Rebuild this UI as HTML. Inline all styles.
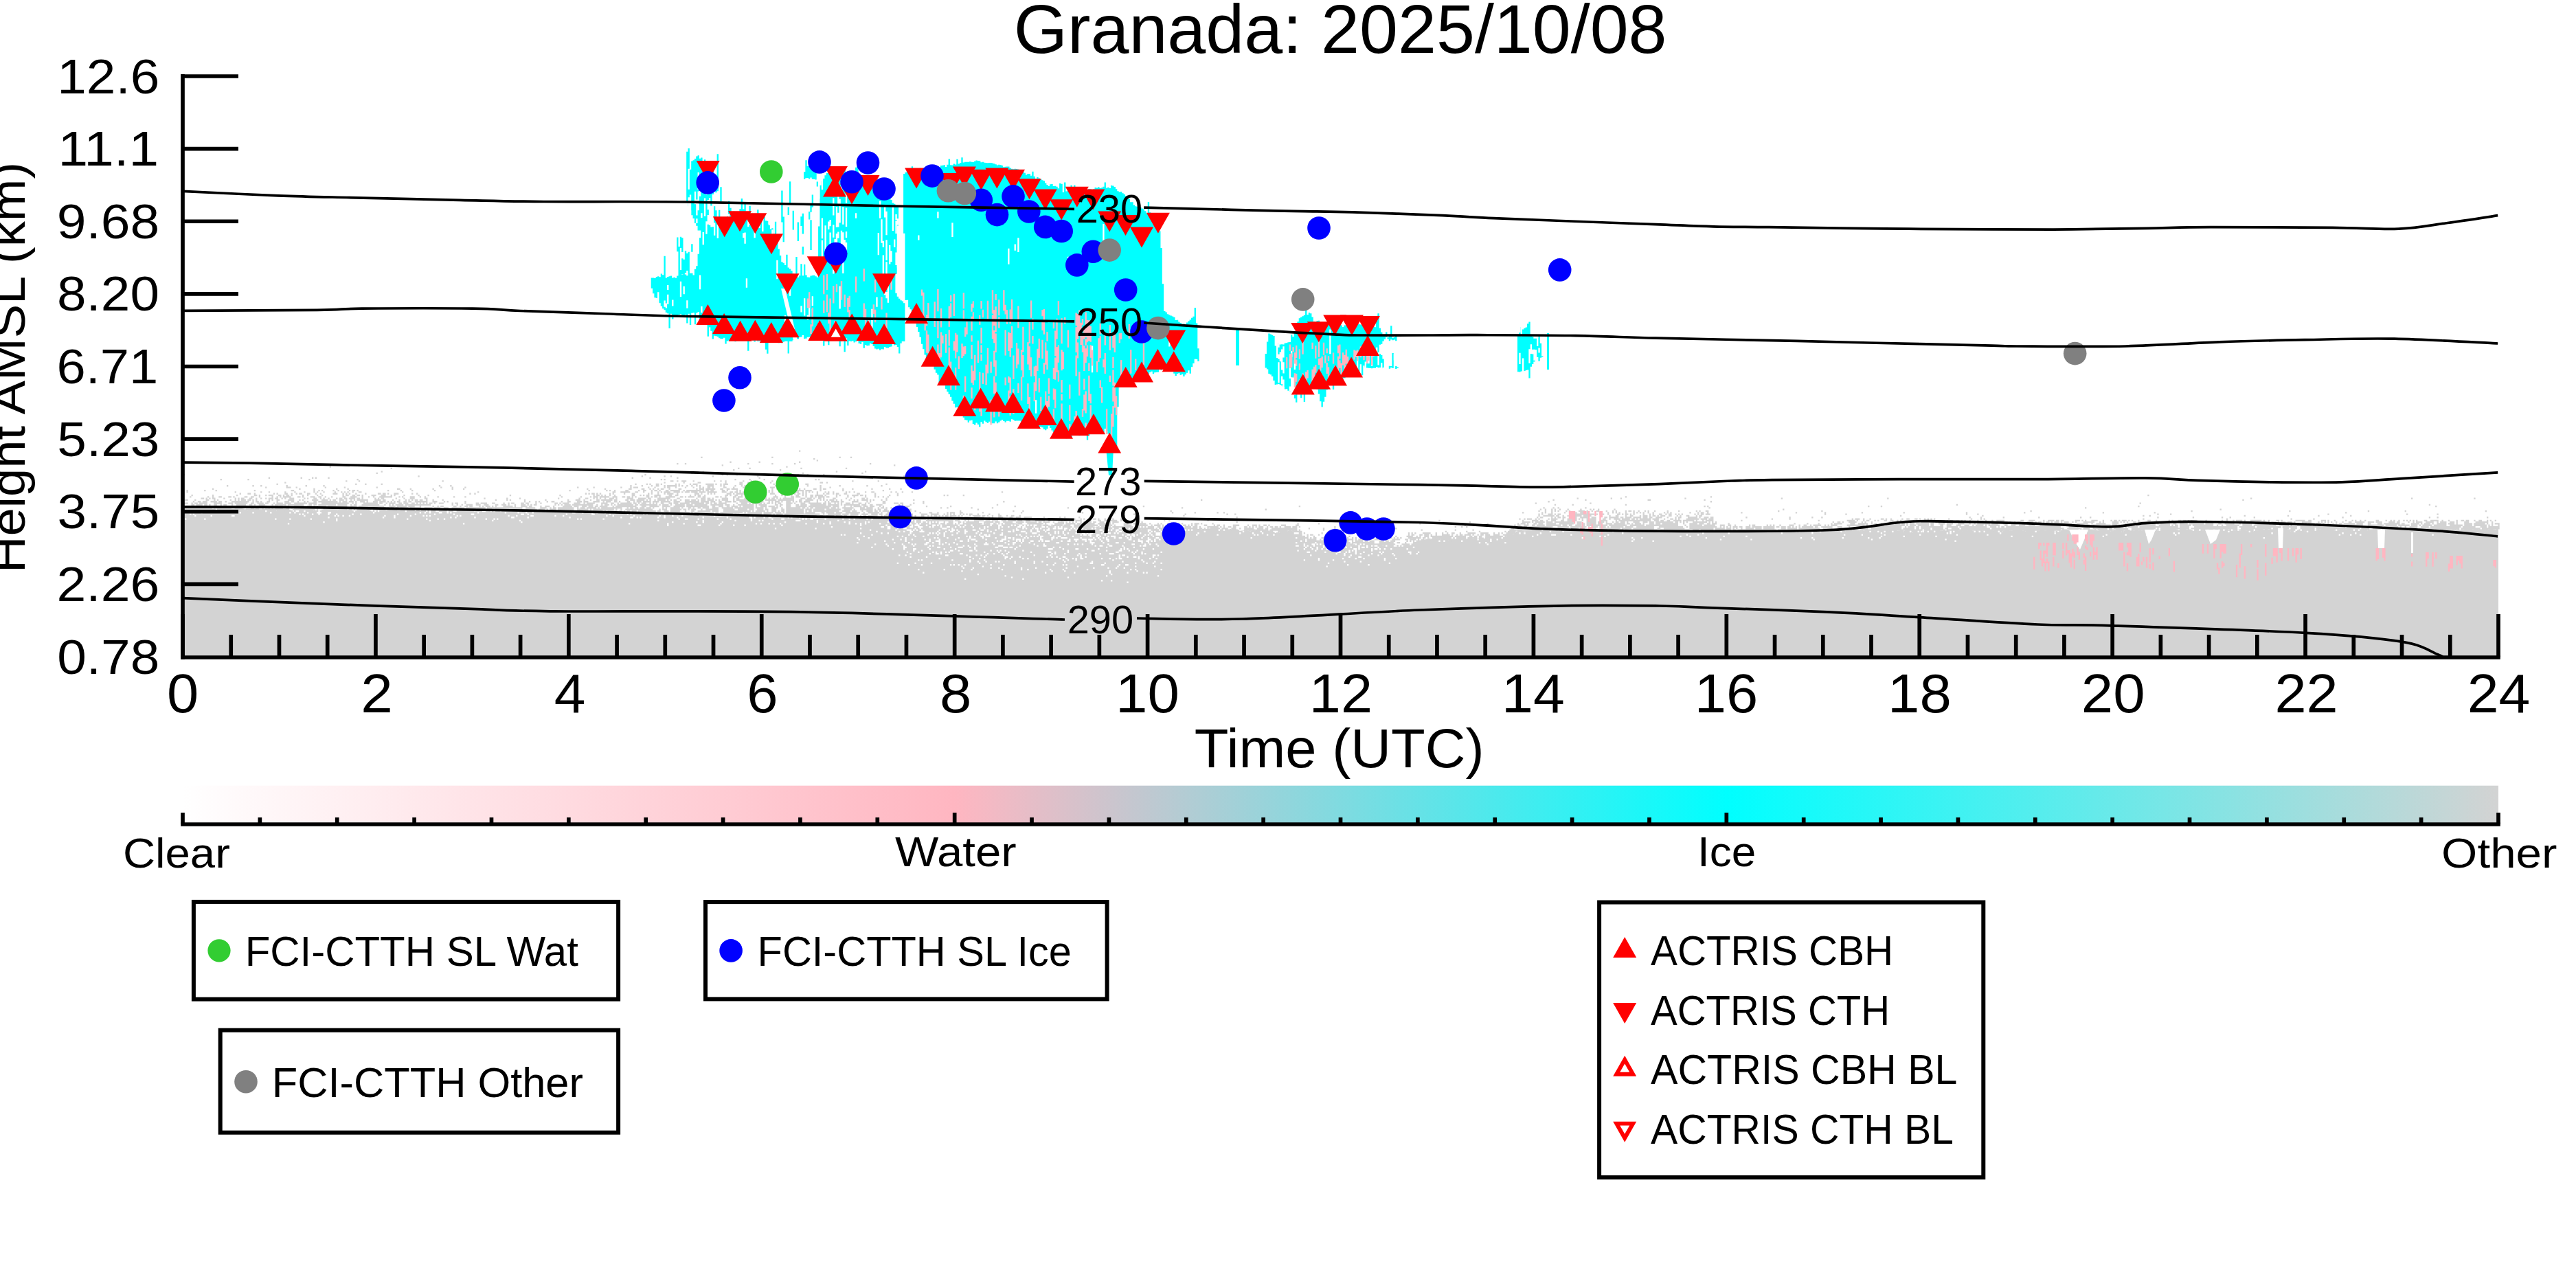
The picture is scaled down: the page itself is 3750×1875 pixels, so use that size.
<!DOCTYPE html>
<html><head><meta charset="utf-8"><style>html,body{margin:0;padding:0;background:#fff;width:3750px;height:1875px;overflow:hidden;position:relative}</style></head><body><svg width="3750" height="1875" viewBox="0 0 3750 1875" style="display:block;position:absolute;left:0;top:0" font-family='"Liberation Sans", sans-serif'>
<rect x="0" y="0" width="3750" height="1875" fill="#fff"/>
<path fill="#d3d3d3" d="M266 741.15V957H266.76V741.15zM266.76 741.02V957H269.1V741.02zM269.1 743.24V957H271.44V743.24zM271.44 742.33V957H273.78V742.33zM273.78 742.14V957H276.12V742.14zM276.12 741.6V957H278.46V741.6zM278.46 741.19V957H280.8V741.19zM280.8 741.33V957H283.14V741.33zM283.14 742.23V957H285.48V742.23zM285.48 742.15V957H287.82V742.15zM287.82 744.42V957H290.16V744.42zM290.16 743.89V957H292.5V743.89zM292.5 741.31V957H294.84V741.31zM294.84 741.19V957H297.18V741.19zM297.18 743.18V957H299.52V743.18zM299.52 743.92V957H301.86V743.92zM301.86 741.47V957H304.2V741.47zM304.2 741.89V957H306.54V741.89zM306.54 741.22V957H308.88V741.22zM308.88 742.71V957H311.22V742.71zM311.22 741.07V957H313.56V741.07zM313.56 742.39V957H315.9V742.39zM315.9 741.71V957H318.24V741.71zM318.24 741.38V957H320.58V741.38zM320.58 741.99V957H322.92V741.99zM322.92 741.07V957H325.26V741.07zM325.26 742.08V957H327.6V742.08zM327.6 741.94V957H329.94V741.94zM329.94 742.75V957H332.28V742.75zM332.28 742.29V957H334.62V742.29zM334.62 743.16V957H336.96V743.16zM336.96 742.56V957H339.3V742.56zM339.3 741.74V957H341.64V741.74zM341.64 741.31V957H343.98V741.31zM343.98 743.62V957H346.32V743.62zM346.32 744.25V957H348.66V744.25zM348.66 743.58V957H351V743.58zM351 742.63V957H353.34V742.63zM353.34 742.21V957H355.68V742.21zM355.68 741.18V957H358.02V741.18zM358.02 741.87V957H360.36V741.87zM360.36 743.36V957H362.7V743.36zM362.7 743.29V957H365.04V743.29zM365.04 744.3V957H367.38V744.3zM367.38 743.24V957H369.72V743.24zM369.72 745.41V957H372.06V745.41zM372.06 742.12V957H374.4V742.12zM374.4 741V957H376.74V741zM376.74 741.33V957H379.08V741.33zM379.08 741.27V957H381.42V741.27zM381.42 741.37V957H383.76V741.37zM383.76 741.99V957H386.1V741.99zM386.1 742.09V957H388.44V742.09zM388.44 742.67V957H390.78V742.67zM390.78 741.54V957H393.12V741.54zM393.12 741.11V957H395.46V741.11zM395.46 741.95V957H397.8V741.95zM397.8 742.45V957H400.14V742.45zM400.14 742.77V957H402.48V742.77zM402.48 744.23V957H404.82V744.23zM404.82 743.04V957H407.16V743.04zM407.16 742.08V957H409.5V742.08zM409.5 741.79V957H411.84V741.79zM411.84 741.19V957H414.18V741.19zM414.18 742.92V957H416.52V742.92zM416.52 742.43V957H418.86V742.43zM418.86 741.55V957H421.2V741.55zM421.2 741.91V957H423.54V741.91zM423.54 744.14V957H425.88V744.14zM425.88 744.83V957H428.22V744.83zM428.22 744.77V957H430.56V744.77zM430.56 742.71V957H432.9V742.71zM432.9 742.05V957H435.24V742.05zM435.24 742.26V957H437.58V742.26zM437.58 741.64V957H439.92V741.64zM439.92 743.55V957H442.26V743.55zM442.26 743.96V957H444.6V743.96zM444.6 741.25V957H446.94V741.25zM446.94 741.41V957H449.28V741.41zM449.28 741.02V957H451.62V741.02zM451.62 741.13V957H453.96V741.13zM453.96 741.72V957H456.3V741.72zM456.3 744.08V957H458.64V744.08zM458.64 743.25V957H460.98V743.25zM460.98 743.66V957H463.32V743.66zM463.32 742.67V957H465.66V742.67zM465.66 742.92V957H468V742.92zM468 741.4V957H470.34V741.4zM470.34 741.97V957H472.68V741.97zM472.68 741.91V957H475.02V741.91zM475.02 741.02V957H477.36V741.02zM477.36 741.13V957H479.7V741.13zM479.7 741.76V957H482.04V741.76zM482.04 741.01V957H484.38V741.01zM484.38 742.65V957H486.72V742.65zM486.72 741.06V957H489.06V741.06zM489.06 741.11V957H491.4V741.11zM491.4 743.57V957H493.74V743.57zM493.74 742.89V957H496.08V742.89zM496.08 742.06V957H498.42V742.06zM498.42 741.53V957H500.76V741.53zM500.76 741.1V957H503.1V741.1zM503.1 743.06V957H505.44V743.06zM505.44 741.66V957H507.78V741.66zM507.78 741.19V957H510.12V741.19zM510.12 741.34V957H512.46V741.34zM512.46 742.92V957H514.8V742.92zM514.8 743.52V957H517.14V743.52zM517.14 743.16V957H519.48V743.16zM519.48 741.63V957H521.82V741.63zM521.82 741.5V957H524.16V741.5zM524.16 742.25V957H526.5V742.25zM526.5 741.43V957H528.84V741.43zM528.84 742.35V957H531.18V742.35zM531.18 741.22V957H533.52V741.22zM533.52 741.81V957H535.86V741.81zM535.86 743.97V957H538.2V743.97zM538.2 743.84V957H540.54V743.84zM540.54 744.45V957H542.88V744.45zM542.88 741.43V957H545.22V741.43zM545.22 742.17V957H547.56V742.17zM547.56 741.45V957H549.9V741.45zM549.9 741.71V957H552.24V741.71zM552.24 741.95V957H554.58V741.95zM554.58 741.18V957H556.92V741.18zM556.92 741.11V957H559.26V741.11zM559.26 741.13V957H561.6V741.13zM561.6 743.26V957H563.94V743.26zM563.94 742.57V957H566.28V742.57zM566.28 741.6V957H568.62V741.6zM568.62 741.16V957H570.96V741.16zM570.96 741.44V957H573.3V741.44zM573.3 742.23V957H575.64V742.23zM575.64 741.08V957H577.98V741.08zM577.98 742.83V957H580.32V742.83zM580.32 743.21V957H582.66V743.21zM582.66 742.91V957H585V742.91zM585 741.3V957H587.34V741.3zM587.34 741.98V957H589.68V741.98zM589.68 741.37V957H592.02V741.37zM592.02 742.1V957H594.36V742.1zM594.36 742.02V957H596.7V742.02zM596.7 741.92V957H599.04V741.92zM599.04 742.35V957H601.38V742.35zM601.38 741.74V957H603.72V741.74zM603.72 744.06V957H606.06V744.06zM606.06 741.88V957H608.4V741.88zM608.4 741.6V957H610.74V741.6zM610.74 743.75V957H613.08V743.75zM613.08 742.05V957H615.42V742.05zM615.42 741.53V957H617.76V741.53zM617.76 742.46V957H620.1V742.46zM620.1 743.23V957H622.44V743.23zM622.44 743.57V957H624.78V743.57zM624.78 742.1V957H627.12V742.1zM627.12 742.75V957H629.46V742.75zM629.46 742.93V957H631.8V742.93zM631.8 742.04V957H634.14V742.04zM634.14 742.39V957H636.48V742.39zM636.48 742.9V957H638.82V742.9zM638.82 743.23V957H641.16V743.23zM641.16 741.4V957H643.5V741.4zM643.5 744.35V957H645.84V744.35zM645.84 743.53V957H648.18V743.53zM648.18 745.08V957H650.52V745.08zM650.52 743.23V957H652.86V743.23zM652.86 742.6V957H655.2V742.6zM655.2 744.86V957H657.54V744.86zM657.54 744.62V957H659.88V744.62zM659.88 745.5V957H662.22V745.5zM662.22 745.6V957H664.56V745.6zM664.56 744.41V957H666.9V744.41zM666.9 743.55V957H669.24V743.55zM669.24 741.69V957H671.58V741.69zM671.58 743.6V957H673.92V743.6zM673.92 744.85V957H676.26V744.85zM676.26 744.38V957H678.6V744.38zM678.6 741.85V957H680.94V741.85zM680.94 743.41V957H683.28V743.41zM683.28 744.19V957H685.62V744.19zM685.62 744.08V957H687.96V744.08zM687.96 745.29V957H690.3V745.29zM690.3 744.34V957H692.64V744.34zM692.64 743.77V957H694.98V743.77zM694.98 742.7V957H697.32V742.7zM697.32 742.59V957H699.66V742.59zM699.66 741.92V957H702V741.92zM702 743.54V957H704.34V743.54zM704.34 742.76V957H706.68V742.76zM706.68 743.78V957H709.02V743.78zM709.02 743.87V957H711.36V743.87zM711.36 743.4V957H713.7V743.4zM713.7 744.58V957H716.04V744.58zM716.04 742.96V957H718.38V742.96zM718.38 742.51V957H720.72V742.51zM720.72 743.42V957H723.06V743.42zM723.06 742.83V957H725.4V742.83zM725.4 743.74V957H727.74V743.74zM727.74 745.11V957H730.08V745.11zM730.08 743.7V957H732.42V743.7zM732.42 743.56V957H734.76V743.56zM734.76 743.31V957H737.1V743.31zM737.1 742.84V957H739.44V742.84zM739.44 742.82V957H741.78V742.82zM741.78 742.36V957H744.12V742.36zM744.12 743.01V957H746.46V743.01zM746.46 743.6V957H748.8V743.6zM748.8 744.83V957H751.14V744.83zM751.14 742.55V957H753.48V742.55zM753.48 743.5V957H755.82V743.5zM755.82 743.67V957H758.16V743.67zM758.16 742.65V957H760.5V742.65zM760.5 744.58V957H762.84V744.58zM762.84 744.69V957H765.18V744.69zM765.18 742.69V957H767.52V742.69zM767.52 743.15V957H769.86V743.15zM769.86 742.69V957H772.2V742.69zM772.2 743.5V957H774.54V743.5zM774.54 743.76V957H776.88V743.76zM776.88 742.91V957H779.22V742.91zM779.22 743.08V957H781.56V743.08zM781.56 743.29V957H783.9V743.29zM783.9 745.8V957H786.24V745.8zM786.24 745.78V957H788.58V745.78zM788.58 744.41V957H790.92V744.41zM790.92 744.66V957H793.26V744.66zM793.26 745.53V957H795.6V745.53zM795.6 743.67V957H797.94V743.67zM797.94 743.13V957H800.28V743.13zM800.28 745.68V957H802.62V745.68zM802.62 743.14V957H804.96V743.14zM804.96 743.97V957H807.3V743.97zM807.3 743.13V957H809.64V743.13zM809.64 743.98V957H811.98V743.98zM811.98 744.29V957H814.32V744.29zM814.32 743.76V957H816.66V743.76zM816.66 743.53V957H819V743.53zM819 745.28V957H821.34V745.28zM821.34 745.05V957H823.68V745.05zM823.68 743.89V957H826.02V743.89zM826.02 744.3V957H828.36V744.3zM828.36 744.64V957H830.7V744.64zM830.7 744.9V957H833.04V744.9zM833.04 744.15V957H835.38V744.15zM835.38 744.14V957H837.72V744.14zM837.72 743.97V957H840.06V743.97zM840.06 744.38V957H842.4V744.38zM842.4 743.9V957H844.74V743.9zM844.74 744.8V957H847.08V744.8zM847.08 745.95V957H849.42V745.95zM849.42 745.8V957H851.76V745.8zM851.76 745.99V957H854.1V745.99zM854.1 745.32V957H856.44V745.32zM856.44 745.65V957H858.78V745.65zM858.78 745.04V957H861.12V745.04zM861.12 745.2V957H863.46V745.2zM863.46 744.55V957H865.8V744.55zM865.8 744.49V957H868.14V744.49zM868.14 744.79V957H870.48V744.79zM870.48 745.83V957H872.82V745.83zM872.82 745.06V957H875.16V745.06zM875.16 744.99V957H877.5V744.99zM877.5 747.6V957H879.84V747.6zM879.84 748.06V957H882.18V748.06zM882.18 745V957H884.52V745zM884.52 745.71V957H886.86V745.71zM886.86 745.17V957H889.2V745.17zM889.2 746.2V957H891.54V746.2zM891.54 748.3V957H893.88V748.3zM893.88 748.33V957H896.22V748.33zM896.22 747.4V957H898.56V747.4zM898.56 747.32V957H900.9V747.32zM900.9 746.88V957H903.24V746.88zM903.24 747.24V957H905.58V747.24zM905.58 746.66V957H907.92V746.66zM907.92 748.44V957H910.26V748.44zM910.26 749.58V957H912.6V749.58zM912.6 747.52V957H914.94V747.52zM914.94 746.61V957H917.28V746.61zM917.28 746.82V957H919.62V746.82zM919.62 746.32V957H921.96V746.32zM921.96 747.38V957H924.3V747.38zM924.3 747.34V957H926.64V747.34zM926.64 746.21V957H928.98V746.21zM928.98 746.97V957H931.32V746.97zM931.32 746.2V957H933.66V746.2zM933.66 746.65V957H936V746.65zM936 747.87V957H938.34V747.87zM938.34 747.47V957H940.68V747.47zM940.68 747.28V957H943.02V747.28zM943.02 746.69V957H945.36V746.69zM945.36 748.37V957H947.7V748.37zM947.7 748.24V957H950.04V748.24zM950.04 746.92V957H952.38V746.92zM952.38 748.79V957H954.72V748.79zM954.72 747.24V957H957.06V747.24zM957.06 747.82V957H959.4V747.82zM959.4 747.09V957H961.74V747.09zM961.74 747.53V957H964.08V747.53zM964.08 748.14V957H966.42V748.14zM966.42 748.57V957H968.76V748.57zM968.76 749.82V957H971.1V749.82zM971.1 747.87V957H973.44V747.87zM973.44 748.47V957H975.78V748.47zM975.78 750.88V957H978.12V750.88zM978.12 751.04V957H980.46V751.04zM980.46 752.66V957H982.8V752.66zM982.8 749.68V957H985.14V749.68zM985.14 747.76V957H987.48V747.76zM987.48 749.33V957H989.82V749.33zM989.82 748.2V957H992.16V748.2zM992.16 749.95V957H994.5V749.95zM994.5 749.4V957H996.84V749.4zM996.84 749V957H999.18V749zM999.18 748.45V957H1001.52V748.45zM1001.52 748.86V957H1003.86V748.86zM1003.86 749.07V957H1006.2V749.07zM1006.2 748.66V957H1008.54V748.66zM1008.54 751.36V957H1010.88V751.36zM1010.88 751.48V957H1013.22V751.48zM1013.22 749.13V957H1015.56V749.13zM1015.56 750.07V957H1017.9V750.07zM1017.9 750.68V957H1020.24V750.68zM1020.24 750.08V957H1022.58V750.08zM1022.58 749.53V957H1024.92V749.53zM1024.92 750.48V957H1027.26V750.48zM1027.26 752.36V957H1029.6V752.36zM1029.6 753.79V957H1031.94V753.79zM1031.94 753.31V957H1034.28V753.31zM1034.28 751.63V957H1036.62V751.63zM1036.62 749.02V957H1038.96V749.02zM1038.96 750.22V957H1041.3V750.22zM1041.3 749.75V957H1043.64V749.75zM1043.64 750.14V957H1045.98V750.14zM1045.98 749.41V957H1048.32V749.41zM1048.32 749.07V957H1050.66V749.07zM1050.66 750.47V957H1053V750.47zM1053 751.14V957H1055.34V751.14zM1055.34 751.86V957H1057.68V751.86zM1057.68 750.9V957H1060.02V750.9zM1060.02 749.39V957H1062.36V749.39zM1062.36 750.29V957H1064.7V750.29zM1064.7 750.42V957H1067.04V750.42zM1067.04 749.67V957H1069.38V749.67zM1069.38 750.71V957H1071.72V750.71zM1071.72 750.85V957H1074.06V750.85zM1074.06 751.51V957H1076.4V751.51zM1076.4 752.2V957H1078.74V752.2zM1078.74 750.06V957H1081.08V750.06zM1081.08 750.73V957H1083.42V750.73zM1083.42 751.33V957H1085.76V751.33zM1085.76 750.52V957H1088.1V750.52zM1088.1 751.26V957H1090.44V751.26zM1090.44 752.14V957H1092.78V752.14zM1092.78 754.87V957H1095.12V754.87zM1095.12 753.11V957H1097.46V753.11zM1097.46 750.77V957H1099.8V750.77zM1099.8 751.4V957H1102.14V751.4zM1102.14 751.75V957H1104.48V751.75zM1104.48 750.62V957H1106.82V750.62zM1106.82 751V957H1109.16V751zM1109.16 751.44V957H1111.5V751.44zM1111.5 751.58V957H1113.84V751.58zM1113.84 750.69V957H1116.18V750.69zM1116.18 750.94V957H1118.52V750.94zM1118.52 751.41V957H1120.86V751.41zM1120.86 752.51V957H1123.2V752.51zM1123.2 752.75V957H1125.54V752.75zM1125.54 751.36V957H1127.88V751.36zM1127.88 751.86V957H1130.22V751.86zM1130.22 751.12V957H1132.56V751.12zM1132.56 751.66V957H1134.9V751.66zM1134.9 751.97V957H1137.24V751.97zM1137.24 751.79V957H1139.58V751.79zM1139.58 751.81V957H1141.92V751.81zM1141.92 752.9V957H1144.26V752.9zM1144.26 752.48V957H1146.6V752.48zM1146.6 751.79V957H1148.94V751.79zM1148.94 752.77V957H1151.28V752.77zM1151.28 752.01V957H1153.62V752.01zM1153.62 752.37V957H1155.96V752.37zM1155.96 752.3V957H1158.3V752.3zM1158.3 751.92V957H1160.64V751.92zM1160.64 752.89V957H1162.98V752.89zM1162.98 752.19V957H1165.32V752.19zM1165.32 752.74V957H1167.66V752.74zM1167.66 752.31V957H1170V752.31zM1170 752.4V957H1172.34V752.4zM1172.34 753.9V957H1174.68V753.9zM1174.68 753.41V957H1177.02V753.41zM1177.02 752.63V957H1179.36V752.63zM1179.36 753.25V957H1181.7V753.25zM1181.7 753.97V957H1184.04V753.97zM1184.04 754.75V957H1186.38V754.75zM1186.38 754.24V957H1188.72V754.24zM1188.72 753.13V957H1191.06V753.13zM1191.06 752.78V957H1193.4V752.78zM1193.4 753.4V957H1195.74V753.4zM1195.74 754.07V957H1198.08V754.07zM1198.08 753.57V957H1200.42V753.57zM1200.42 753.71V957H1202.76V753.71zM1202.76 753.39V957H1205.1V753.39zM1205.1 753.47V957H1207.44V753.47zM1207.44 753.02V957H1209.78V753.02zM1209.78 754.26V957H1212.12V754.26zM1212.12 755.1V957H1214.46V755.1zM1214.46 753.38V957H1216.8V753.38zM1216.8 753.69V957H1219.14V753.69zM1219.14 756.06V957H1221.48V756.06zM1221.48 755.55V957H1223.82V755.55zM1223.82 755.73V957H1226.16V755.73zM1226.16 754.69V957H1228.5V754.69zM1228.5 755.45V957H1230.84V755.45zM1230.84 754.97V957H1233.18V754.97zM1233.18 754.3V957H1235.52V754.3zM1235.52 753.74V957H1237.86V753.74zM1237.86 756.25V957H1240.2V756.25zM1240.2 754.8V957H1242.54V754.8zM1242.54 754.17V957H1244.88V754.17zM1244.88 754.25V957H1247.22V754.25zM1247.22 754.24V957H1249.56V754.24zM1249.56 755.68V957H1251.9V755.68zM1251.9 755.2V957H1254.24V755.2zM1254.24 754.48V957H1256.58V754.48zM1256.58 754.66V957H1258.92V754.66zM1258.92 754.58V957H1261.26V754.58zM1261.26 756.15V957H1263.6V756.15zM1263.6 754.84V957H1265.94V754.84zM1265.94 754.98V957H1268.28V754.98zM1268.28 759V957H1270.62V759zM1270.62 758.67V957H1272.96V758.67zM1272.96 757.31V957H1275.3V757.31zM1275.3 756.8V957H1277.64V756.8zM1277.64 756V957H1279.98V756zM1279.98 754.93V957H1282.32V754.93zM1282.32 755.04V957H1284.66V755.04zM1284.66 755.16V957H1287V755.16zM1287 755.83V957H1289.34V755.83zM1289.34 755.14V957H1291.68V755.14zM1291.68 755.39V957H1294.02V755.39zM1294.02 755.99V957H1296.36V755.99zM1296.36 756.05V957H1298.7V756.05zM1298.7 755.4V957H1301.04V755.4zM1301.04 755.99V957H1303.38V755.99zM1303.38 757.23V957H1305.72V757.23zM1305.72 757.84V957H1308.06V757.84zM1308.06 756.23V957H1310.4V756.23zM1310.4 756.13V957H1312.74V756.13zM1312.74 756.36V957H1315.08V756.36zM1315.08 757.68V957H1317.42V757.68zM1317.42 759.6V957H1319.76V759.6zM1319.76 756.54V957H1322.1V756.54zM1322.1 757.67V957H1324.44V757.67zM1324.44 756.08V957H1326.78V756.08zM1326.78 756.35V957H1329.12V756.35zM1329.12 756.02V957H1331.46V756.02zM1331.46 757.48V957H1333.8V757.48zM1333.8 756.7V957H1336.14V756.7zM1336.14 757.05V957H1338.48V757.05zM1338.48 758.11V957H1340.82V758.11zM1340.82 758.78V957H1343.16V758.78zM1343.16 757.82V957H1345.5V757.82zM1345.5 758.26V957H1347.84V758.26zM1347.84 759.35V957H1350.18V759.35zM1350.18 759V957H1352.52V759zM1352.52 758.37V957H1354.86V758.37zM1354.86 758.51V957H1357.2V758.51zM1357.2 759.03V957H1359.54V759.03zM1359.54 759.12V957H1361.88V759.12zM1361.88 760.06V957H1364.22V760.06zM1364.22 758.46V957H1366.56V758.46zM1366.56 757.96V957H1368.9V757.96zM1368.9 757.63V957H1371.24V757.63zM1371.24 758.73V957H1373.58V758.73zM1373.58 759.91V957H1375.92V759.91zM1375.92 760.41V957H1378.26V760.41zM1378.26 760.54V957H1380.6V760.54zM1380.6 760.79V957H1382.94V760.79zM1382.94 759.63V957H1385.28V759.63zM1385.28 758.86V957H1387.62V758.86zM1387.62 759.55V957H1389.96V759.55zM1389.96 759.25V957H1392.3V759.25zM1392.3 759.58V957H1394.64V759.58zM1394.64 760.24V957H1396.98V760.24zM1396.98 759.27V957H1399.32V759.27zM1399.32 758.88V957H1401.66V758.88zM1401.66 759.71V957H1404V759.71zM1404 759.3V957H1406.34V759.3zM1406.34 759.36V957H1408.68V759.36zM1408.68 759.42V957H1411.02V759.42zM1411.02 759.29V957H1413.36V759.29zM1413.36 760.96V957H1415.7V760.96zM1415.7 761.37V957H1418.04V761.37zM1418.04 761.02V957H1420.38V761.02zM1420.38 761.55V957H1422.72V761.55zM1422.72 764.35V957H1425.06V764.35zM1425.06 761.77V957H1427.4V761.77zM1427.4 763.45V957H1429.74V763.45zM1429.74 763.96V957H1432.08V763.96zM1432.08 762.75V957H1434.42V762.75zM1434.42 760.93V957H1436.76V760.93zM1436.76 762.26V957H1439.1V762.26zM1439.1 763.03V957H1441.44V763.03zM1441.44 760.56V957H1443.78V760.56zM1443.78 760.87V957H1446.12V760.87zM1446.12 760.76V957H1448.46V760.76zM1448.46 761.4V957H1450.8V761.4zM1450.8 761.84V957H1453.14V761.84zM1453.14 762.24V957H1455.48V762.24zM1455.48 760.9V957H1457.82V760.9zM1457.82 762.91V957H1460.16V762.91zM1460.16 762.51V957H1462.5V762.51zM1462.5 761.67V957H1464.84V761.67zM1464.84 764.4V957H1467.18V764.4zM1467.18 765.58V957H1469.52V765.58zM1469.52 763.65V957H1471.86V763.65zM1471.86 761.96V957H1474.2V761.96zM1474.2 762.33V957H1476.54V762.33zM1476.54 761.78V957H1478.88V761.78zM1478.88 761.98V957H1481.22V761.98zM1481.22 763.4V957H1483.56V763.4zM1483.56 765.31V957H1485.9V765.31zM1485.9 765.81V957H1488.24V765.81zM1488.24 764.08V957H1490.58V764.08zM1490.58 765.33V957H1492.92V765.33zM1492.92 763.56V957H1495.26V763.56zM1495.26 763.27V957H1497.6V763.27zM1497.6 763.99V957H1499.94V763.99zM1499.94 763.71V957H1502.28V763.71zM1502.28 763.35V957H1504.62V763.35zM1504.62 762.89V957H1506.96V762.89zM1506.96 764.74V957H1509.3V764.74zM1509.3 765.28V957H1511.64V765.28zM1511.64 766.23V957H1513.98V766.23zM1513.98 765.74V957H1516.32V765.74zM1516.32 764.9V957H1518.66V764.9zM1518.66 763.42V957H1521V763.42zM1521 764.25V957H1523.34V764.25zM1523.34 763.98V957H1525.68V763.98zM1525.68 764.75V957H1528.02V764.75zM1528.02 765.39V957H1530.36V765.39zM1530.36 766.45V957H1532.7V766.45zM1532.7 764V957H1535.04V764zM1535.04 764.14V957H1537.38V764.14zM1537.38 766.06V957H1539.72V766.06zM1539.72 764.67V957H1542.06V764.67zM1542.06 765.37V957H1544.4V765.37zM1544.4 765.5V957H1546.74V765.5zM1546.74 764.75V957H1549.08V764.75zM1549.08 765.15V957H1551.42V765.15zM1551.42 764.76V957H1553.76V764.76zM1553.76 766.35V957H1556.1V766.35zM1556.1 767.12V957H1558.44V767.12zM1558.44 766.98V957H1560.78V766.98zM1560.78 769.03V957H1563.12V769.03zM1563.12 768.1V957H1565.46V768.1zM1565.46 767.91V957H1567.8V767.91zM1567.8 766.85V957H1570.14V766.85zM1570.14 765.42V957H1572.48V765.42zM1572.48 765.74V957H1574.82V765.74zM1574.82 767.37V957H1577.16V767.37zM1577.16 767.66V957H1579.5V767.66zM1579.5 767.63V957H1581.84V767.63zM1581.84 766.47V957H1584.18V766.47zM1584.18 766.68V957H1586.52V766.68zM1586.52 767.38V957H1588.86V767.38zM1588.86 767.04V957H1591.2V767.04zM1591.2 766.19V957H1593.54V766.19zM1593.54 767.38V957H1595.88V767.38zM1595.88 766.45V957H1598.22V766.45zM1598.22 768.46V957H1600.56V768.46zM1600.56 767.37V957H1602.9V767.37zM1602.9 766.74V957H1605.24V766.74zM1605.24 768.18V957H1607.58V768.18zM1607.58 767.67V957H1609.92V767.67zM1609.92 767.6V957H1612.26V767.6zM1612.26 769.02V957H1614.6V769.02zM1614.6 768.26V957H1616.94V768.26zM1616.94 767.41V957H1619.28V767.41zM1619.28 769.79V957H1621.62V769.79zM1621.62 769.65V957H1623.96V769.65zM1623.96 769.61V957H1626.3V769.61zM1626.3 770.44V957H1628.64V770.44zM1628.64 771.38V957H1630.98V771.38zM1630.98 770.32V957H1633.32V770.32zM1633.32 769.54V957H1635.66V769.54zM1635.66 769.12V957H1638V769.12zM1638 768.07V957H1640.34V768.07zM1640.34 768.88V957H1642.68V768.88zM1642.68 769.08V957H1645.02V769.08zM1645.02 769.65V957H1647.36V769.65zM1647.36 769.07V957H1649.7V769.07zM1649.7 769.54V957H1652.04V769.54zM1652.04 770.19V957H1654.38V770.19zM1654.38 769.53V957H1656.72V769.53zM1656.72 768.86V957H1659.06V768.86zM1659.06 769.93V957H1661.4V769.93zM1661.4 771.81V957H1663.74V771.81zM1663.74 771.35V957H1666.08V771.35zM1666.08 769.23V957H1668.42V769.23zM1668.42 770.31V957H1670.76V770.31zM1670.76 769.26V957H1673.1V769.26zM1673.1 770.03V957H1675.44V770.03zM1675.44 770.93V957H1677.78V770.93zM1677.78 769.84V957H1680.12V769.84zM1680.12 769.69V957H1682.46V769.69zM1682.46 770V957H1684.8V770zM1684.8 770.13V957H1687.14V770.13zM1687.14 770.41V957H1689.48V770.41zM1689.48 770.64V957H1691.82V770.64zM1691.82 769.97V957H1694.16V769.97zM1694.16 769.53V957H1696.5V769.53zM1696.5 769.49V957H1698.84V769.49zM1698.84 768.66V957H1701.18V768.66zM1701.18 768.8V957H1703.52V768.8zM1703.52 769.39V957H1705.86V769.39zM1705.86 768.41V957H1708.2V768.41zM1708.2 769.31V957H1710.54V769.31zM1710.54 769.62V957H1712.88V769.62zM1712.88 770.22V957H1715.22V770.22zM1715.22 769.61V957H1717.56V769.61zM1717.56 769.85V957H1719.9V769.85zM1719.9 769.07V957H1722.24V769.07zM1722.24 770.71V957H1724.58V770.71zM1724.58 769.9V957H1726.92V769.9zM1726.92 769.21V957H1729.26V769.21zM1729.26 770.32V957H1731.6V770.32zM1731.6 769.19V957H1733.94V769.19zM1733.94 770.3V957H1736.28V770.3zM1736.28 768.8V957H1738.62V768.8zM1738.62 769.35V957H1740.96V769.35zM1740.96 769.87V957H1743.3V769.87zM1743.3 770.08V957H1745.64V770.08zM1745.64 769.32V957H1747.98V769.32zM1747.98 770.19V957H1750.32V770.19zM1750.32 769.98V957H1752.66V769.98zM1752.66 769.57V957H1755V769.57zM1755 769.94V957H1757.34V769.94zM1757.34 769.66V957H1759.68V769.66zM1759.68 769.33V957H1762.02V769.33zM1762.02 770.09V957H1764.36V770.09zM1764.36 769.58V957H1766.7V769.58zM1766.7 769.54V957H1769.04V769.54zM1769.04 771.91V957H1771.38V771.91zM1771.38 771.33V957H1773.72V771.33zM1773.72 770.41V957H1776.06V770.41zM1776.06 771.27V957H1778.4V771.27zM1778.4 771.24V957H1780.74V771.24zM1780.74 771.77V957H1783.08V771.77zM1783.08 772.35V957H1785.42V772.35zM1785.42 771.25V957H1787.76V771.25zM1787.76 771.58V957H1790.1V771.58zM1790.1 770.11V957H1792.44V770.11zM1792.44 770.76V957H1794.78V770.76zM1794.78 770.95V957H1797.12V770.95zM1797.12 771.04V957H1799.46V771.04zM1799.46 771.28V957H1801.8V771.28zM1801.8 771.2V957H1804.14V771.2zM1804.14 773.15V957H1806.48V773.15zM1806.48 772.61V957H1808.82V772.61zM1808.82 771.9V957H1811.16V771.9zM1811.16 771.44V957H1813.5V771.44zM1813.5 772.89V957H1815.84V772.89zM1815.84 772.59V957H1818.18V772.59zM1818.18 774.07V957H1820.52V774.07zM1820.52 772.41V957H1822.86V772.41zM1822.86 773.74V957H1825.2V773.74zM1825.2 772.21V957H1827.54V772.21zM1827.54 770.76V957H1829.88V770.76zM1829.88 771.33V957H1832.22V771.33zM1832.22 770.86V957H1834.56V770.86zM1834.56 771.61V957H1836.9V771.61zM1836.9 771.73V957H1839.24V771.73zM1839.24 771.45V957H1841.58V771.45zM1841.58 771.1V957H1843.92V771.1zM1843.92 773.04V957H1846.26V773.04zM1846.26 772.2V957H1848.6V772.2zM1848.6 773.43V957H1850.94V773.43zM1850.94 774.05V957H1853.28V774.05zM1853.28 774.01V957H1855.62V774.01zM1855.62 775.92V957H1857.96V775.92zM1857.96 775.13V957H1860.3V775.13zM1860.3 773.61V957H1862.64V773.61zM1862.64 776.02V957H1864.98V776.02zM1864.98 774.71V957H1867.32V774.71zM1867.32 773.72V957H1869.66V773.72zM1869.66 773.25V957H1872V773.25zM1872 773.49V957H1874.34V773.49zM1874.34 772.7V957H1876.68V772.7zM1876.68 771.83V957H1879.02V771.83zM1879.02 772.43V957H1881.36V772.43zM1881.36 773.59V957H1883.7V773.59zM1883.7 772.15V957H1886.04V772.15zM1886.04 772.03V957H1888.38V772.03zM1888.38 772.91V957H1890.72V772.91zM1890.72 773.3V957H1893.06V773.3zM1893.06 777.71V957H1895.4V777.71zM1895.4 782.1V957H1897.74V782.1zM1897.74 786.61V957H1900.08V786.61zM1900.08 790.23V957H1902.42V790.23zM1902.42 791.68V957H1904.76V791.68zM1904.76 791.9V957H1907.1V791.9zM1907.1 792.91V957H1909.44V792.91zM1909.44 791.79V957H1911.78V791.79zM1911.78 791.89V957H1914.12V791.89zM1914.12 792.61V957H1916.46V792.61zM1916.46 791.92V957H1918.8V791.92zM1918.8 791.82V957H1921.14V791.82zM1921.14 790.61V957H1923.48V790.61zM1923.48 790.93V957H1925.82V790.93zM1925.82 790.63V957H1928.16V790.63zM1928.16 791.22V957H1930.5V791.22zM1930.5 791.54V957H1932.84V791.54zM1932.84 790.94V957H1935.18V790.94zM1935.18 792.69V957H1937.52V792.69zM1937.52 792.5V957H1939.86V792.5zM1939.86 793.72V957H1942.2V793.72zM1942.2 792.85V957H1944.54V792.85zM1944.54 792.1V957H1946.88V792.1zM1946.88 793.41V957H1949.22V793.41zM1949.22 793.98V957H1951.56V793.98zM1951.56 793.41V957H1953.9V793.41zM1953.9 792.29V957H1956.24V792.29zM1956.24 792.58V957H1958.58V792.58zM1958.58 792.77V957H1960.92V792.77zM1960.92 794.01V957H1963.26V794.01zM1963.26 793.31V957H1965.6V793.31zM1965.6 796.06V957H1967.94V796.06zM1967.94 793.25V957H1970.28V793.25zM1970.28 792.27V957H1972.62V792.27zM1972.62 791.47V957H1974.96V791.47zM1974.96 793.15V957H1977.3V793.15zM1977.3 791.43V957H1979.64V791.43zM1979.64 792.24V957H1981.98V792.24zM1981.98 791.38V957H1984.32V791.38zM1984.32 792.18V957H1986.66V792.18zM1986.66 791.41V957H1989V791.41zM1989 793.58V957H1991.34V793.58zM1991.34 792.3V957H1993.68V792.3zM1993.68 791.62V957H1996.02V791.62zM1996.02 791.59V957H1998.36V791.59zM1998.36 793.26V957H2000.7V793.26zM2000.7 793.67V957H2003.04V793.67zM2003.04 792.61V957H2005.38V792.61zM2005.38 792.4V957H2007.72V792.4zM2007.72 792.49V957H2010.06V792.49zM2010.06 794.29V957H2012.4V794.29zM2012.4 793.41V957H2014.74V793.41zM2014.74 792.13V957H2017.08V792.13zM2017.08 792.24V957H2019.42V792.24zM2019.42 792.24V957H2021.76V792.24zM2021.76 792.35V957H2024.1V792.35zM2024.1 791.77V957H2026.44V791.77zM2026.44 792.08V957H2028.78V792.08zM2028.78 792.37V957H2031.12V792.37zM2031.12 793.24V957H2033.46V793.24zM2033.46 793.04V957H2035.8V793.04zM2035.8 793.36V957H2038.14V793.36zM2038.14 794.31V957H2040.48V794.31zM2040.48 793.84V957H2042.82V793.84zM2042.82 793.14V957H2045.16V793.14zM2045.16 790.57V957H2047.5V790.57zM2047.5 787.49V957H2049.84V787.49zM2049.84 784.89V957H2052.18V784.89zM2052.18 784.54V957H2054.52V784.54zM2054.52 784.29V957H2056.86V784.29zM2056.86 784.42V957H2059.2V784.42zM2059.2 783.96V957H2061.54V783.96zM2061.54 785.39V957H2063.88V785.39zM2063.88 784.96V957H2066.22V784.96zM2066.22 786.02V957H2068.56V786.02zM2068.56 785.12V957H2070.9V785.12zM2070.9 785.76V957H2073.24V785.76zM2073.24 785.16V957H2075.58V785.16zM2075.58 784.88V957H2077.92V784.88zM2077.92 784.13V957H2080.26V784.13zM2080.26 783.71V957H2082.6V783.71zM2082.6 785.45V957H2084.94V785.45zM2084.94 785V957H2087.28V785zM2087.28 783.6V957H2089.62V783.6zM2089.62 783.7V957H2091.96V783.7zM2091.96 784.68V957H2094.3V784.68zM2094.3 783.38V957H2096.64V783.38zM2096.64 785.85V957H2098.98V785.85zM2098.98 784.02V957H2101.32V784.02zM2101.32 783.54V957H2103.66V783.54zM2103.66 783.76V957H2106V783.76zM2106 785.05V957H2108.34V785.05zM2108.34 786.73V957H2110.68V786.73zM2110.68 786.66V957H2113.02V786.66zM2113.02 785.15V957H2115.36V785.15zM2115.36 783.51V957H2117.7V783.51zM2117.7 784.7V957H2120.04V784.7zM2120.04 783.61V957H2122.38V783.61zM2122.38 783.1V957H2124.72V783.1zM2124.72 783.06V957H2127.06V783.06zM2127.06 783.51V957H2129.4V783.51zM2129.4 784.1V957H2131.74V784.1zM2131.74 783.52V957H2134.08V783.52zM2134.08 785.17V957H2136.42V785.17zM2136.42 786V957H2138.76V786zM2138.76 784.68V957H2141.1V784.68zM2141.1 782.61V957H2143.44V782.61zM2143.44 784.29V957H2145.78V784.29zM2145.78 783.8V957H2148.12V783.8zM2148.12 784.42V957H2150.46V784.42zM2150.46 783.81V957H2152.8V783.81zM2152.8 783.14V957H2155.14V783.14zM2155.14 782.82V957H2157.48V782.82zM2157.48 782.56V957H2159.82V782.56zM2159.82 783.64V957H2162.16V783.64zM2162.16 782.37V957H2164.5V782.37zM2164.5 784.02V957H2166.84V784.02zM2166.84 784.5V957H2169.18V784.5zM2169.18 782.75V957H2171.52V782.75zM2171.52 782.91V957H2173.86V782.91zM2173.86 784.78V957H2176.2V784.78zM2176.2 782.73V957H2178.54V782.73zM2178.54 784.07V957H2180.88V784.07zM2180.88 784.41V957H2183.22V784.41zM2183.22 781.53V957H2185.56V781.53zM2185.56 780.68V957H2187.9V780.68zM2187.9 779.49V957H2190.24V779.49zM2190.24 781.23V957H2192.58V781.23zM2192.58 777.73V957H2194.92V777.73zM2194.92 776.49V957H2197.26V776.49zM2197.26 776.53V957H2199.6V776.53zM2199.6 776.03V957H2201.94V776.03zM2201.94 777.37V957H2204.28V777.37zM2204.28 775.85V957H2206.62V775.85zM2206.62 773.51V957H2208.96V773.51zM2208.96 774.33V957H2211.3V774.33zM2211.3 774.66V957H2213.64V774.66zM2213.64 773.46V957H2215.98V773.46zM2215.98 772.72V957H2218.32V772.72zM2218.32 773.33V957H2220.66V773.33zM2220.66 772.63V957H2223V772.63zM2223 772.47V957H2225.34V772.47zM2225.34 772.44V957H2227.68V772.44zM2227.68 772.54V957H2230.02V772.54zM2230.02 771.75V957H2232.36V771.75zM2232.36 772.37V957H2234.7V772.37zM2234.7 771.31V957H2237.04V771.31zM2237.04 771.41V957H2239.38V771.41zM2239.38 771.21V957H2241.72V771.21zM2241.72 771.65V957H2244.06V771.65zM2244.06 771.32V957H2246.4V771.32zM2246.4 770.26V957H2248.74V770.26zM2248.74 770.65V957H2251.08V770.65zM2251.08 771.09V957H2253.42V771.09zM2253.42 771.01V957H2255.76V771.01zM2255.76 771.64V957H2258.1V771.64zM2258.1 771.04V957H2260.44V771.04zM2260.44 770.49V957H2262.78V770.49zM2262.78 770.76V957H2265.12V770.76zM2265.12 770.46V957H2267.46V770.46zM2267.46 771.82V957H2269.8V771.82zM2269.8 771.47V957H2272.14V771.47zM2272.14 771.3V957H2274.48V771.3zM2274.48 771.63V957H2276.82V771.63zM2276.82 770.96V957H2279.16V770.96zM2279.16 770.6V957H2281.5V770.6zM2281.5 770.56V957H2283.84V770.56zM2283.84 770.83V957H2286.18V770.83zM2286.18 770.73V957H2288.52V770.73zM2288.52 771.07V957H2290.86V771.07zM2290.86 771.01V957H2293.2V771.01zM2293.2 771V957H2295.54V771zM2295.54 771.25V957H2297.88V771.25zM2297.88 771.01V957H2300.22V771.01zM2300.22 771.91V957H2302.56V771.91zM2302.56 773.01V957H2304.9V773.01zM2304.9 772.52V957H2307.24V772.52zM2307.24 773.1V957H2309.58V773.1zM2309.58 775.03V957H2311.92V775.03zM2311.92 774.79V957H2314.26V774.79zM2314.26 773.03V957H2316.6V773.03zM2316.6 772.99V957H2318.94V772.99zM2318.94 773.63V957H2321.28V773.63zM2321.28 772.43V957H2323.62V772.43zM2323.62 772.52V957H2325.96V772.52zM2325.96 771.97V957H2328.3V771.97zM2328.3 772.7V957H2330.64V772.7zM2330.64 775.31V957H2332.98V775.31zM2332.98 774.47V957H2335.32V774.47zM2335.32 774.68V957H2337.66V774.68zM2337.66 772.23V957H2340V772.23zM2340 771.11V957H2342.34V771.11zM2342.34 771.32V957H2344.68V771.32zM2344.68 772.09V957H2347.02V772.09zM2347.02 771.85V957H2349.36V771.85zM2349.36 772.39V957H2351.7V772.39zM2351.7 772.31V957H2354.04V772.31zM2354.04 771.36V957H2356.38V771.36zM2356.38 771.55V957H2358.72V771.55zM2358.72 771.67V957H2361.06V771.67zM2361.06 771.31V957H2363.4V771.31zM2363.4 771.99V957H2365.74V771.99zM2365.74 774.84V957H2368.08V774.84zM2368.08 772.64V957H2370.42V772.64zM2370.42 772.63V957H2372.76V772.63zM2372.76 773.09V957H2375.1V773.09zM2375.1 771.9V957H2377.44V771.9zM2377.44 772.81V957H2379.78V772.81zM2379.78 772.12V957H2382.12V772.12zM2382.12 771.37V957H2384.46V771.37zM2384.46 772.53V957H2386.8V772.53zM2386.8 771.33V957H2389.14V771.33zM2389.14 772.2V957H2391.48V772.2zM2391.48 771.69V957H2393.82V771.69zM2393.82 771.71V957H2396.16V771.71zM2396.16 771.9V957H2398.5V771.9zM2398.5 772.92V957H2400.84V772.92zM2400.84 774.37V957H2403.18V774.37zM2403.18 772.68V957H2405.52V772.68zM2405.52 773.04V957H2407.86V773.04zM2407.86 774.3V957H2410.2V774.3zM2410.2 772.51V957H2412.54V772.51zM2412.54 773.49V957H2414.88V773.49zM2414.88 773.58V957H2417.22V773.58zM2417.22 773.23V957H2419.56V773.23zM2419.56 772.92V957H2421.9V772.92zM2421.9 771.85V957H2424.24V771.85zM2424.24 772.15V957H2426.58V772.15zM2426.58 772.4V957H2428.92V772.4zM2428.92 772.47V957H2431.26V772.47zM2431.26 771.78V957H2433.6V771.78zM2433.6 771.76V957H2435.94V771.76zM2435.94 772.9V957H2438.28V772.9zM2438.28 771.86V957H2440.62V771.86zM2440.62 772.71V957H2442.96V772.71zM2442.96 774.75V957H2445.3V774.75zM2445.3 772.42V957H2447.64V772.42zM2447.64 773.87V957H2449.98V773.87zM2449.98 773.69V957H2452.32V773.69zM2452.32 771.76V957H2454.66V771.76zM2454.66 773.75V957H2457V773.75zM2457 772.18V957H2459.34V772.18zM2459.34 773.27V957H2461.68V773.27zM2461.68 773.47V957H2464.02V773.47zM2464.02 774.54V957H2466.36V774.54zM2466.36 774.67V957H2468.7V774.67zM2468.7 775.3V957H2471.04V775.3zM2471.04 774.32V957H2473.38V774.32zM2473.38 775V957H2475.72V775zM2475.72 776.78V957H2478.06V776.78zM2478.06 773.98V957H2480.4V773.98zM2480.4 772.78V957H2482.74V772.78zM2482.74 772.39V957H2485.08V772.39zM2485.08 772.22V957H2487.42V772.22zM2487.42 772.02V957H2489.76V772.02zM2489.76 772.94V957H2492.1V772.94zM2492.1 773.36V957H2494.44V773.36zM2494.44 772.34V957H2496.78V772.34zM2496.78 774.18V957H2499.12V774.18zM2499.12 773.21V957H2501.46V773.21zM2501.46 772.47V957H2503.8V772.47zM2503.8 771.98V957H2506.14V771.98zM2506.14 773.44V957H2508.48V773.44zM2508.48 774.63V957H2510.82V774.63zM2510.82 774.25V957H2513.16V774.25zM2513.16 772.49V957H2515.5V772.49zM2515.5 773.93V957H2517.84V773.93zM2517.84 772.04V957H2520.18V772.04zM2520.18 772.38V957H2522.52V772.38zM2522.52 773.44V957H2524.86V773.44zM2524.86 771.82V957H2527.2V771.82zM2527.2 772.76V957H2529.54V772.76zM2529.54 772.5V957H2531.88V772.5zM2531.88 772.47V957H2534.22V772.47zM2534.22 772.27V957H2536.56V772.27zM2536.56 772.71V957H2538.9V772.71zM2538.9 771.93V957H2541.24V771.93zM2541.24 772.24V957H2543.58V772.24zM2543.58 773.31V957H2545.92V773.31zM2545.92 771.68V957H2548.26V771.68zM2548.26 773.05V957H2550.6V773.05zM2550.6 774.18V957H2552.94V774.18zM2552.94 772.67V957H2555.28V772.67zM2555.28 772.98V957H2557.62V772.98zM2557.62 772.42V957H2559.96V772.42zM2559.96 772.97V957H2562.3V772.97zM2562.3 773.11V957H2564.64V773.11zM2564.64 771.74V957H2566.98V771.74zM2566.98 772.82V957H2569.32V772.82zM2569.32 772.59V957H2571.66V772.59zM2571.66 773.26V957H2574V773.26zM2574 771.9V957H2576.34V771.9zM2576.34 774.04V957H2578.68V774.04zM2578.68 773.78V957H2581.02V773.78zM2581.02 771.51V957H2583.36V771.51zM2583.36 774.47V957H2585.7V774.47zM2585.7 773.43V957H2588.04V773.43zM2588.04 774.6V957H2590.38V774.6zM2590.38 774.41V957H2592.72V774.41zM2592.72 774.69V957H2595.06V774.69zM2595.06 774.75V957H2597.4V774.75zM2597.4 773.86V957H2599.74V773.86zM2599.74 772.47V957H2602.08V772.47zM2602.08 771.64V957H2604.42V771.64zM2604.42 773.66V957H2606.76V773.66zM2606.76 772.99V957H2609.1V772.99zM2609.1 772.29V957H2611.44V772.29zM2611.44 771.74V957H2613.78V771.74zM2613.78 772.08V957H2616.12V772.08zM2616.12 772.52V957H2618.46V772.52zM2618.46 771.8V957H2620.8V771.8zM2620.8 771.69V957H2623.14V771.69zM2623.14 773.33V957H2625.48V773.33zM2625.48 773.03V957H2627.82V773.03zM2627.82 774.35V957H2630.16V774.35zM2630.16 772.39V957H2632.5V772.39zM2632.5 771.33V957H2634.84V771.33zM2634.84 772.04V957H2637.18V772.04zM2637.18 772.08V957H2639.52V772.08zM2639.52 771.98V957H2641.86V771.98zM2641.86 772.54V957H2644.2V772.54zM2644.2 772.47V957H2646.54V772.47zM2646.54 773.39V957H2648.88V773.39zM2648.88 772.23V957H2651.22V772.23zM2651.22 774.21V957H2653.56V774.21zM2653.56 774.54V957H2655.9V774.54zM2655.9 772.34V957H2658.24V772.34zM2658.24 771.89V957H2660.58V771.89zM2660.58 772.83V957H2662.92V772.83zM2662.92 771.12V957H2665.26V771.12zM2665.26 771.32V957H2667.6V771.32zM2667.6 771.07V957H2669.94V771.07zM2669.94 773.73V957H2672.28V773.73zM2672.28 772.5V957H2674.62V772.5zM2674.62 771.04V957H2676.96V771.04zM2676.96 771.73V957H2679.3V771.73zM2679.3 771.26V957H2681.64V771.26zM2681.64 771.36V957H2683.98V771.36zM2683.98 771.13V957H2686.32V771.13zM2686.32 773.71V957H2688.66V773.71zM2688.66 774.16V957H2691V774.16zM2691 771.13V957H2693.34V771.13zM2693.34 771.32V957H2695.68V771.32zM2695.68 771.75V957H2698.02V771.75zM2698.02 771.26V957H2700.36V771.26zM2700.36 771.03V957H2702.7V771.03zM2702.7 771.75V957H2705.04V771.75zM2705.04 771.66V957H2707.38V771.66zM2707.38 773.61V957H2709.72V773.61zM2709.72 771.36V957H2712.06V771.36zM2712.06 772.8V957H2714.4V772.8zM2714.4 771.74V957H2716.74V771.74zM2716.74 771.14V957H2719.08V771.14zM2719.08 771.34V957H2721.42V771.34zM2721.42 772.06V957H2723.76V772.06zM2723.76 771.02V957H2726.1V771.02zM2726.1 771.42V957H2728.44V771.42zM2728.44 772.13V957H2730.78V772.13zM2730.78 771.24V957H2733.12V771.24zM2733.12 771.96V957H2735.46V771.96zM2735.46 771.55V957H2737.8V771.55zM2737.8 771.87V957H2740.14V771.87zM2740.14 771.87V957H2742.48V771.87zM2742.48 771.28V957H2744.82V771.28zM2744.82 773.83V957H2747.16V773.83zM2747.16 772.98V957H2749.5V772.98zM2749.5 772V957H2751.84V772zM2751.84 771.14V957H2754.18V771.14zM2754.18 771.51V957H2756.52V771.51zM2756.52 771.47V957H2758.86V771.47zM2758.86 773.08V957H2761.2V773.08zM2761.2 772.68V957H2763.54V772.68zM2763.54 772.59V957H2765.88V772.59zM2765.88 773.34V957H2768.22V773.34zM2768.22 775.04V957H2770.56V775.04zM2770.56 772.7V957H2772.9V772.7zM2772.9 771.73V957H2775.24V771.73zM2775.24 771.03V957H2777.58V771.03zM2777.58 771.43V957H2779.92V771.43zM2779.92 772.06V957H2782.26V772.06zM2782.26 774.29V957H2784.6V774.29zM2784.6 775.93V957H2786.94V775.93zM2786.94 775.12V957H2789.28V775.12zM2789.28 775.56V957H2791.62V775.56zM2791.62 777.1V957H2793.96V777.1zM2793.96 777.12V957H2796.3V777.12zM2796.3 775.06V957H2798.64V775.06zM2798.64 773.13V957H2800.98V773.13zM2800.98 772.47V957H2803.32V772.47zM2803.32 771.56V957H2805.66V771.56zM2805.66 771.3V957H2808V771.3zM2808 771.9V957H2810.34V771.9zM2810.34 771.59V957H2812.68V771.59zM2812.68 772.9V957H2815.02V772.9zM2815.02 772.42V957H2817.36V772.42zM2817.36 771.47V957H2819.7V771.47zM2819.7 773.02V957H2822.04V773.02zM2822.04 771.99V957H2824.38V771.99zM2824.38 772.44V957H2826.72V772.44zM2826.72 772.76V957H2829.06V772.76zM2829.06 771.87V957H2831.4V771.87zM2831.4 772.19V957H2833.74V772.19zM2833.74 771.12V957H2836.08V771.12zM2836.08 772.34V957H2838.42V772.34zM2838.42 773.19V957H2840.76V773.19zM2840.76 772.06V957H2843.1V772.06zM2843.1 771.2V957H2845.44V771.2zM2845.44 771.57V957H2847.78V771.57zM2847.78 771.73V957H2850.12V771.73zM2850.12 772.35V957H2852.46V772.35zM2852.46 771.48V957H2854.8V771.48zM2854.8 772.05V957H2857.14V772.05zM2857.14 773.66V957H2859.48V773.66zM2859.48 773.88V957H2861.82V773.88zM2861.82 772.87V957H2864.16V772.87zM2864.16 771.72V957H2866.5V771.72zM2866.5 771.5V957H2868.84V771.5zM2868.84 771.8V957H2871.18V771.8zM2871.18 772.72V957H2873.52V772.72zM2873.52 772.51V957H2875.86V772.51zM2875.86 771.93V957H2878.2V771.93zM2878.2 772.51V957H2880.54V772.51zM2880.54 772.45V957H2882.88V772.45zM2882.88 771.19V957H2885.22V771.19zM2885.22 772.13V957H2887.56V772.13zM2887.56 771.42V957H2889.9V771.42zM2889.9 772.01V957H2892.24V772.01zM2892.24 772.86V957H2894.58V772.86zM2894.58 773.07V957H2896.92V773.07zM2896.92 774.08V957H2899.26V774.08zM2899.26 773.01V957H2901.6V773.01zM2901.6 771.98V957H2903.94V771.98zM2903.94 771.48V957H2906.28V771.48zM2906.28 771.52V957H2908.62V771.52zM2908.62 772.73V957H2910.96V772.73zM2910.96 773.05V957H2913.3V773.05zM2913.3 775.05V957H2915.64V775.05zM2915.64 772.23V957H2917.98V772.23zM2917.98 771.39V957H2920.32V771.39zM2920.32 771.47V957H2922.66V771.47zM2922.66 771.62V957H2925V771.62zM2925 772.25V957H2927.34V772.25zM2927.34 772.54V957H2929.68V772.54zM2929.68 771V957H2932.02V771zM2932.02 771.21V957H2934.36V771.21zM2934.36 771.13V957H2936.7V771.13zM2936.7 771.39V957H2939.04V771.39zM2939.04 771.42V957H2941.38V771.42zM2941.38 771.94V957H2943.72V771.94zM2943.72 772.44V957H2946.06V772.44zM2946.06 773.87V957H2948.4V773.87zM2948.4 771.07V957H2950.74V771.07zM2950.74 771.24V957H2953.08V771.24zM2953.08 771.12V957H2955.42V771.12zM2955.42 771.61V957H2957.76V771.61zM2957.76 771.49V957H2960.1V771.49zM2960.1 771.4V957H2962.44V771.4zM2962.44 772.88V957H2964.78V772.88zM2964.78 772.23V957H2967.12V772.23zM2967.12 772.23V957H2969.46V772.23zM2969.46 771.08V957H2971.8V771.08zM2971.8 771.48V957H2974.14V771.48zM2974.14 771.26V957H2976.48V771.26zM2976.48 772.25V957H2978.82V772.25zM2978.82 771.3V957H2981.16V771.3zM2981.16 771.79V957H2983.5V771.79zM2983.5 771.39V957H2985.84V771.39zM2985.84 771.62V957H2988.18V771.62zM2988.18 773.73V957H2990.52V773.73zM2990.52 773.66V957H2992.86V773.66zM2992.86 772.88V957H2995.2V772.88zM2995.2 774.17V957H2997.54V774.17zM2997.54 774.36V957H2999.88V774.36zM2999.88 771.38V957H3002.22V771.38zM3002.22 771.17V957H3004.56V771.17zM3004.56 771.01V957H3006.9V771.01zM3006.9 771.67V957H3009.24V771.67zM3009.24 770.92V957H3011.58V770.92zM3011.58 772.54V957H3013.92V772.54zM3013.92 771.08V957H3016.26V771.08zM3016.26 771.31V957H3018.6V771.31zM3018.6 771.6V957H3020.94V771.6zM3020.94 771.61V957H3023.28V771.61zM3023.28 771.48V957H3025.62V771.48zM3025.62 772.91V957H3027.96V772.91zM3027.96 773.61V957H3030.3V773.61zM3030.3 774.78V957H3032.64V774.78zM3032.64 774.56V957H3034.98V774.56zM3034.98 773.18V957H3037.32V773.18zM3037.32 774.16V957H3039.66V774.16zM3039.66 771.08V957H3042V771.08zM3042 771.33V957H3044.34V771.33zM3044.34 771.94V957H3046.68V771.94zM3046.68 771.26V957H3049.02V771.26zM3049.02 772.28V957H3051.36V772.28zM3051.36 771.49V957H3053.7V771.49zM3053.7 772.64V957H3056.04V772.64zM3056.04 771.88V957H3058.38V771.88zM3058.38 772.09V957H3060.72V772.09zM3060.72 771.34V957H3063.06V771.34zM3063.06 770.76V957H3065.4V770.76zM3065.4 771.5V957H3067.74V771.5zM3067.74 771.16V957H3070.08V771.16zM3070.08 771.54V957H3072.42V771.54zM3072.42 773.82V957H3074.76V773.82zM3074.76 772.49V957H3077.1V772.49zM3077.1 770.79V957H3079.44V770.79zM3079.44 771.95V957H3081.78V771.95zM3081.78 771.33V957H3084.12V771.33zM3084.12 770.88V957H3086.46V770.88zM3086.46 771.71V957H3088.8V771.71zM3088.8 775.15V957H3091.14V775.15zM3091.14 772.73V957H3093.48V772.73zM3093.48 771.54V957H3095.82V771.54zM3095.82 771.36V957H3098.16V771.36zM3098.16 770.99V957H3100.5V770.99zM3100.5 772.36V957H3102.84V772.36zM3102.84 772.06V957H3105.18V772.06zM3105.18 772.39V957H3107.52V772.39zM3107.52 772.91V957H3109.86V772.91zM3109.86 772.02V957H3112.2V772.02zM3112.2 772.15V957H3114.54V772.15zM3114.54 771.59V957H3116.88V771.59zM3116.88 772.47V957H3119.22V772.47zM3119.22 771.24V957H3121.56V771.24zM3121.56 771.26V957H3123.9V771.26zM3123.9 772.01V957H3126.24V772.01zM3126.24 771.42V957H3128.58V771.42zM3128.58 770.92V957H3130.92V770.92zM3130.92 771.55V957H3133.26V771.55zM3133.26 770.52V957H3135.6V770.52zM3135.6 770.86V957H3137.94V770.86zM3137.94 772.89V957H3140.28V772.89zM3140.28 772.7V957H3142.62V772.7zM3142.62 771.72V957H3144.96V771.72zM3144.96 771V957H3147.3V771zM3147.3 771.65V957H3149.64V771.65zM3149.64 770.77V957H3151.98V770.77zM3151.98 770.9V957H3154.32V770.9zM3154.32 771.01V957H3156.66V771.01zM3156.66 770.61V957H3159V770.61zM3159 771.55V957H3161.34V771.55zM3161.34 770.75V957H3163.68V770.75zM3163.68 771.45V957H3166.02V771.45zM3166.02 770.76V957H3168.36V770.76zM3168.36 770.47V957H3170.7V770.47zM3170.7 771.68V957H3173.04V771.68zM3173.04 772.05V957H3175.38V772.05zM3175.38 771.33V957H3177.72V771.33zM3177.72 771.17V957H3180.06V771.17zM3180.06 770.83V957H3182.4V770.83zM3182.4 770.4V957H3184.74V770.4zM3184.74 771.26V957H3187.08V771.26zM3187.08 771.1V957H3189.42V771.1zM3189.42 771.31V957H3191.76V771.31zM3191.76 771.76V957H3194.1V771.76zM3194.1 771.74V957H3196.44V771.74zM3196.44 771.56V957H3198.78V771.56zM3198.78 772.26V957H3201.12V772.26zM3201.12 770.33V957H3203.46V770.33zM3203.46 771.26V957H3205.8V771.26zM3205.8 772.25V957H3208.14V772.25zM3208.14 771.82V957H3210.48V771.82zM3210.48 772.77V957H3212.82V772.77zM3212.82 770.33V957H3215.16V770.33zM3215.16 771.63V957H3217.5V771.63zM3217.5 770.89V957H3219.84V770.89zM3219.84 771.49V957H3222.18V771.49zM3222.18 770.44V957H3224.52V770.44zM3224.52 770.98V957H3226.86V770.98zM3226.86 770.66V957H3229.2V770.66zM3229.2 770.43V957H3231.54V770.43zM3231.54 771.39V957H3233.88V771.39zM3233.88 770.97V957H3236.22V770.97zM3236.22 770.62V957H3238.56V770.62zM3238.56 770.32V957H3240.9V770.32zM3240.9 771.61V957H3243.24V771.61zM3243.24 770.39V957H3245.58V770.39zM3245.58 770.72V957H3247.92V770.72zM3247.92 770.95V957H3250.26V770.95zM3250.26 772.36V957H3252.6V772.36zM3252.6 772.56V957H3254.94V772.56zM3254.94 771.78V957H3257.28V771.78zM3257.28 771.88V957H3259.62V771.88zM3259.62 772.5V957H3261.96V772.5zM3261.96 770.94V957H3264.3V770.94zM3264.3 771.45V957H3266.64V771.45zM3266.64 770.77V957H3268.98V770.77zM3268.98 772.16V957H3271.32V772.16zM3271.32 771.99V957H3273.66V771.99zM3273.66 770.62V957H3276V770.62zM3276 771.63V957H3278.34V771.63zM3278.34 771.26V957H3280.68V771.26zM3280.68 774.34V957H3283.02V774.34zM3283.02 772.91V957H3285.36V772.91zM3285.36 772.34V957H3287.7V772.34zM3287.7 770.69V957H3290.04V770.69zM3290.04 771.47V957H3292.38V771.47zM3292.38 771.31V957H3294.72V771.31zM3294.72 770.5V957H3297.06V770.5zM3297.06 771.44V957H3299.4V771.44zM3299.4 771.37V957H3301.74V771.37zM3301.74 770.47V957H3304.08V770.47zM3304.08 771.84V957H3306.42V771.84zM3306.42 771.96V957H3308.76V771.96zM3308.76 770.56V957H3311.1V770.56zM3311.1 771.83V957H3313.44V771.83zM3313.44 770.93V957H3315.78V770.93zM3315.78 772.87V957H3318.12V772.87zM3318.12 771.85V957H3320.46V771.85zM3320.46 772.56V957H3322.8V772.56zM3322.8 771.87V957H3325.14V771.87zM3325.14 770.99V957H3327.48V770.99zM3327.48 770.75V957H3329.82V770.75zM3329.82 770.46V957H3332.16V770.46zM3332.16 771.62V957H3334.5V771.62zM3334.5 773.58V957H3336.84V773.58zM3336.84 774.37V957H3339.18V774.37zM3339.18 773.78V957H3341.52V773.78zM3341.52 772.51V957H3343.86V772.51zM3343.86 771.79V957H3346.2V771.79zM3346.2 770.49V957H3348.54V770.49zM3348.54 770.85V957H3350.88V770.85zM3350.88 770.58V957H3353.22V770.58zM3353.22 770.78V957H3355.56V770.78zM3355.56 773.78V957H3357.9V773.78zM3357.9 771.98V957H3360.24V771.98zM3360.24 771.28V957H3362.58V771.28zM3362.58 770.75V957H3364.92V770.75zM3364.92 770.1V957H3367.26V770.1zM3367.26 769.95V957H3369.6V769.95zM3369.6 771.2V957H3371.94V771.2zM3371.94 770.3V957H3374.28V770.3zM3374.28 770.98V957H3376.62V770.98zM3376.62 770.22V957H3378.96V770.22zM3378.96 771.85V957H3381.3V771.85zM3381.3 771.24V957H3383.64V771.24zM3383.64 770.94V957H3385.98V770.94zM3385.98 771.9V957H3388.32V771.9zM3388.32 771.36V957H3390.66V771.36zM3390.66 770.05V957H3393V770.05zM3393 770.99V957H3395.34V770.99zM3395.34 772.11V957H3397.68V772.11zM3397.68 772.4V957H3400.02V772.4zM3400.02 771.04V957H3402.36V771.04zM3402.36 771.43V957H3404.7V771.43zM3404.7 770.33V957H3407.04V770.33zM3407.04 770.71V957H3409.38V770.71zM3409.38 770.83V957H3411.72V770.83zM3411.72 769.78V957H3414.06V769.78zM3414.06 770.17V957H3416.4V770.17zM3416.4 770.62V957H3418.74V770.62zM3418.74 771.02V957H3421.08V771.02zM3421.08 770.99V957H3423.42V770.99zM3423.42 773.24V957H3425.76V773.24zM3425.76 769.79V957H3428.1V769.79zM3428.1 771.02V957H3430.44V771.02zM3430.44 771.78V957H3432.78V771.78zM3432.78 771.3V957H3435.12V771.3zM3435.12 770.73V957H3437.46V770.73zM3437.46 769.69V957H3439.8V769.69zM3439.8 771.41V957H3442.14V771.41zM3442.14 769.68V957H3444.48V769.68zM3444.48 769.69V957H3446.82V769.69zM3446.82 772.96V957H3449.16V772.96zM3449.16 771.66V957H3451.5V771.66zM3451.5 770.79V957H3453.84V770.79zM3453.84 770.21V957H3456.18V770.21zM3456.18 771.94V957H3458.52V771.94zM3458.52 771.31V957H3460.86V771.31zM3460.86 769.99V957H3463.2V769.99zM3463.2 770V957H3465.54V770zM3465.54 770.67V957H3467.88V770.67zM3467.88 770.9V957H3470.22V770.9zM3470.22 771.47V957H3472.56V771.47zM3472.56 771.89V957H3474.9V771.89zM3474.9 769.56V957H3477.24V769.56zM3477.24 770.58V957H3479.58V770.58zM3479.58 769.93V957H3481.92V769.93zM3481.92 770.09V957H3484.26V770.09zM3484.26 771.19V957H3486.6V771.19zM3486.6 771.06V957H3488.94V771.06zM3488.94 770.21V957H3491.28V770.21zM3491.28 770.39V957H3493.62V770.39zM3493.62 769.45V957H3495.96V769.45zM3495.96 770.5V957H3498.3V770.5zM3498.3 770.64V957H3500.64V770.64zM3500.64 769.53V957H3502.98V769.53zM3502.98 770.31V957H3505.32V770.31zM3505.32 770.49V957H3507.66V770.49zM3507.66 770.36V957H3510V770.36zM3510 771.44V957H3512.34V771.44zM3512.34 772.03V957H3514.68V772.03zM3514.68 769.9V957H3517.02V769.9zM3517.02 769.57V957H3519.36V769.57zM3519.36 769.76V957H3521.7V769.76zM3521.7 771.86V957H3524.04V771.86zM3524.04 772.12V957H3526.38V772.12zM3526.38 771.16V957H3528.72V771.16zM3528.72 771.64V957H3531.06V771.64zM3531.06 771.11V957H3533.4V771.11zM3533.4 772.19V957H3535.74V772.19zM3535.74 770.89V957H3538.08V770.89zM3538.08 770.79V957H3540.42V770.79zM3540.42 771.12V957H3542.76V771.12zM3542.76 770.58V957H3545.1V770.58zM3545.1 770.35V957H3547.44V770.35zM3547.44 770.89V957H3549.78V770.89zM3549.78 770.43V957H3552.12V770.43zM3552.12 769.31V957H3554.46V769.31zM3554.46 769.28V957H3556.8V769.28zM3556.8 769.7V957H3559.14V769.7zM3559.14 769.74V957H3561.48V769.74zM3561.48 771.05V957H3563.82V771.05zM3563.82 771.64V957H3566.16V771.64zM3566.16 770.24V957H3568.5V770.24zM3568.5 771.75V957H3570.84V771.75zM3570.84 769.41V957H3573.18V769.41zM3573.18 771.64V957H3575.52V771.64zM3575.52 770.35V957H3577.86V770.35zM3577.86 769.55V957H3580.2V769.55zM3580.2 771.62V957H3582.54V771.62zM3582.54 771.2V957H3584.88V771.2zM3584.88 770.26V957H3587.22V770.26zM3587.22 769.53V957H3589.56V769.53zM3589.56 769.96V957H3591.9V769.96zM3591.9 770.97V957H3594.24V770.97zM3594.24 771.84V957H3596.58V771.84zM3596.58 771.61V957H3598.92V771.61zM3598.92 770.32V957H3601.26V770.32zM3601.26 769.47V957H3603.6V769.47zM3603.6 769.12V957H3605.94V769.12zM3605.94 769.23V957H3608.28V769.23zM3608.28 771.29V957H3610.62V771.29zM3610.62 771.45V957H3612.96V771.45zM3612.96 769.67V957H3615.3V769.67zM3615.3 770.02V957H3617.64V770.02zM3617.64 771.22V957H3619.98V771.22zM3619.98 769.73V957H3622.32V769.73zM3622.32 771.26V957H3624.66V771.26zM3624.66 770.01V957H3627V770.01zM3627 769.61V957H3629.34V769.61zM3629.34 770.34V957H3631.68V770.34zM3631.68 770.41V957H3634.02V770.41zM3634.02 771.38V957H3636.36V771.38zM3636.36 769.67V957H3637V769.67z"/>
<path fill="#d3d3d3" d="M1162.98 655.5h2.34v2.3h-2.34zM1020.24 664.7h2.34v2.3h-2.34zM1123.2 664.7h2.34v2.3h-2.34zM1221.48 664.7h2.34v2.3h-2.34zM1237.86 664.7h2.34v2.3h-2.34zM1184.04 667h2.34v2.3h-2.34zM1188.72 669.3h2.34v2.3h-2.34zM1062.36 671.6h2.34v2.3h-2.34zM1104.48 671.6h2.34v2.3h-2.34zM1162.98 671.6h2.34v2.3h-2.34zM985.14 673.9h2.34v2.3h-2.34zM996.84 673.9h2.34v2.3h-2.34zM1088.1 673.9h2.34v2.3h-2.34zM1123.2 673.9h2.34v2.3h-2.34zM1155.96 673.9h2.34v2.3h-2.34zM1265.94 673.9h2.34v2.3h-2.34zM1050.66 676.2h2.34v2.3h-2.34zM1301.04 676.2h2.34v2.3h-2.34zM479.7 678.5h2.34v2.3h-2.34zM1144.26 678.5h2.34v2.3h-2.34zM568.62 680.8h2.34v2.3h-2.34zM1074.06 680.8h2.34v2.3h-2.34zM1090.44 680.8h2.34v2.3h-2.34zM1165.32 680.8h2.34v2.3h-2.34zM1230.84 680.8h2.34v2.3h-2.34zM1067.04 683.1h2.34v2.3h-2.34zM1134.9 683.1h2.34v2.3h-2.34zM554.58 685.4h2.34v2.3h-2.34zM950.04 685.4h2.34v2.3h-2.34zM966.42 685.4h2.34v2.3h-2.34zM1022.58 685.4h2.34v2.3h-2.34zM1216.8 685.4h2.34v2.3h-2.34zM1258.92 685.4h2.34v2.3h-2.34zM547.56 687.7h2.34v2.3h-2.34zM1006.2 687.7h2.34v2.3h-2.34zM1010.88 687.7h2.34v2.3h-2.34zM1076.4 687.7h2.34v2.3h-2.34zM1167.66 687.7h2.34v2.3h-2.34zM1254.24 687.7h2.34v2.3h-2.34zM266.76 690h2.34v2.3h-2.34zM938.34 690h2.34v2.3h-2.34zM1050.66 690h2.34v2.3h-2.34zM1057.68 690h2.34v2.3h-2.34zM1071.72 690h2.34v2.3h-2.34zM1160.64 690h2.34v2.3h-2.34zM1174.68 690h2.34v2.3h-2.34zM1198.08 690h2.34v2.3h-2.34zM608.4 692.3h2.34v2.3h-2.34zM933.66 692.3h2.34v2.3h-2.34zM966.42 692.3h2.34v2.3h-2.34zM975.78 692.3h2.34v2.3h-2.34zM1036.62 692.3h2.34v2.3h-2.34zM1102.14 692.3h2.34v2.3h-2.34zM1153.62 692.3h2.34v2.3h-2.34zM1240.2 692.3h2.34v2.3h-2.34zM1315.08 692.3h2.34v2.3h-2.34zM390.78 694.6h2.34v2.3h-2.34zM437.58 694.6h2.34v2.3h-2.34zM453.96 694.6h2.34v2.3h-2.34zM458.64 694.6h2.34v2.3h-2.34zM477.36 694.6h2.34v2.3h-2.34zM919.62 694.6h2.34v2.3h-2.34zM945.36 694.6h2.34v2.3h-2.34zM985.14 694.6h2.34v2.3h-2.34zM1104.48 694.6h2.34v2.3h-2.34zM320.58 696.9h2.34v2.3h-2.34zM360.36 696.9h2.34v2.3h-2.34zM449.28 696.9h2.34v2.3h-2.34zM519.48 696.9h2.34v2.3h-2.34zM961.74 696.9h2.34v2.3h-2.34zM966.42 696.9h2.34v2.3h-2.34zM1069.38 696.9h2.34v2.3h-2.34zM1090.44 696.9h2.34v2.3h-2.34zM1111.5 696.9h2.34v2.3h-2.34zM1186.38 696.9h2.34v2.3h-2.34zM1191.06 696.9h2.34v2.3h-2.34zM503.1 699.2h2.34v2.3h-2.34zM521.82 699.2h2.34v2.3h-2.34zM643.5 699.2h2.34v2.3h-2.34zM975.78 699.2h4.68v2.3h-4.68zM985.14 699.2h2.34v2.3h-2.34zM992.16 699.2h7.02v2.3h-7.02zM1008.54 699.2h2.34v2.3h-2.34zM1038.96 699.2h2.34v2.3h-2.34zM1048.32 699.2h2.34v2.3h-2.34zM1055.34 699.2h2.34v2.3h-2.34zM1081.08 699.2h2.34v2.3h-2.34zM1092.78 699.2h2.34v2.3h-2.34zM1123.2 699.2h2.34v2.3h-2.34zM1240.2 699.2h2.34v2.3h-2.34zM1277.64 699.2h2.34v2.3h-2.34zM414.18 701.5h2.34v2.3h-2.34zM966.42 701.5h2.34v2.3h-2.34zM994.5 701.5h2.34v2.3h-2.34zM1015.56 701.5h4.68v2.3h-4.68zM1055.34 701.5h2.34v2.3h-2.34zM1076.4 701.5h4.68v2.3h-4.68zM1088.1 701.5h2.34v2.3h-2.34zM1106.82 701.5h2.34v2.3h-2.34zM1120.86 701.5h2.34v2.3h-2.34zM1144.26 701.5h2.34v2.3h-2.34zM1193.4 701.5h4.68v2.3h-4.68zM1202.76 701.5h2.34v2.3h-2.34zM402.48 703.8h2.34v2.3h-2.34zM517.14 703.8h2.34v2.3h-2.34zM531.18 703.8h2.34v2.3h-2.34zM554.58 703.8h2.34v2.3h-2.34zM924.3 703.8h2.34v2.3h-2.34zM940.68 703.8h2.34v2.3h-2.34zM945.36 703.8h2.34v2.3h-2.34zM954.72 703.8h4.68v2.3h-4.68zM961.74 703.8h2.34v2.3h-2.34zM982.8 703.8h2.34v2.3h-2.34zM987.48 703.8h2.34v2.3h-2.34zM1003.86 703.8h2.34v2.3h-2.34zM1008.54 703.8h7.02v2.3h-7.02zM1027.26 703.8h11.7v2.3h-11.7zM1041.3 703.8h2.34v2.3h-2.34zM1048.32 703.8h2.34v2.3h-2.34zM1053 703.8h7.02v2.3h-7.02zM1076.4 703.8h4.68v2.3h-4.68zM1099.8 703.8h2.34v2.3h-2.34zM1104.48 703.8h4.68v2.3h-4.68zM1125.54 703.8h2.34v2.3h-2.34zM1132.56 703.8h2.34v2.3h-2.34zM1137.24 703.8h2.34v2.3h-2.34zM1172.34 703.8h4.68v2.3h-4.68zM1289.34 703.8h2.34v2.3h-2.34zM329.94 706.1h2.34v2.3h-2.34zM367.38 706.1h2.34v2.3h-2.34zM379.08 706.1h2.34v2.3h-2.34zM416.52 706.1h2.34v2.3h-2.34zM444.6 706.1h2.34v2.3h-2.34zM470.34 706.1h2.34v2.3h-2.34zM638.82 706.1h2.34v2.3h-2.34zM655.2 706.1h2.34v2.3h-2.34zM917.28 706.1h2.34v2.3h-2.34zM933.66 706.1h2.34v2.3h-2.34zM947.7 706.1h2.34v2.3h-2.34zM954.72 706.1h4.68v2.3h-4.68zM966.42 706.1h2.34v2.3h-2.34zM971.1 706.1h14.04v2.3h-14.04zM987.48 706.1h2.34v2.3h-2.34zM992.16 706.1h2.34v2.3h-2.34zM999.18 706.1h2.34v2.3h-2.34zM1006.2 706.1h2.34v2.3h-2.34zM1013.22 706.1h2.34v2.3h-2.34zM1017.9 706.1h2.34v2.3h-2.34zM1029.6 706.1h9.36v2.3h-9.36zM1048.32 706.1h2.34v2.3h-2.34zM1053 706.1h2.34v2.3h-2.34zM1069.38 706.1h2.34v2.3h-2.34zM1078.74 706.1h2.34v2.3h-2.34zM1083.42 706.1h2.34v2.3h-2.34zM1090.44 706.1h2.34v2.3h-2.34zM1102.14 706.1h2.34v2.3h-2.34zM1109.16 706.1h4.68v2.3h-4.68zM1127.88 706.1h2.34v2.3h-2.34zM1132.56 706.1h2.34v2.3h-2.34zM1144.26 706.1h2.34v2.3h-2.34zM1153.62 706.1h2.34v2.3h-2.34zM1160.64 706.1h2.34v2.3h-2.34zM1174.68 706.1h2.34v2.3h-2.34zM1193.4 706.1h2.34v2.3h-2.34zM1221.48 706.1h2.34v2.3h-2.34zM1261.26 706.1h2.34v2.3h-2.34zM1282.32 706.1h2.34v2.3h-2.34zM386.1 708.4h2.34v2.3h-2.34zM416.52 708.4h7.02v2.3h-7.02zM430.56 708.4h2.34v2.3h-2.34zM472.68 708.4h2.34v2.3h-2.34zM500.76 708.4h2.34v2.3h-2.34zM547.56 708.4h2.34v2.3h-2.34zM641.16 708.4h2.34v2.3h-2.34zM657.54 708.4h2.34v2.3h-2.34zM676.26 708.4h2.34v2.3h-2.34zM840.06 708.4h2.34v2.3h-2.34zM863.46 708.4h2.34v2.3h-2.34zM903.24 708.4h2.34v2.3h-2.34zM917.28 708.4h2.34v2.3h-2.34zM921.96 708.4h7.02v2.3h-7.02zM943.02 708.4h2.34v2.3h-2.34zM952.38 708.4h2.34v2.3h-2.34zM966.42 708.4h2.34v2.3h-2.34zM971.1 708.4h4.68v2.3h-4.68zM982.8 708.4h2.34v2.3h-2.34zM996.84 708.4h2.34v2.3h-2.34zM1008.54 708.4h2.34v2.3h-2.34zM1017.9 708.4h2.34v2.3h-2.34zM1022.58 708.4h2.34v2.3h-2.34zM1029.6 708.4h4.68v2.3h-4.68zM1036.62 708.4h2.34v2.3h-2.34zM1053 708.4h4.68v2.3h-4.68zM1067.04 708.4h2.34v2.3h-2.34zM1081.08 708.4h4.68v2.3h-4.68zM1104.48 708.4h4.68v2.3h-4.68zM1120.86 708.4h7.02v2.3h-7.02zM1130.22 708.4h2.34v2.3h-2.34zM1153.62 708.4h2.34v2.3h-2.34zM1193.4 708.4h2.34v2.3h-2.34zM1207.44 708.4h2.34v2.3h-2.34zM308.88 710.7h2.34v2.3h-2.34zM435.24 710.7h2.34v2.3h-2.34zM456.3 710.7h2.34v2.3h-2.34zM489.06 710.7h2.34v2.3h-2.34zM505.44 710.7h2.34v2.3h-2.34zM577.98 710.7h4.68v2.3h-4.68zM596.7 710.7h2.34v2.3h-2.34zM629.46 710.7h2.34v2.3h-2.34zM657.54 710.7h2.34v2.3h-2.34zM673.92 710.7h2.34v2.3h-2.34zM854.1 710.7h2.34v2.3h-2.34zM879.84 710.7h2.34v2.3h-2.34zM914.94 710.7h4.68v2.3h-4.68zM933.66 710.7h4.68v2.3h-4.68zM945.36 710.7h2.34v2.3h-2.34zM950.04 710.7h2.34v2.3h-2.34zM957.06 710.7h2.34v2.3h-2.34zM961.74 710.7h4.68v2.3h-4.68zM973.44 710.7h2.34v2.3h-2.34zM987.48 710.7h4.68v2.3h-4.68zM1013.22 710.7h2.34v2.3h-2.34zM1017.9 710.7h7.02v2.3h-7.02zM1027.26 710.7h14.04v2.3h-14.04zM1048.32 710.7h4.68v2.3h-4.68zM1057.68 710.7h4.68v2.3h-4.68zM1064.7 710.7h9.36v2.3h-9.36zM1083.42 710.7h9.36v2.3h-9.36zM1095.12 710.7h4.68v2.3h-4.68zM1102.14 710.7h2.34v2.3h-2.34zM1113.84 710.7h2.34v2.3h-2.34zM1123.2 710.7h2.34v2.3h-2.34zM1130.22 710.7h2.34v2.3h-2.34zM1134.9 710.7h4.68v2.3h-4.68zM1144.26 710.7h2.34v2.3h-2.34zM1158.3 710.7h2.34v2.3h-2.34zM1162.98 710.7h2.34v2.3h-2.34zM1170 710.7h2.34v2.3h-2.34zM1184.04 710.7h4.68v2.3h-4.68zM1193.4 710.7h2.34v2.3h-2.34zM1198.08 710.7h4.68v2.3h-4.68zM1226.16 710.7h2.34v2.3h-2.34zM1240.2 710.7h2.34v2.3h-2.34zM1268.28 710.7h2.34v2.3h-2.34zM1294.02 710.7h2.34v2.3h-2.34zM1310.4 710.7h2.34v2.3h-2.34zM271.44 713h2.34v2.3h-2.34zM297.18 713h2.34v2.3h-2.34zM313.56 713h2.34v2.3h-2.34zM369.72 713h2.34v2.3h-2.34zM423.54 713h4.68v2.3h-4.68zM456.3 713h2.34v2.3h-2.34zM463.32 713h2.34v2.3h-2.34zM468 713h2.34v2.3h-2.34zM484.38 713h2.34v2.3h-2.34zM491.4 713h2.34v2.3h-2.34zM507.78 713h2.34v2.3h-2.34zM512.46 713h4.68v2.3h-4.68zM519.48 713h2.34v2.3h-2.34zM563.94 713h2.34v2.3h-2.34zM582.66 713h2.34v2.3h-2.34zM599.04 713h2.34v2.3h-2.34zM631.8 713h2.34v2.3h-2.34zM828.36 713h2.34v2.3h-2.34zM856.44 713h2.34v2.3h-2.34zM882.18 713h2.34v2.3h-2.34zM886.86 713h2.34v2.3h-2.34zM893.88 713h2.34v2.3h-2.34zM910.26 713h4.68v2.3h-4.68zM928.98 713h2.34v2.3h-2.34zM936 713h4.68v2.3h-4.68zM947.7 713h2.34v2.3h-2.34zM952.38 713h4.68v2.3h-4.68zM959.4 713h2.34v2.3h-2.34zM968.76 713h4.68v2.3h-4.68zM975.78 713h14.04v2.3h-14.04zM994.5 713h2.34v2.3h-2.34zM999.18 713h21.06v2.3h-21.06zM1022.58 713h2.34v2.3h-2.34zM1027.26 713h4.68v2.3h-4.68zM1034.28 713h4.68v2.3h-4.68zM1050.66 713h4.68v2.3h-4.68zM1057.68 713h2.34v2.3h-2.34zM1071.72 713h2.34v2.3h-2.34zM1076.4 713h2.34v2.3h-2.34zM1085.76 713h4.68v2.3h-4.68zM1102.14 713h2.34v2.3h-2.34zM1109.16 713h2.34v2.3h-2.34zM1113.84 713h2.34v2.3h-2.34zM1118.52 713h2.34v2.3h-2.34zM1123.2 713h2.34v2.3h-2.34zM1141.92 713h4.68v2.3h-4.68zM1153.62 713h2.34v2.3h-2.34zM1158.3 713h11.7v2.3h-11.7zM1172.34 713h9.36v2.3h-9.36zM1193.4 713h2.34v2.3h-2.34zM1226.16 713h2.34v2.3h-2.34zM1284.66 713h2.34v2.3h-2.34zM1630.98 713h2.34v2.3h-2.34zM271.44 715.3h2.34v2.3h-2.34zM341.64 715.3h2.34v2.3h-2.34zM379.08 715.3h2.34v2.3h-2.34zM390.78 715.3h2.34v2.3h-2.34zM414.18 715.3h2.34v2.3h-2.34zM428.22 715.3h2.34v2.3h-2.34zM442.26 715.3h2.34v2.3h-2.34zM456.3 715.3h2.34v2.3h-2.34zM460.98 715.3h2.34v2.3h-2.34zM470.34 715.3h2.34v2.3h-2.34zM486.72 715.3h2.34v2.3h-2.34zM496.08 715.3h2.34v2.3h-2.34zM500.76 715.3h2.34v2.3h-2.34zM505.44 715.3h2.34v2.3h-2.34zM512.46 715.3h2.34v2.3h-2.34zM521.82 715.3h4.68v2.3h-4.68zM585 715.3h2.34v2.3h-2.34zM694.98 715.3h2.34v2.3h-2.34zM891.54 715.3h4.68v2.3h-4.68zM903.24 715.3h14.04v2.3h-14.04zM924.3 715.3h4.68v2.3h-4.68zM936 715.3h2.34v2.3h-2.34zM947.7 715.3h2.34v2.3h-2.34zM957.06 715.3h2.34v2.3h-2.34zM961.74 715.3h2.34v2.3h-2.34zM966.42 715.3h9.36v2.3h-9.36zM980.46 715.3h9.36v2.3h-9.36zM992.16 715.3h2.34v2.3h-2.34zM996.84 715.3h7.02v2.3h-7.02zM1006.2 715.3h9.36v2.3h-9.36zM1017.9 715.3h9.36v2.3h-9.36zM1029.6 715.3h14.04v2.3h-14.04zM1050.66 715.3h7.02v2.3h-7.02zM1062.36 715.3h4.68v2.3h-4.68zM1069.38 715.3h4.68v2.3h-4.68zM1076.4 715.3h2.34v2.3h-2.34zM1081.08 715.3h16.38v2.3h-16.38zM1099.8 715.3h7.02v2.3h-7.02zM1118.52 715.3h2.34v2.3h-2.34zM1123.2 715.3h2.34v2.3h-2.34zM1132.56 715.3h2.34v2.3h-2.34zM1141.92 715.3h2.34v2.3h-2.34zM1153.62 715.3h2.34v2.3h-2.34zM1158.3 715.3h4.68v2.3h-4.68zM1167.66 715.3h2.34v2.3h-2.34zM1172.34 715.3h2.34v2.3h-2.34zM1177.02 715.3h2.34v2.3h-2.34zM1181.7 715.3h2.34v2.3h-2.34zM1188.72 715.3h2.34v2.3h-2.34zM1200.42 715.3h2.34v2.3h-2.34zM1205.1 715.3h2.34v2.3h-2.34zM1212.12 715.3h2.34v2.3h-2.34zM1230.84 715.3h2.34v2.3h-2.34zM1235.52 715.3h2.34v2.3h-2.34zM1242.54 715.3h2.34v2.3h-2.34zM1258.92 715.3h2.34v2.3h-2.34zM1268.28 715.3h4.68v2.3h-4.68zM1296.36 715.3h2.34v2.3h-2.34zM1303.38 715.3h2.34v2.3h-2.34zM1312.74 715.3h2.34v2.3h-2.34zM1326.78 715.3h2.34v2.3h-2.34zM1457.82 715.3h2.34v2.3h-2.34zM348.66 717.6h2.34v2.3h-2.34zM360.36 717.6h4.68v2.3h-4.68zM369.72 717.6h2.34v2.3h-2.34zM397.8 717.6h2.34v2.3h-2.34zM402.48 717.6h2.34v2.3h-2.34zM414.18 717.6h4.68v2.3h-4.68zM423.54 717.6h2.34v2.3h-2.34zM430.56 717.6h2.34v2.3h-2.34zM435.24 717.6h4.68v2.3h-4.68zM446.94 717.6h4.68v2.3h-4.68zM458.64 717.6h2.34v2.3h-2.34zM465.66 717.6h2.34v2.3h-2.34zM484.38 717.6h7.02v2.3h-7.02zM498.42 717.6h2.34v2.3h-2.34zM503.1 717.6h2.34v2.3h-2.34zM507.78 717.6h2.34v2.3h-2.34zM517.14 717.6h2.34v2.3h-2.34zM531.18 717.6h2.34v2.3h-2.34zM549.9 717.6h4.68v2.3h-4.68zM556.92 717.6h4.68v2.3h-4.68zM563.94 717.6h2.34v2.3h-2.34zM573.3 717.6h7.02v2.3h-7.02zM599.04 717.6h2.34v2.3h-2.34zM606.06 717.6h2.34v2.3h-2.34zM683.28 717.6h2.34v2.3h-2.34zM690.3 717.6h2.34v2.3h-2.34zM851.76 717.6h2.34v2.3h-2.34zM856.44 717.6h2.34v2.3h-2.34zM861.12 717.6h4.68v2.3h-4.68zM868.14 717.6h2.34v2.3h-2.34zM872.82 717.6h2.34v2.3h-2.34zM886.86 717.6h2.34v2.3h-2.34zM891.54 717.6h2.34v2.3h-2.34zM907.92 717.6h2.34v2.3h-2.34zM919.62 717.6h4.68v2.3h-4.68zM943.02 717.6h2.34v2.3h-2.34zM947.7 717.6h2.34v2.3h-2.34zM957.06 717.6h2.34v2.3h-2.34zM966.42 717.6h2.34v2.3h-2.34zM971.1 717.6h9.36v2.3h-9.36zM985.14 717.6h2.34v2.3h-2.34zM1010.88 717.6h7.02v2.3h-7.02zM1020.24 717.6h2.34v2.3h-2.34zM1029.6 717.6h2.34v2.3h-2.34zM1034.28 717.6h2.34v2.3h-2.34zM1038.96 717.6h2.34v2.3h-2.34zM1057.68 717.6h7.02v2.3h-7.02zM1067.04 717.6h2.34v2.3h-2.34zM1071.72 717.6h11.7v2.3h-11.7zM1085.76 717.6h2.34v2.3h-2.34zM1090.44 717.6h2.34v2.3h-2.34zM1095.12 717.6h7.02v2.3h-7.02zM1104.48 717.6h4.68v2.3h-4.68zM1111.5 717.6h2.34v2.3h-2.34zM1120.86 717.6h7.02v2.3h-7.02zM1137.24 717.6h2.34v2.3h-2.34zM1151.28 717.6h2.34v2.3h-2.34zM1155.96 717.6h2.34v2.3h-2.34zM1160.64 717.6h4.68v2.3h-4.68zM1167.66 717.6h2.34v2.3h-2.34zM1172.34 717.6h2.34v2.3h-2.34zM1188.72 717.6h2.34v2.3h-2.34zM1198.08 717.6h2.34v2.3h-2.34zM1202.76 717.6h4.68v2.3h-4.68zM1212.12 717.6h2.34v2.3h-2.34zM1216.8 717.6h4.68v2.3h-4.68zM1228.5 717.6h4.68v2.3h-4.68zM1247.22 717.6h4.68v2.3h-4.68zM1272.96 717.6h2.34v2.3h-2.34zM1305.72 717.6h2.34v2.3h-2.34zM278.46 719.9h2.34v2.3h-2.34zM308.88 719.9h2.34v2.3h-2.34zM343.98 719.9h2.34v2.3h-2.34zM369.72 719.9h4.68v2.3h-4.68zM376.74 719.9h2.34v2.3h-2.34zM386.1 719.9h2.34v2.3h-2.34zM390.78 719.9h7.02v2.3h-7.02zM404.82 719.9h4.68v2.3h-4.68zM411.84 719.9h2.34v2.3h-2.34zM416.52 719.9h4.68v2.3h-4.68zM423.54 719.9h2.34v2.3h-2.34zM439.92 719.9h2.34v2.3h-2.34zM446.94 719.9h2.34v2.3h-2.34zM460.98 719.9h2.34v2.3h-2.34zM468 719.9h2.34v2.3h-2.34zM498.42 719.9h2.34v2.3h-2.34zM503.1 719.9h4.68v2.3h-4.68zM512.46 719.9h4.68v2.3h-4.68zM519.48 719.9h4.68v2.3h-4.68zM526.5 719.9h2.34v2.3h-2.34zM540.54 719.9h7.02v2.3h-7.02zM554.58 719.9h7.02v2.3h-7.02zM568.62 719.9h2.34v2.3h-2.34zM573.3 719.9h2.34v2.3h-2.34zM587.34 719.9h2.34v2.3h-2.34zM608.4 719.9h2.34v2.3h-2.34zM622.44 719.9h2.34v2.3h-2.34zM741.78 719.9h2.34v2.3h-2.34zM814.32 719.9h2.34v2.3h-2.34zM863.46 719.9h2.34v2.3h-2.34zM868.14 719.9h4.68v2.3h-4.68zM875.16 719.9h2.34v2.3h-2.34zM879.84 719.9h2.34v2.3h-2.34zM886.86 719.9h2.34v2.3h-2.34zM893.88 719.9h2.34v2.3h-2.34zM919.62 719.9h4.68v2.3h-4.68zM931.32 719.9h2.34v2.3h-2.34zM936 719.9h2.34v2.3h-2.34zM940.68 719.9h4.68v2.3h-4.68zM952.38 719.9h9.36v2.3h-9.36zM973.44 719.9h4.68v2.3h-4.68zM982.8 719.9h4.68v2.3h-4.68zM1003.86 719.9h2.34v2.3h-2.34zM1010.88 719.9h2.34v2.3h-2.34zM1015.56 719.9h4.68v2.3h-4.68zM1024.92 719.9h2.34v2.3h-2.34zM1055.34 719.9h4.68v2.3h-4.68zM1062.36 719.9h2.34v2.3h-2.34zM1069.38 719.9h4.68v2.3h-4.68zM1078.74 719.9h2.34v2.3h-2.34zM1085.76 719.9h2.34v2.3h-2.34zM1090.44 719.9h2.34v2.3h-2.34zM1099.8 719.9h2.34v2.3h-2.34zM1104.48 719.9h4.68v2.3h-4.68zM1111.5 719.9h4.68v2.3h-4.68zM1127.88 719.9h2.34v2.3h-2.34zM1137.24 719.9h2.34v2.3h-2.34zM1141.92 719.9h2.34v2.3h-2.34zM1151.28 719.9h2.34v2.3h-2.34zM1158.3 719.9h4.68v2.3h-4.68zM1167.66 719.9h2.34v2.3h-2.34zM1172.34 719.9h2.34v2.3h-2.34zM1179.36 719.9h4.68v2.3h-4.68zM1186.38 719.9h11.7v2.3h-11.7zM1200.42 719.9h2.34v2.3h-2.34zM1216.8 719.9h2.34v2.3h-2.34zM1221.48 719.9h2.34v2.3h-2.34zM1233.18 719.9h2.34v2.3h-2.34zM1240.2 719.9h9.36v2.3h-9.36zM1251.9 719.9h4.68v2.3h-4.68zM1258.92 719.9h2.34v2.3h-2.34zM1272.96 719.9h2.34v2.3h-2.34zM1294.02 719.9h2.34v2.3h-2.34zM1305.72 719.9h2.34v2.3h-2.34zM1373.58 719.9h2.34v2.3h-2.34zM1378.26 719.9h2.34v2.3h-2.34zM1401.66 719.9h2.34v2.3h-2.34zM3126.24 719.9h2.34v2.3h-2.34zM276.12 722.2h2.34v2.3h-2.34zM301.86 722.2h2.34v2.3h-2.34zM308.88 722.2h2.34v2.3h-2.34zM318.24 722.2h4.68v2.3h-4.68zM332.28 722.2h4.68v2.3h-4.68zM339.3 722.2h2.34v2.3h-2.34zM355.68 722.2h4.68v2.3h-4.68zM365.04 722.2h4.68v2.3h-4.68zM376.74 722.2h2.34v2.3h-2.34zM395.46 722.2h2.34v2.3h-2.34zM402.48 722.2h2.34v2.3h-2.34zM407.16 722.2h2.34v2.3h-2.34zM411.84 722.2h11.7v2.3h-11.7zM432.9 722.2h4.68v2.3h-4.68zM439.92 722.2h2.34v2.3h-2.34zM451.62 722.2h7.02v2.3h-7.02zM463.32 722.2h4.68v2.3h-4.68zM472.68 722.2h2.34v2.3h-2.34zM482.04 722.2h2.34v2.3h-2.34zM498.42 722.2h4.68v2.3h-4.68zM510.12 722.2h9.36v2.3h-9.36zM526.5 722.2h2.34v2.3h-2.34zM535.86 722.2h2.34v2.3h-2.34zM542.88 722.2h2.34v2.3h-2.34zM552.24 722.2h18.72v2.3h-18.72zM580.32 722.2h2.34v2.3h-2.34zM585 722.2h2.34v2.3h-2.34zM596.7 722.2h7.02v2.3h-7.02zM610.74 722.2h2.34v2.3h-2.34zM617.76 722.2h2.34v2.3h-2.34zM636.48 722.2h2.34v2.3h-2.34zM659.88 722.2h2.34v2.3h-2.34zM676.26 722.2h2.34v2.3h-2.34zM816.66 722.2h2.34v2.3h-2.34zM844.74 722.2h2.34v2.3h-2.34zM858.78 722.2h2.34v2.3h-2.34zM863.46 722.2h7.02v2.3h-7.02zM872.82 722.2h14.04v2.3h-14.04zM891.54 722.2h7.02v2.3h-7.02zM905.58 722.2h4.68v2.3h-4.68zM912.6 722.2h4.68v2.3h-4.68zM919.62 722.2h2.34v2.3h-2.34zM924.3 722.2h2.34v2.3h-2.34zM940.68 722.2h4.68v2.3h-4.68zM947.7 722.2h2.34v2.3h-2.34zM952.38 722.2h4.68v2.3h-4.68zM959.4 722.2h2.34v2.3h-2.34zM968.76 722.2h14.04v2.3h-14.04zM989.82 722.2h4.68v2.3h-4.68zM996.84 722.2h2.34v2.3h-2.34zM1001.52 722.2h9.36v2.3h-9.36zM1015.56 722.2h4.68v2.3h-4.68zM1022.58 722.2h4.68v2.3h-4.68zM1041.3 722.2h4.68v2.3h-4.68zM1048.32 722.2h2.34v2.3h-2.34zM1055.34 722.2h2.34v2.3h-2.34zM1067.04 722.2h4.68v2.3h-4.68zM1074.06 722.2h7.02v2.3h-7.02zM1090.44 722.2h4.68v2.3h-4.68zM1099.8 722.2h2.34v2.3h-2.34zM1106.82 722.2h4.68v2.3h-4.68zM1113.84 722.2h2.34v2.3h-2.34zM1125.54 722.2h7.02v2.3h-7.02zM1141.92 722.2h2.34v2.3h-2.34zM1151.28 722.2h4.68v2.3h-4.68zM1158.3 722.2h7.02v2.3h-7.02zM1172.34 722.2h2.34v2.3h-2.34zM1179.36 722.2h4.68v2.3h-4.68zM1186.38 722.2h2.34v2.3h-2.34zM1191.06 722.2h9.36v2.3h-9.36zM1202.76 722.2h4.68v2.3h-4.68zM1216.8 722.2h2.34v2.3h-2.34zM1233.18 722.2h2.34v2.3h-2.34zM1242.54 722.2h2.34v2.3h-2.34zM1258.92 722.2h2.34v2.3h-2.34zM1272.96 722.2h2.34v2.3h-2.34zM1277.64 722.2h2.34v2.3h-2.34zM1284.66 722.2h2.34v2.3h-2.34zM1291.68 722.2h2.34v2.3h-2.34zM2365.74 722.2h2.34v2.3h-2.34zM2489.76 722.2h2.34v2.3h-2.34zM292.5 724.5h4.68v2.3h-4.68zM299.52 724.5h2.34v2.3h-2.34zM304.2 724.5h2.34v2.3h-2.34zM308.88 724.5h4.68v2.3h-4.68zM325.26 724.5h2.34v2.3h-2.34zM341.64 724.5h2.34v2.3h-2.34zM346.32 724.5h2.34v2.3h-2.34zM351 724.5h4.68v2.3h-4.68zM362.7 724.5h4.68v2.3h-4.68zM372.06 724.5h2.34v2.3h-2.34zM379.08 724.5h2.34v2.3h-2.34zM386.1 724.5h2.34v2.3h-2.34zM390.78 724.5h7.02v2.3h-7.02zM400.14 724.5h4.68v2.3h-4.68zM409.5 724.5h2.34v2.3h-2.34zM414.18 724.5h2.34v2.3h-2.34zM421.2 724.5h7.02v2.3h-7.02zM442.26 724.5h2.34v2.3h-2.34zM446.94 724.5h2.34v2.3h-2.34zM456.3 724.5h4.68v2.3h-4.68zM465.66 724.5h2.34v2.3h-2.34zM470.34 724.5h2.34v2.3h-2.34zM477.36 724.5h2.34v2.3h-2.34zM489.06 724.5h2.34v2.3h-2.34zM493.74 724.5h4.68v2.3h-4.68zM500.76 724.5h4.68v2.3h-4.68zM507.78 724.5h9.36v2.3h-9.36zM519.48 724.5h4.68v2.3h-4.68zM526.5 724.5h2.34v2.3h-2.34zM545.22 724.5h2.34v2.3h-2.34zM549.9 724.5h2.34v2.3h-2.34zM554.58 724.5h4.68v2.3h-4.68zM575.64 724.5h2.34v2.3h-2.34zM587.34 724.5h2.34v2.3h-2.34zM596.7 724.5h7.02v2.3h-7.02zM617.76 724.5h4.68v2.3h-4.68zM704.34 724.5h2.34v2.3h-2.34zM737.1 724.5h2.34v2.3h-2.34zM755.82 724.5h2.34v2.3h-2.34zM811.98 724.5h2.34v2.3h-2.34zM842.4 724.5h2.34v2.3h-2.34zM851.76 724.5h4.68v2.3h-4.68zM863.46 724.5h2.34v2.3h-2.34zM868.14 724.5h2.34v2.3h-2.34zM872.82 724.5h2.34v2.3h-2.34zM879.84 724.5h2.34v2.3h-2.34zM886.86 724.5h7.02v2.3h-7.02zM896.22 724.5h2.34v2.3h-2.34zM912.6 724.5h9.36v2.3h-9.36zM928.98 724.5h11.7v2.3h-11.7zM943.02 724.5h4.68v2.3h-4.68zM957.06 724.5h18.72v2.3h-18.72zM985.14 724.5h4.68v2.3h-4.68zM1013.22 724.5h2.34v2.3h-2.34zM1020.24 724.5h7.02v2.3h-7.02zM1029.6 724.5h4.68v2.3h-4.68zM1036.62 724.5h2.34v2.3h-2.34zM1050.66 724.5h9.36v2.3h-9.36zM1067.04 724.5h2.34v2.3h-2.34zM1071.72 724.5h4.68v2.3h-4.68zM1083.42 724.5h4.68v2.3h-4.68zM1090.44 724.5h25.74v2.3h-25.74zM1118.52 724.5h2.34v2.3h-2.34zM1123.2 724.5h4.68v2.3h-4.68zM1130.22 724.5h2.34v2.3h-2.34zM1134.9 724.5h2.34v2.3h-2.34zM1139.58 724.5h16.38v2.3h-16.38zM1165.32 724.5h7.02v2.3h-7.02zM1174.68 724.5h7.02v2.3h-7.02zM1184.04 724.5h2.34v2.3h-2.34zM1191.06 724.5h4.68v2.3h-4.68zM1198.08 724.5h2.34v2.3h-2.34zM1212.12 724.5h4.68v2.3h-4.68zM1230.84 724.5h2.34v2.3h-2.34zM1237.86 724.5h2.34v2.3h-2.34zM1254.24 724.5h4.68v2.3h-4.68zM1261.26 724.5h2.34v2.3h-2.34zM1289.34 724.5h2.34v2.3h-2.34zM2295.54 724.5h2.34v2.3h-2.34zM2344.68 724.5h2.34v2.3h-2.34zM2358.72 724.5h2.34v2.3h-2.34zM2452.32 724.5h2.34v2.3h-2.34zM2592.72 724.5h2.34v2.3h-2.34zM2747.16 724.5h2.34v2.3h-2.34zM3276 724.5h2.34v2.3h-2.34zM3510 724.5h2.34v2.3h-2.34zM3601.26 724.5h2.34v2.3h-2.34zM269.1 726.8h4.68v2.3h-4.68zM283.14 726.8h2.34v2.3h-2.34zM299.52 726.8h4.68v2.3h-4.68zM311.22 726.8h2.34v2.3h-2.34zM315.9 726.8h2.34v2.3h-2.34zM334.62 726.8h2.34v2.3h-2.34zM341.64 726.8h2.34v2.3h-2.34zM346.32 726.8h2.34v2.3h-2.34zM351 726.8h7.02v2.3h-7.02zM360.36 726.8h4.68v2.3h-4.68zM367.38 726.8h2.34v2.3h-2.34zM372.06 726.8h2.34v2.3h-2.34zM390.78 726.8h2.34v2.3h-2.34zM395.46 726.8h2.34v2.3h-2.34zM402.48 726.8h4.68v2.3h-4.68zM418.86 726.8h9.36v2.3h-9.36zM435.24 726.8h2.34v2.3h-2.34zM439.92 726.8h2.34v2.3h-2.34zM453.96 726.8h9.36v2.3h-9.36zM468 726.8h9.36v2.3h-9.36zM479.7 726.8h2.34v2.3h-2.34zM484.38 726.8h4.68v2.3h-4.68zM493.74 726.8h7.02v2.3h-7.02zM503.1 726.8h2.34v2.3h-2.34zM510.12 726.8h2.34v2.3h-2.34zM514.8 726.8h2.34v2.3h-2.34zM519.48 726.8h16.38v2.3h-16.38zM545.22 726.8h9.36v2.3h-9.36zM556.92 726.8h4.68v2.3h-4.68zM570.96 726.8h2.34v2.3h-2.34zM580.32 726.8h2.34v2.3h-2.34zM589.68 726.8h2.34v2.3h-2.34zM594.36 726.8h2.34v2.3h-2.34zM599.04 726.8h2.34v2.3h-2.34zM603.72 726.8h4.68v2.3h-4.68zM610.74 726.8h4.68v2.3h-4.68zM620.1 726.8h2.34v2.3h-2.34zM629.46 726.8h2.34v2.3h-2.34zM643.5 726.8h2.34v2.3h-2.34zM720.72 726.8h2.34v2.3h-2.34zM737.1 726.8h2.34v2.3h-2.34zM741.78 726.8h2.34v2.3h-2.34zM762.84 726.8h2.34v2.3h-2.34zM793.26 726.8h2.34v2.3h-2.34zM826.02 726.8h2.34v2.3h-2.34zM837.72 726.8h7.02v2.3h-7.02zM849.42 726.8h2.34v2.3h-2.34zM858.78 726.8h2.34v2.3h-2.34zM868.14 726.8h4.68v2.3h-4.68zM875.16 726.8h16.38v2.3h-16.38zM893.88 726.8h4.68v2.3h-4.68zM910.26 726.8h4.68v2.3h-4.68zM917.28 726.8h7.02v2.3h-7.02zM926.64 726.8h11.7v2.3h-11.7zM940.68 726.8h2.34v2.3h-2.34zM945.36 726.8h2.34v2.3h-2.34zM952.38 726.8h2.34v2.3h-2.34zM957.06 726.8h11.7v2.3h-11.7zM971.1 726.8h2.34v2.3h-2.34zM975.78 726.8h2.34v2.3h-2.34zM980.46 726.8h4.68v2.3h-4.68zM989.82 726.8h2.34v2.3h-2.34zM996.84 726.8h7.02v2.3h-7.02zM1006.2 726.8h7.02v2.3h-7.02zM1015.56 726.8h2.34v2.3h-2.34zM1020.24 726.8h7.02v2.3h-7.02zM1029.6 726.8h9.36v2.3h-9.36zM1041.3 726.8h2.34v2.3h-2.34zM1045.98 726.8h2.34v2.3h-2.34zM1050.66 726.8h9.36v2.3h-9.36zM1067.04 726.8h2.34v2.3h-2.34zM1071.72 726.8h18.72v2.3h-18.72zM1092.78 726.8h9.36v2.3h-9.36zM1104.48 726.8h7.02v2.3h-7.02zM1113.84 726.8h16.38v2.3h-16.38zM1132.56 726.8h23.4v2.3h-23.4zM1162.98 726.8h4.68v2.3h-4.68zM1172.34 726.8h11.7v2.3h-11.7zM1188.72 726.8h2.34v2.3h-2.34zM1193.4 726.8h2.34v2.3h-2.34zM1198.08 726.8h2.34v2.3h-2.34zM1202.76 726.8h2.34v2.3h-2.34zM1207.44 726.8h7.02v2.3h-7.02zM1216.8 726.8h2.34v2.3h-2.34zM1223.82 726.8h2.34v2.3h-2.34zM1235.52 726.8h2.34v2.3h-2.34zM1242.54 726.8h2.34v2.3h-2.34zM1247.22 726.8h2.34v2.3h-2.34zM1254.24 726.8h9.36v2.3h-9.36zM1265.94 726.8h2.34v2.3h-2.34zM1270.62 726.8h2.34v2.3h-2.34zM1282.32 726.8h2.34v2.3h-2.34zM1289.34 726.8h2.34v2.3h-2.34zM1329.12 726.8h2.34v2.3h-2.34zM1747.98 726.8h2.34v2.3h-2.34zM2260.44 726.8h2.34v2.3h-2.34zM2307.24 726.8h2.34v2.3h-2.34zM2398.5 726.8h4.68v2.3h-4.68zM2480.4 726.8h2.34v2.3h-2.34zM3264.3 726.8h2.34v2.3h-2.34zM280.8 729.1h2.34v2.3h-2.34zM287.82 729.1h4.68v2.3h-4.68zM294.84 729.1h7.02v2.3h-7.02zM306.54 729.1h9.36v2.3h-9.36zM318.24 729.1h4.68v2.3h-4.68zM327.6 729.1h2.34v2.3h-2.34zM336.96 729.1h25.74v2.3h-25.74zM367.38 729.1h2.34v2.3h-2.34zM372.06 729.1h4.68v2.3h-4.68zM379.08 729.1h2.34v2.3h-2.34zM388.44 729.1h4.68v2.3h-4.68zM402.48 729.1h2.34v2.3h-2.34zM414.18 729.1h7.02v2.3h-7.02zM423.54 729.1h4.68v2.3h-4.68zM432.9 729.1h2.34v2.3h-2.34zM442.26 729.1h2.34v2.3h-2.34zM446.94 729.1h2.34v2.3h-2.34zM456.3 729.1h4.68v2.3h-4.68zM463.32 729.1h28.08v2.3h-28.08zM493.74 729.1h2.34v2.3h-2.34zM498.42 729.1h7.02v2.3h-7.02zM507.78 729.1h7.02v2.3h-7.02zM517.14 729.1h2.34v2.3h-2.34zM524.16 729.1h7.02v2.3h-7.02zM533.52 729.1h2.34v2.3h-2.34zM542.88 729.1h7.02v2.3h-7.02zM552.24 729.1h9.36v2.3h-9.36zM563.94 729.1h2.34v2.3h-2.34zM568.62 729.1h2.34v2.3h-2.34zM573.3 729.1h2.34v2.3h-2.34zM577.98 729.1h4.68v2.3h-4.68zM587.34 729.1h4.68v2.3h-4.68zM594.36 729.1h4.68v2.3h-4.68zM603.72 729.1h18.72v2.3h-18.72zM629.46 729.1h7.02v2.3h-7.02zM645.84 729.1h2.34v2.3h-2.34zM650.52 729.1h2.34v2.3h-2.34zM676.26 729.1h2.34v2.3h-2.34zM762.84 729.1h2.34v2.3h-2.34zM769.86 729.1h2.34v2.3h-2.34zM779.22 729.1h2.34v2.3h-2.34zM783.9 729.1h2.34v2.3h-2.34zM795.6 729.1h2.34v2.3h-2.34zM802.62 729.1h4.68v2.3h-4.68zM816.66 729.1h2.34v2.3h-2.34zM826.02 729.1h4.68v2.3h-4.68zM840.06 729.1h7.02v2.3h-7.02zM849.42 729.1h7.02v2.3h-7.02zM863.46 729.1h9.36v2.3h-9.36zM877.5 729.1h2.34v2.3h-2.34zM882.18 729.1h7.02v2.3h-7.02zM893.88 729.1h4.68v2.3h-4.68zM900.9 729.1h2.34v2.3h-2.34zM912.6 729.1h4.68v2.3h-4.68zM921.96 729.1h2.34v2.3h-2.34zM926.64 729.1h7.02v2.3h-7.02zM936 729.1h11.7v2.3h-11.7zM950.04 729.1h9.36v2.3h-9.36zM961.74 729.1h14.04v2.3h-14.04zM980.46 729.1h9.36v2.3h-9.36zM996.84 729.1h21.06v2.3h-21.06zM1020.24 729.1h11.7v2.3h-11.7zM1034.28 729.1h7.02v2.3h-7.02zM1045.98 729.1h4.68v2.3h-4.68zM1055.34 729.1h9.36v2.3h-9.36zM1067.04 729.1h4.68v2.3h-4.68zM1076.4 729.1h35.1v2.3h-35.1zM1118.52 729.1h2.34v2.3h-2.34zM1123.2 729.1h2.34v2.3h-2.34zM1127.88 729.1h7.02v2.3h-7.02zM1137.24 729.1h2.34v2.3h-2.34zM1144.26 729.1h7.02v2.3h-7.02zM1153.62 729.1h2.34v2.3h-2.34zM1158.3 729.1h2.34v2.3h-2.34zM1162.98 729.1h4.68v2.3h-4.68zM1170 729.1h9.36v2.3h-9.36zM1188.72 729.1h2.34v2.3h-2.34zM1200.42 729.1h2.34v2.3h-2.34zM1205.1 729.1h2.34v2.3h-2.34zM1209.78 729.1h11.7v2.3h-11.7zM1223.82 729.1h4.68v2.3h-4.68zM1240.2 729.1h9.36v2.3h-9.36zM1261.26 729.1h2.34v2.3h-2.34zM1265.94 729.1h2.34v2.3h-2.34zM1284.66 729.1h4.68v2.3h-4.68zM1343.16 729.1h2.34v2.3h-2.34zM1460.16 729.1h2.34v2.3h-2.34zM2253.42 729.1h2.34v2.3h-2.34zM2489.76 729.1h2.34v2.3h-2.34zM266.76 731.4h7.02v2.3h-7.02zM278.46 731.4h2.34v2.3h-2.34zM283.14 731.4h4.68v2.3h-4.68zM290.16 731.4h11.7v2.3h-11.7zM311.22 731.4h11.7v2.3h-11.7zM332.28 731.4h7.02v2.3h-7.02zM341.64 731.4h18.72v2.3h-18.72zM365.04 731.4h4.68v2.3h-4.68zM374.4 731.4h9.36v2.3h-9.36zM386.1 731.4h4.68v2.3h-4.68zM397.8 731.4h2.34v2.3h-2.34zM402.48 731.4h9.36v2.3h-9.36zM414.18 731.4h9.36v2.3h-9.36zM428.22 731.4h18.72v2.3h-18.72zM449.28 731.4h11.7v2.3h-11.7zM468 731.4h39.78v2.3h-39.78zM512.46 731.4h2.34v2.3h-2.34zM517.14 731.4h2.34v2.3h-2.34zM528.84 731.4h21.06v2.3h-21.06zM552.24 731.4h4.68v2.3h-4.68zM561.6 731.4h2.34v2.3h-2.34zM566.28 731.4h9.36v2.3h-9.36zM580.32 731.4h4.68v2.3h-4.68zM587.34 731.4h7.02v2.3h-7.02zM599.04 731.4h4.68v2.3h-4.68zM606.06 731.4h2.34v2.3h-2.34zM610.74 731.4h2.34v2.3h-2.34zM615.42 731.4h2.34v2.3h-2.34zM620.1 731.4h2.34v2.3h-2.34zM624.78 731.4h4.68v2.3h-4.68zM631.8 731.4h2.34v2.3h-2.34zM638.82 731.4h7.02v2.3h-7.02zM657.54 731.4h2.34v2.3h-2.34zM662.22 731.4h4.68v2.3h-4.68zM676.26 731.4h2.34v2.3h-2.34zM692.64 731.4h4.68v2.3h-4.68zM699.66 731.4h9.36v2.3h-9.36zM716.04 731.4h4.68v2.3h-4.68zM732.42 731.4h2.34v2.3h-2.34zM739.44 731.4h2.34v2.3h-2.34zM744.12 731.4h4.68v2.3h-4.68zM758.16 731.4h4.68v2.3h-4.68zM765.18 731.4h4.68v2.3h-4.68zM779.22 731.4h2.34v2.3h-2.34zM786.24 731.4h2.34v2.3h-2.34zM807.3 731.4h4.68v2.3h-4.68zM814.32 731.4h2.34v2.3h-2.34zM819 731.4h9.36v2.3h-9.36zM835.38 731.4h9.36v2.3h-9.36zM849.42 731.4h2.34v2.3h-2.34zM854.1 731.4h11.7v2.3h-11.7zM875.16 731.4h9.36v2.3h-9.36zM889.2 731.4h4.68v2.3h-4.68zM898.56 731.4h2.34v2.3h-2.34zM903.24 731.4h16.38v2.3h-16.38zM921.96 731.4h4.68v2.3h-4.68zM928.98 731.4h2.34v2.3h-2.34zM933.66 731.4h7.02v2.3h-7.02zM945.36 731.4h2.34v2.3h-2.34zM950.04 731.4h2.34v2.3h-2.34zM954.72 731.4h2.34v2.3h-2.34zM961.74 731.4h4.68v2.3h-4.68zM973.44 731.4h4.68v2.3h-4.68zM980.46 731.4h7.02v2.3h-7.02zM989.82 731.4h14.04v2.3h-14.04zM1006.2 731.4h18.72v2.3h-18.72zM1027.26 731.4h4.68v2.3h-4.68zM1034.28 731.4h2.34v2.3h-2.34zM1038.96 731.4h4.68v2.3h-4.68zM1045.98 731.4h11.7v2.3h-11.7zM1071.72 731.4h2.34v2.3h-2.34zM1078.74 731.4h9.36v2.3h-9.36zM1090.44 731.4h2.34v2.3h-2.34zM1095.12 731.4h14.04v2.3h-14.04zM1111.5 731.4h2.34v2.3h-2.34zM1116.18 731.4h4.68v2.3h-4.68zM1123.2 731.4h2.34v2.3h-2.34zM1127.88 731.4h2.34v2.3h-2.34zM1132.56 731.4h4.68v2.3h-4.68zM1144.26 731.4h9.36v2.3h-9.36zM1155.96 731.4h2.34v2.3h-2.34zM1165.32 731.4h7.02v2.3h-7.02zM1177.02 731.4h18.72v2.3h-18.72zM1198.08 731.4h4.68v2.3h-4.68zM1205.1 731.4h4.68v2.3h-4.68zM1214.46 731.4h2.34v2.3h-2.34zM1219.14 731.4h2.34v2.3h-2.34zM1223.82 731.4h2.34v2.3h-2.34zM1230.84 731.4h7.02v2.3h-7.02zM1240.2 731.4h2.34v2.3h-2.34zM1249.56 731.4h4.68v2.3h-4.68zM1258.92 731.4h2.34v2.3h-2.34zM1263.6 731.4h2.34v2.3h-2.34zM1284.66 731.4h4.68v2.3h-4.68zM1301.04 731.4h7.02v2.3h-7.02zM1310.4 731.4h4.68v2.3h-4.68zM1329.12 731.4h2.34v2.3h-2.34zM1343.16 731.4h2.34v2.3h-2.34zM2234.7 731.4h2.34v2.3h-2.34zM2314.26 731.4h2.34v2.3h-2.34zM3114.54 731.4h2.34v2.3h-2.34zM264.42 733.7h2.34v2.3h-2.34zM278.46 733.7h4.68v2.3h-4.68zM285.48 733.7h9.36v2.3h-9.36zM297.18 733.7h4.68v2.3h-4.68zM304.2 733.7h2.34v2.3h-2.34zM311.22 733.7h4.68v2.3h-4.68zM320.58 733.7h2.34v2.3h-2.34zM325.26 733.7h4.68v2.3h-4.68zM336.96 733.7h2.34v2.3h-2.34zM343.98 733.7h14.04v2.3h-14.04zM362.7 733.7h4.68v2.3h-4.68zM369.72 733.7h2.34v2.3h-2.34zM376.74 733.7h9.36v2.3h-9.36zM395.46 733.7h2.34v2.3h-2.34zM400.14 733.7h16.38v2.3h-16.38zM418.86 733.7h23.4v2.3h-23.4zM449.28 733.7h4.68v2.3h-4.68zM456.3 733.7h4.68v2.3h-4.68zM463.32 733.7h25.74v2.3h-25.74zM491.4 733.7h14.04v2.3h-14.04zM510.12 733.7h2.34v2.3h-2.34zM514.8 733.7h4.68v2.3h-4.68zM526.5 733.7h25.74v2.3h-25.74zM559.26 733.7h2.34v2.3h-2.34zM566.28 733.7h2.34v2.3h-2.34zM570.96 733.7h2.34v2.3h-2.34zM575.64 733.7h11.7v2.3h-11.7zM589.68 733.7h37.44v2.3h-37.44zM657.54 733.7h2.34v2.3h-2.34zM664.56 733.7h2.34v2.3h-2.34zM671.58 733.7h2.34v2.3h-2.34zM678.6 733.7h9.36v2.3h-9.36zM692.64 733.7h7.02v2.3h-7.02zM704.34 733.7h7.02v2.3h-7.02zM720.72 733.7h4.68v2.3h-4.68zM730.08 733.7h7.02v2.3h-7.02zM739.44 733.7h2.34v2.3h-2.34zM748.8 733.7h2.34v2.3h-2.34zM758.16 733.7h7.02v2.3h-7.02zM767.52 733.7h2.34v2.3h-2.34zM772.2 733.7h2.34v2.3h-2.34zM776.88 733.7h4.68v2.3h-4.68zM807.3 733.7h2.34v2.3h-2.34zM811.98 733.7h2.34v2.3h-2.34zM816.66 733.7h2.34v2.3h-2.34zM821.34 733.7h9.36v2.3h-9.36zM833.04 733.7h30.42v2.3h-30.42zM868.14 733.7h2.34v2.3h-2.34zM875.16 733.7h2.34v2.3h-2.34zM879.84 733.7h7.02v2.3h-7.02zM889.2 733.7h2.34v2.3h-2.34zM893.88 733.7h2.34v2.3h-2.34zM898.56 733.7h23.4v2.3h-23.4zM924.3 733.7h4.68v2.3h-4.68zM931.32 733.7h25.74v2.3h-25.74zM959.4 733.7h2.34v2.3h-2.34zM964.08 733.7h9.36v2.3h-9.36zM975.78 733.7h2.34v2.3h-2.34zM982.8 733.7h14.04v2.3h-14.04zM999.18 733.7h9.36v2.3h-9.36zM1010.88 733.7h18.72v2.3h-18.72zM1034.28 733.7h18.72v2.3h-18.72zM1055.34 733.7h7.02v2.3h-7.02zM1067.04 733.7h2.34v2.3h-2.34zM1074.06 733.7h23.4v2.3h-23.4zM1099.8 733.7h2.34v2.3h-2.34zM1104.48 733.7h11.7v2.3h-11.7zM1127.88 733.7h4.68v2.3h-4.68zM1134.9 733.7h4.68v2.3h-4.68zM1144.26 733.7h7.02v2.3h-7.02zM1158.3 733.7h4.68v2.3h-4.68zM1165.32 733.7h9.36v2.3h-9.36zM1179.36 733.7h23.4v2.3h-23.4zM1205.1 733.7h16.38v2.3h-16.38zM1223.82 733.7h2.34v2.3h-2.34zM1228.5 733.7h23.4v2.3h-23.4zM1254.24 733.7h7.02v2.3h-7.02zM1265.94 733.7h4.68v2.3h-4.68zM1275.3 733.7h9.36v2.3h-9.36zM1308.06 733.7h2.34v2.3h-2.34zM1312.74 733.7h2.34v2.3h-2.34zM1324.44 733.7h2.34v2.3h-2.34zM1450.8 733.7h2.34v2.3h-2.34zM2262.78 733.7h2.34v2.3h-2.34zM2288.52 733.7h2.34v2.3h-2.34zM2365.74 733.7h2.34v2.3h-2.34zM2847.78 733.7h2.34v2.3h-2.34zM3535.74 733.7h2.34v2.3h-2.34zM264.42 736h7.02v2.3h-7.02zM273.78 736h9.36v2.3h-9.36zM287.82 736h11.7v2.3h-11.7zM301.86 736h4.68v2.3h-4.68zM313.56 736h4.68v2.3h-4.68zM320.58 736h2.34v2.3h-2.34zM334.62 736h2.34v2.3h-2.34zM343.98 736h16.38v2.3h-16.38zM367.38 736h2.34v2.3h-2.34zM374.4 736h2.34v2.3h-2.34zM379.08 736h4.68v2.3h-4.68zM386.1 736h2.34v2.3h-2.34zM393.12 736h11.7v2.3h-11.7zM407.16 736h4.68v2.3h-4.68zM414.18 736h7.02v2.3h-7.02zM428.22 736h14.04v2.3h-14.04zM446.94 736h7.02v2.3h-7.02zM456.3 736h2.34v2.3h-2.34zM460.98 736h14.04v2.3h-14.04zM477.36 736h28.08v2.3h-28.08zM510.12 736h9.36v2.3h-9.36zM521.82 736h37.44v2.3h-37.44zM566.28 736h9.36v2.3h-9.36zM577.98 736h14.04v2.3h-14.04zM594.36 736h9.36v2.3h-9.36zM610.74 736h2.34v2.3h-2.34zM629.46 736h2.34v2.3h-2.34zM636.48 736h2.34v2.3h-2.34zM641.16 736h4.68v2.3h-4.68zM659.88 736h4.68v2.3h-4.68zM669.24 736h2.34v2.3h-2.34zM676.26 736h4.68v2.3h-4.68zM683.28 736h4.68v2.3h-4.68zM697.32 736h2.34v2.3h-2.34zM702 736h2.34v2.3h-2.34zM706.68 736h7.02v2.3h-7.02zM716.04 736h2.34v2.3h-2.34zM720.72 736h2.34v2.3h-2.34zM732.42 736h14.04v2.3h-14.04zM748.8 736h2.34v2.3h-2.34zM758.16 736h9.36v2.3h-9.36zM769.86 736h4.68v2.3h-4.68zM786.24 736h2.34v2.3h-2.34zM793.26 736h7.02v2.3h-7.02zM804.96 736h2.34v2.3h-2.34zM819 736h14.04v2.3h-14.04zM835.38 736h7.02v2.3h-7.02zM847.08 736h7.02v2.3h-7.02zM856.44 736h7.02v2.3h-7.02zM865.8 736h4.68v2.3h-4.68zM872.82 736h11.7v2.3h-11.7zM891.54 736h2.34v2.3h-2.34zM896.22 736h30.42v2.3h-30.42zM933.66 736h7.02v2.3h-7.02zM945.36 736h14.04v2.3h-14.04zM964.08 736h11.7v2.3h-11.7zM980.46 736h16.38v2.3h-16.38zM999.18 736h32.76v2.3h-32.76zM1036.62 736h4.68v2.3h-4.68zM1045.98 736h7.02v2.3h-7.02zM1057.68 736h4.68v2.3h-4.68zM1064.7 736h9.36v2.3h-9.36zM1076.4 736h2.34v2.3h-2.34zM1081.08 736h16.38v2.3h-16.38zM1099.8 736h2.34v2.3h-2.34zM1106.82 736h9.36v2.3h-9.36zM1118.52 736h9.36v2.3h-9.36zM1130.22 736h2.34v2.3h-2.34zM1134.9 736h2.34v2.3h-2.34zM1144.26 736h7.02v2.3h-7.02zM1158.3 736h16.38v2.3h-16.38zM1177.02 736h32.76v2.3h-32.76zM1212.12 736h9.36v2.3h-9.36zM1228.5 736h2.34v2.3h-2.34zM1237.86 736h2.34v2.3h-2.34zM1242.54 736h11.7v2.3h-11.7zM1256.58 736h7.02v2.3h-7.02zM1265.94 736h7.02v2.3h-7.02zM1279.98 736h2.34v2.3h-2.34zM1284.66 736h2.34v2.3h-2.34zM1312.74 736h11.7v2.3h-11.7zM1347.84 736h2.34v2.3h-2.34zM1382.94 736h2.34v2.3h-2.34zM1476.54 736h2.34v2.3h-2.34zM1663.74 736h2.34v2.3h-2.34zM1890.72 736h2.34v2.3h-2.34zM2480.4 736h2.34v2.3h-2.34zM2485.08 736h2.34v2.3h-2.34zM2719.08 736h2.34v2.3h-2.34zM2737.8 736h2.34v2.3h-2.34zM3112.2 736h2.34v2.3h-2.34zM3545.1 736h2.34v2.3h-2.34zM264.42 738.3h44.46v2.3h-44.46zM311.22 738.3h25.74v2.3h-25.74zM341.64 738.3h11.7v2.3h-11.7zM365.04 738.3h4.68v2.3h-4.68zM372.06 738.3h11.7v2.3h-11.7zM386.1 738.3h7.02v2.3h-7.02zM395.46 738.3h2.34v2.3h-2.34zM400.14 738.3h11.7v2.3h-11.7zM416.52 738.3h4.68v2.3h-4.68zM423.54 738.3h2.34v2.3h-2.34zM428.22 738.3h35.1v2.3h-35.1zM470.34 738.3h2.34v2.3h-2.34zM475.02 738.3h2.34v2.3h-2.34zM482.04 738.3h18.72v2.3h-18.72zM503.1 738.3h7.02v2.3h-7.02zM512.46 738.3h4.68v2.3h-4.68zM519.48 738.3h9.36v2.3h-9.36zM531.18 738.3h9.36v2.3h-9.36zM542.88 738.3h7.02v2.3h-7.02zM556.92 738.3h4.68v2.3h-4.68zM563.94 738.3h2.34v2.3h-2.34zM568.62 738.3h4.68v2.3h-4.68zM575.64 738.3h4.68v2.3h-4.68zM582.66 738.3h11.7v2.3h-11.7zM596.7 738.3h16.38v2.3h-16.38zM617.76 738.3h11.7v2.3h-11.7zM631.8 738.3h9.36v2.3h-9.36zM645.84 738.3h7.02v2.3h-7.02zM657.54 738.3h18.72v2.3h-18.72zM678.6 738.3h28.08v2.3h-28.08zM709.02 738.3h51.48v2.3h-51.48zM765.18 738.3h14.04v2.3h-14.04zM786.24 738.3h9.36v2.3h-9.36zM800.28 738.3h2.34v2.3h-2.34zM804.96 738.3h4.68v2.3h-4.68zM811.98 738.3h23.4v2.3h-23.4zM840.06 738.3h2.34v2.3h-2.34zM844.74 738.3h7.02v2.3h-7.02zM854.1 738.3h14.04v2.3h-14.04zM870.48 738.3h2.34v2.3h-2.34zM875.16 738.3h30.42v2.3h-30.42zM912.6 738.3h2.34v2.3h-2.34zM917.28 738.3h4.68v2.3h-4.68zM924.3 738.3h4.68v2.3h-4.68zM931.32 738.3h7.02v2.3h-7.02zM940.68 738.3h7.02v2.3h-7.02zM950.04 738.3h2.34v2.3h-2.34zM964.08 738.3h2.34v2.3h-2.34zM968.76 738.3h2.34v2.3h-2.34zM975.78 738.3h14.04v2.3h-14.04zM992.16 738.3h2.34v2.3h-2.34zM1001.52 738.3h4.68v2.3h-4.68zM1008.54 738.3h2.34v2.3h-2.34zM1015.56 738.3h4.68v2.3h-4.68zM1022.58 738.3h9.36v2.3h-9.36zM1036.62 738.3h9.36v2.3h-9.36zM1050.66 738.3h16.38v2.3h-16.38zM1069.38 738.3h28.08v2.3h-28.08zM1099.8 738.3h11.7v2.3h-11.7zM1113.84 738.3h2.34v2.3h-2.34zM1123.2 738.3h9.36v2.3h-9.36zM1137.24 738.3h2.34v2.3h-2.34zM1144.26 738.3h21.06v2.3h-21.06zM1167.66 738.3h4.68v2.3h-4.68zM1174.68 738.3h2.34v2.3h-2.34zM1179.36 738.3h4.68v2.3h-4.68zM1186.38 738.3h21.06v2.3h-21.06zM1209.78 738.3h7.02v2.3h-7.02zM1219.14 738.3h2.34v2.3h-2.34zM1226.16 738.3h16.38v2.3h-16.38zM1251.9 738.3h7.02v2.3h-7.02zM1261.26 738.3h9.36v2.3h-9.36zM1277.64 738.3h2.34v2.3h-2.34zM1282.32 738.3h4.68v2.3h-4.68zM1289.34 738.3h2.34v2.3h-2.34zM1296.36 738.3h2.34v2.3h-2.34zM1301.04 738.3h4.68v2.3h-4.68zM1308.06 738.3h2.34v2.3h-2.34zM1319.76 738.3h2.34v2.3h-2.34zM1368.9 738.3h2.34v2.3h-2.34zM1378.26 738.3h2.34v2.3h-2.34zM1413.36 738.3h2.34v2.3h-2.34zM1443.78 738.3h2.34v2.3h-2.34zM1553.76 738.3h2.34v2.3h-2.34zM1570.14 738.3h2.34v2.3h-2.34zM1605.24 738.3h2.34v2.3h-2.34zM1719.9 738.3h2.34v2.3h-2.34zM2246.4 738.3h2.34v2.3h-2.34zM2260.44 738.3h2.34v2.3h-2.34zM2267.46 738.3h2.34v2.3h-2.34zM2307.24 738.3h2.34v2.3h-2.34zM2487.42 738.3h2.34v2.3h-2.34zM3034.98 738.3h2.34v2.3h-2.34zM264.42 740.6h49.14v2.3h-49.14zM315.9 740.6h39.78v2.3h-39.78zM358.02 740.6h18.72v2.3h-18.72zM381.42 740.6h39.78v2.3h-39.78zM425.88 740.6h32.76v2.3h-32.76zM460.98 740.6h2.34v2.3h-2.34zM470.34 740.6h4.68v2.3h-4.68zM477.36 740.6h28.08v2.3h-28.08zM507.78 740.6h2.34v2.3h-2.34zM514.8 740.6h2.34v2.3h-2.34zM519.48 740.6h11.7v2.3h-11.7zM533.52 740.6h7.02v2.3h-7.02zM542.88 740.6h7.02v2.3h-7.02zM556.92 740.6h2.34v2.3h-2.34zM563.94 740.6h14.04v2.3h-14.04zM582.66 740.6h32.76v2.3h-32.76zM617.76 740.6h21.06v2.3h-21.06zM641.16 740.6h16.38v2.3h-16.38zM659.88 740.6h32.76v2.3h-32.76zM694.98 740.6h11.7v2.3h-11.7zM709.02 740.6h7.02v2.3h-7.02zM720.72 740.6h39.78v2.3h-39.78zM765.18 740.6h16.38v2.3h-16.38zM783.9 740.6h9.36v2.3h-9.36zM795.6 740.6h2.34v2.3h-2.34zM800.28 740.6h9.36v2.3h-9.36zM811.98 740.6h23.4v2.3h-23.4zM840.06 740.6h16.38v2.3h-16.38zM858.78 740.6h2.34v2.3h-2.34zM863.46 740.6h30.42v2.3h-30.42zM896.22 740.6h2.34v2.3h-2.34zM903.24 740.6h2.34v2.3h-2.34zM910.26 740.6h39.78v2.3h-39.78zM959.4 740.6h2.34v2.3h-2.34zM964.08 740.6h7.02v2.3h-7.02zM975.78 740.6h16.38v2.3h-16.38zM994.5 740.6h4.68v2.3h-4.68zM1001.52 740.6h2.34v2.3h-2.34zM1006.2 740.6h7.02v2.3h-7.02zM1020.24 740.6h2.34v2.3h-2.34zM1027.26 740.6h18.72v2.3h-18.72zM1053 740.6h16.38v2.3h-16.38zM1074.06 740.6h14.04v2.3h-14.04zM1090.44 740.6h7.02v2.3h-7.02zM1102.14 740.6h9.36v2.3h-9.36zM1113.84 740.6h4.68v2.3h-4.68zM1123.2 740.6h7.02v2.3h-7.02zM1137.24 740.6h4.68v2.3h-4.68zM1144.26 740.6h25.74v2.3h-25.74zM1172.34 740.6h9.36v2.3h-9.36zM1184.04 740.6h16.38v2.3h-16.38zM1202.76 740.6h21.06v2.3h-21.06zM1228.5 740.6h11.7v2.3h-11.7zM1242.54 740.6h2.34v2.3h-2.34zM1251.9 740.6h18.72v2.3h-18.72zM1272.96 740.6h2.34v2.3h-2.34zM1277.64 740.6h4.68v2.3h-4.68zM1287 740.6h4.68v2.3h-4.68zM1301.04 740.6h4.68v2.3h-4.68zM1308.06 740.6h2.34v2.3h-2.34zM1315.08 740.6h2.34v2.3h-2.34zM1322.1 740.6h4.68v2.3h-4.68zM1422.72 740.6h2.34v2.3h-2.34zM1572.48 740.6h2.34v2.3h-2.34zM1841.58 740.6h2.34v2.3h-2.34zM2241.72 740.6h2.34v2.3h-2.34zM2248.74 740.6h2.34v2.3h-2.34zM2258.1 740.6h2.34v2.3h-2.34zM2262.78 740.6h2.34v2.3h-2.34zM2269.8 740.6h2.34v2.3h-2.34zM2281.5 740.6h2.34v2.3h-2.34zM2300.22 740.6h2.34v2.3h-2.34zM2314.26 740.6h2.34v2.3h-2.34zM2318.94 740.6h2.34v2.3h-2.34zM2325.96 740.6h2.34v2.3h-2.34zM2349.36 740.6h2.34v2.3h-2.34zM2595.06 740.6h2.34v2.3h-2.34zM3231.54 740.6h2.34v2.3h-2.34zM269.1 742.9h2.34v2.3h-2.34zM287.82 742.9h4.68v2.3h-4.68zM297.18 742.9h4.68v2.3h-4.68zM334.62 742.9h2.34v2.3h-2.34zM343.98 742.9h7.02v2.3h-7.02zM360.36 742.9h11.7v2.3h-11.7zM402.48 742.9h4.68v2.3h-4.68zM414.18 742.9h2.34v2.3h-2.34zM423.54 742.9h2.34v2.3h-2.34zM428.22 742.9h2.34v2.3h-2.34zM439.92 742.9h4.68v2.3h-4.68zM456.3 742.9h7.02v2.3h-7.02zM491.4 742.9h2.34v2.3h-2.34zM503.1 742.9h2.34v2.3h-2.34zM535.86 742.9h2.34v2.3h-2.34zM561.6 742.9h2.34v2.3h-2.34zM580.32 742.9h4.68v2.3h-4.68zM620.1 742.9h4.68v2.3h-4.68zM629.46 742.9h2.34v2.3h-2.34zM636.48 742.9h2.34v2.3h-2.34zM643.5 742.9h9.36v2.3h-9.36zM655.2 742.9h14.04v2.3h-14.04zM671.58 742.9h7.02v2.3h-7.02zM680.94 742.9h9.36v2.3h-9.36zM702 742.9h2.34v2.3h-2.34zM706.68 742.9h11.7v2.3h-11.7zM720.72 742.9h2.34v2.3h-2.34zM725.4 742.9h11.7v2.3h-11.7zM744.12 742.9h7.02v2.3h-7.02zM753.48 742.9h4.68v2.3h-4.68zM762.84 742.9h2.34v2.3h-2.34zM767.52 742.9h2.34v2.3h-2.34zM772.2 742.9h21.06v2.3h-21.06zM795.6 742.9h4.68v2.3h-4.68zM802.62 742.9h7.02v2.3h-7.02zM814.32 742.9h23.4v2.3h-23.4zM840.06 742.9h9.36v2.3h-9.36zM854.1 742.9h23.4v2.3h-23.4zM879.84 742.9h2.34v2.3h-2.34zM884.52 742.9h14.04v2.3h-14.04zM900.9 742.9h4.68v2.3h-4.68zM907.92 742.9h2.34v2.3h-2.34zM912.6 742.9h4.68v2.3h-4.68zM919.62 742.9h7.02v2.3h-7.02zM928.98 742.9h25.74v2.3h-25.74zM957.06 742.9h4.68v2.3h-4.68zM966.42 742.9h7.02v2.3h-7.02zM975.78 742.9h14.04v2.3h-14.04zM996.84 742.9h2.34v2.3h-2.34zM1006.2 742.9h4.68v2.3h-4.68zM1015.56 742.9h18.72v2.3h-18.72zM1036.62 742.9h9.36v2.3h-9.36zM1053 742.9h39.78v2.3h-39.78zM1095.12 742.9h2.34v2.3h-2.34zM1099.8 742.9h14.04v2.3h-14.04zM1116.18 742.9h2.34v2.3h-2.34zM1123.2 742.9h7.02v2.3h-7.02zM1132.56 742.9h2.34v2.3h-2.34zM1137.24 742.9h4.68v2.3h-4.68zM1144.26 742.9h25.74v2.3h-25.74zM1172.34 742.9h2.34v2.3h-2.34zM1177.02 742.9h4.68v2.3h-4.68zM1184.04 742.9h37.44v2.3h-37.44zM1226.16 742.9h11.7v2.3h-11.7zM1240.2 742.9h7.02v2.3h-7.02zM1254.24 742.9h2.34v2.3h-2.34zM1261.26 742.9h9.36v2.3h-9.36zM1272.96 742.9h4.68v2.3h-4.68zM1279.98 742.9h2.34v2.3h-2.34zM1284.66 742.9h9.36v2.3h-9.36zM1296.36 742.9h9.36v2.3h-9.36zM1308.06 742.9h2.34v2.3h-2.34zM1315.08 742.9h2.34v2.3h-2.34zM1319.76 742.9h7.02v2.3h-7.02zM1331.46 742.9h2.34v2.3h-2.34zM1396.98 742.9h2.34v2.3h-2.34zM1474.2 742.9h2.34v2.3h-2.34zM1488.24 742.9h2.34v2.3h-2.34zM1703.52 742.9h2.34v2.3h-2.34zM2239.38 742.9h2.34v2.3h-2.34zM2248.74 742.9h2.34v2.3h-2.34zM2258.1 742.9h2.34v2.3h-2.34zM2262.78 742.9h2.34v2.3h-2.34zM2267.46 742.9h2.34v2.3h-2.34zM2279.16 742.9h2.34v2.3h-2.34zM2283.84 742.9h2.34v2.3h-2.34zM2297.88 742.9h9.36v2.3h-9.36zM2309.58 742.9h2.34v2.3h-2.34zM2316.6 742.9h2.34v2.3h-2.34zM2323.62 742.9h4.68v2.3h-4.68zM2337.66 742.9h2.34v2.3h-2.34zM2347.02 742.9h2.34v2.3h-2.34zM2351.7 742.9h2.34v2.3h-2.34zM2365.74 742.9h2.34v2.3h-2.34zM2370.42 742.9h4.68v2.3h-4.68zM2377.44 742.9h2.34v2.3h-2.34zM2384.46 742.9h2.34v2.3h-2.34zM2393.82 742.9h2.34v2.3h-2.34zM2398.5 742.9h2.34v2.3h-2.34zM2407.86 742.9h2.34v2.3h-2.34zM2426.58 742.9h2.34v2.3h-2.34zM2442.96 742.9h2.34v2.3h-2.34zM2468.7 742.9h2.34v2.3h-2.34zM2473.38 742.9h2.34v2.3h-2.34zM2482.74 742.9h4.68v2.3h-4.68zM2588.04 742.9h2.34v2.3h-2.34zM2651.22 742.9h2.34v2.3h-2.34zM2955.42 742.9h2.34v2.3h-2.34zM3189.42 742.9h2.34v2.3h-2.34zM3332.16 742.9h2.34v2.3h-2.34zM3446.82 742.9h2.34v2.3h-2.34zM3500.64 742.9h2.34v2.3h-2.34zM3617.64 742.9h2.34v2.3h-2.34zM369.72 745.2h2.34v2.3h-2.34zM659.88 745.2h4.68v2.3h-4.68zM783.9 745.2h4.68v2.3h-4.68zM793.26 745.2h2.34v2.3h-2.34zM800.28 745.2h2.34v2.3h-2.34zM819 745.2h2.34v2.3h-2.34zM849.42 745.2h2.34v2.3h-2.34zM856.44 745.2h2.34v2.3h-2.34zM877.5 745.2h2.34v2.3h-2.34zM884.52 745.2h2.34v2.3h-2.34zM891.54 745.2h2.34v2.3h-2.34zM896.22 745.2h2.34v2.3h-2.34zM905.58 745.2h11.7v2.3h-11.7zM919.62 745.2h14.04v2.3h-14.04zM940.68 745.2h14.04v2.3h-14.04zM968.76 745.2h35.1v2.3h-35.1zM1006.2 745.2h2.34v2.3h-2.34zM1010.88 745.2h28.08v2.3h-28.08zM1041.3 745.2h4.68v2.3h-4.68zM1048.32 745.2h32.76v2.3h-32.76zM1083.42 745.2h2.34v2.3h-2.34zM1088.1 745.2h21.06v2.3h-21.06zM1111.5 745.2h14.04v2.3h-14.04zM1127.88 745.2h9.36v2.3h-9.36zM1139.58 745.2h2.34v2.3h-2.34zM1144.26 745.2h25.74v2.3h-25.74zM1172.34 745.2h14.04v2.3h-14.04zM1195.74 745.2h4.68v2.3h-4.68zM1202.76 745.2h11.7v2.3h-11.7zM1216.8 745.2h9.36v2.3h-9.36zM1230.84 745.2h21.06v2.3h-21.06zM1256.58 745.2h2.34v2.3h-2.34zM1263.6 745.2h16.38v2.3h-16.38zM1282.32 745.2h2.34v2.3h-2.34zM1291.68 745.2h11.7v2.3h-11.7zM1305.72 745.2h14.04v2.3h-14.04zM1338.48 745.2h2.34v2.3h-2.34zM1352.52 745.2h4.68v2.3h-4.68zM1364.22 745.2h2.34v2.3h-2.34zM1378.26 745.2h2.34v2.3h-2.34zM1382.94 745.2h7.02v2.3h-7.02zM1396.98 745.2h4.68v2.3h-4.68zM1429.74 745.2h2.34v2.3h-2.34zM1485.9 745.2h2.34v2.3h-2.34zM1574.82 745.2h2.34v2.3h-2.34zM1621.62 745.2h2.34v2.3h-2.34zM1705.86 745.2h2.34v2.3h-2.34zM1738.62 745.2h2.34v2.3h-2.34zM1771.38 745.2h2.34v2.3h-2.34zM1780.74 745.2h2.34v2.3h-2.34zM2215.98 745.2h2.34v2.3h-2.34zM2244.06 745.2h2.34v2.3h-2.34zM2248.74 745.2h2.34v2.3h-2.34zM2258.1 745.2h2.34v2.3h-2.34zM2276.82 745.2h2.34v2.3h-2.34zM2283.84 745.2h2.34v2.3h-2.34zM2293.2 745.2h2.34v2.3h-2.34zM2300.22 745.2h7.02v2.3h-7.02zM2309.58 745.2h2.34v2.3h-2.34zM2328.3 745.2h2.34v2.3h-2.34zM2340 745.2h2.34v2.3h-2.34zM2347.02 745.2h2.34v2.3h-2.34zM2351.7 745.2h2.34v2.3h-2.34zM2356.38 745.2h2.34v2.3h-2.34zM2365.74 745.2h2.34v2.3h-2.34zM2377.44 745.2h2.34v2.3h-2.34zM2382.12 745.2h2.34v2.3h-2.34zM2386.8 745.2h2.34v2.3h-2.34zM2391.48 745.2h2.34v2.3h-2.34zM2398.5 745.2h2.34v2.3h-2.34zM2405.52 745.2h2.34v2.3h-2.34zM2421.9 745.2h2.34v2.3h-2.34zM2426.58 745.2h2.34v2.3h-2.34zM2431.26 745.2h2.34v2.3h-2.34zM2459.34 745.2h2.34v2.3h-2.34zM2471.04 745.2h2.34v2.3h-2.34zM2475.72 745.2h4.68v2.3h-4.68zM2485.08 745.2h2.34v2.3h-2.34zM2534.22 745.2h2.34v2.3h-2.34zM2613.78 745.2h2.34v2.3h-2.34zM2655.9 745.2h2.34v2.3h-2.34zM2709.72 745.2h2.34v2.3h-2.34zM2770.56 745.2h2.34v2.3h-2.34zM2861.82 745.2h2.34v2.3h-2.34zM2946.06 745.2h2.34v2.3h-2.34zM3060.72 745.2h2.34v2.3h-2.34zM3135.6 745.2h2.34v2.3h-2.34zM3414.06 745.2h2.34v2.3h-2.34zM877.5 747.5h2.34v2.3h-2.34zM907.92 747.5h7.02v2.3h-7.02zM936 747.5h2.34v2.3h-2.34zM945.36 747.5h4.68v2.3h-4.68zM952.38 747.5h2.34v2.3h-2.34zM957.06 747.5h2.34v2.3h-2.34zM961.74 747.5h4.68v2.3h-4.68zM968.76 747.5h70.2v2.3h-70.2zM1041.3 747.5h7.02v2.3h-7.02zM1050.66 747.5h16.38v2.3h-16.38zM1069.38 747.5h7.02v2.3h-7.02zM1081.08 747.5h28.08v2.3h-28.08zM1111.5 747.5h11.7v2.3h-11.7zM1125.54 747.5h2.34v2.3h-2.34zM1130.22 747.5h9.36v2.3h-9.36zM1141.92 747.5h51.48v2.3h-51.48zM1198.08 747.5h2.34v2.3h-2.34zM1205.1 747.5h18.72v2.3h-18.72zM1226.16 747.5h9.36v2.3h-9.36zM1237.86 747.5h11.7v2.3h-11.7zM1254.24 747.5h9.36v2.3h-9.36zM1268.28 747.5h9.36v2.3h-9.36zM1279.98 747.5h4.68v2.3h-4.68zM1289.34 747.5h16.38v2.3h-16.38zM1312.74 747.5h4.68v2.3h-4.68zM1322.1 747.5h7.02v2.3h-7.02zM1340.82 747.5h9.36v2.3h-9.36zM1354.86 747.5h11.7v2.3h-11.7zM1373.58 747.5h2.34v2.3h-2.34zM1378.26 747.5h2.34v2.3h-2.34zM1382.94 747.5h2.34v2.3h-2.34zM1387.62 747.5h2.34v2.3h-2.34zM1396.98 747.5h2.34v2.3h-2.34zM1401.66 747.5h2.34v2.3h-2.34zM1406.34 747.5h2.34v2.3h-2.34zM1411.02 747.5h4.68v2.3h-4.68zM1422.72 747.5h2.34v2.3h-2.34zM1439.1 747.5h2.34v2.3h-2.34zM1453.14 747.5h2.34v2.3h-2.34zM1633.32 747.5h2.34v2.3h-2.34zM1649.7 747.5h2.34v2.3h-2.34zM1724.58 747.5h2.34v2.3h-2.34zM1785.42 747.5h2.34v2.3h-2.34zM1797.12 747.5h2.34v2.3h-2.34zM2239.38 747.5h2.34v2.3h-2.34zM2244.06 747.5h2.34v2.3h-2.34zM2253.42 747.5h7.02v2.3h-7.02zM2262.78 747.5h2.34v2.3h-2.34zM2267.46 747.5h4.68v2.3h-4.68zM2288.52 747.5h32.76v2.3h-32.76zM2323.62 747.5h2.34v2.3h-2.34zM2328.3 747.5h2.34v2.3h-2.34zM2332.98 747.5h2.34v2.3h-2.34zM2340 747.5h2.34v2.3h-2.34zM2354.04 747.5h4.68v2.3h-4.68zM2361.06 747.5h2.34v2.3h-2.34zM2365.74 747.5h4.68v2.3h-4.68zM2372.76 747.5h2.34v2.3h-2.34zM2377.44 747.5h2.34v2.3h-2.34zM2391.48 747.5h2.34v2.3h-2.34zM2400.84 747.5h2.34v2.3h-2.34zM2405.52 747.5h2.34v2.3h-2.34zM2414.88 747.5h4.68v2.3h-4.68zM2424.24 747.5h2.34v2.3h-2.34zM2428.92 747.5h4.68v2.3h-4.68zM2438.28 747.5h2.34v2.3h-2.34zM2442.96 747.5h2.34v2.3h-2.34zM2447.64 747.5h2.34v2.3h-2.34zM2466.36 747.5h2.34v2.3h-2.34zM2471.04 747.5h2.34v2.3h-2.34zM2475.72 747.5h4.68v2.3h-4.68zM2482.74 747.5h7.02v2.3h-7.02zM2655.9 747.5h2.34v2.3h-2.34zM2686.32 747.5h2.34v2.3h-2.34zM2861.82 747.5h2.34v2.3h-2.34zM2878.2 747.5h2.34v2.3h-2.34zM3140.28 747.5h2.34v2.3h-2.34zM3159 747.5h2.34v2.3h-2.34zM3388.32 747.5h2.34v2.3h-2.34zM3502.98 747.5h2.34v2.3h-2.34zM3547.44 747.5h2.34v2.3h-2.34zM968.76 749.8h2.34v2.3h-2.34zM975.78 749.8h7.02v2.3h-7.02zM992.16 749.8h2.34v2.3h-2.34zM1008.54 749.8h4.68v2.3h-4.68zM1015.56 749.8h7.02v2.3h-7.02zM1024.92 749.8h11.7v2.3h-11.7zM1050.66 749.8h9.36v2.3h-9.36zM1062.36 749.8h4.68v2.3h-4.68zM1069.38 749.8h4.68v2.3h-4.68zM1076.4 749.8h2.34v2.3h-2.34zM1081.08 749.8h2.34v2.3h-2.34zM1085.76 749.8h42.12v2.3h-42.12zM1130.22 749.8h7.02v2.3h-7.02zM1144.26 749.8h44.46v2.3h-44.46zM1193.4 749.8h4.68v2.3h-4.68zM1202.76 749.8h11.7v2.3h-11.7zM1216.8 749.8h9.36v2.3h-9.36zM1228.5 749.8h4.68v2.3h-4.68zM1237.86 749.8h11.7v2.3h-11.7zM1251.9 749.8h2.34v2.3h-2.34zM1256.58 749.8h4.68v2.3h-4.68zM1263.6 749.8h14.04v2.3h-14.04zM1282.32 749.8h2.34v2.3h-2.34zM1287 749.8h14.04v2.3h-14.04zM1303.38 749.8h2.34v2.3h-2.34zM1308.06 749.8h2.34v2.3h-2.34zM1312.74 749.8h2.34v2.3h-2.34zM1317.42 749.8h2.34v2.3h-2.34zM1326.78 749.8h2.34v2.3h-2.34zM1331.46 749.8h2.34v2.3h-2.34zM1340.82 749.8h4.68v2.3h-4.68zM1350.18 749.8h2.34v2.3h-2.34zM1354.86 749.8h2.34v2.3h-2.34zM1359.54 749.8h4.68v2.3h-4.68zM1366.56 749.8h2.34v2.3h-2.34zM1371.24 749.8h2.34v2.3h-2.34zM1375.92 749.8h4.68v2.3h-4.68zM1382.94 749.8h9.36v2.3h-9.36zM1394.64 749.8h2.34v2.3h-2.34zM1399.32 749.8h2.34v2.3h-2.34zM1411.02 749.8h2.34v2.3h-2.34zM1415.7 749.8h11.7v2.3h-11.7zM1429.74 749.8h4.68v2.3h-4.68zM1436.76 749.8h2.34v2.3h-2.34zM1443.78 749.8h2.34v2.3h-2.34zM1453.14 749.8h4.68v2.3h-4.68zM1464.84 749.8h2.34v2.3h-2.34zM1471.86 749.8h4.68v2.3h-4.68zM1483.56 749.8h2.34v2.3h-2.34zM1616.94 749.8h2.34v2.3h-2.34zM1722.24 749.8h2.34v2.3h-2.34zM2239.38 749.8h2.34v2.3h-2.34zM2246.4 749.8h16.38v2.3h-16.38zM2265.12 749.8h4.68v2.3h-4.68zM2274.48 749.8h2.34v2.3h-2.34zM2281.5 749.8h2.34v2.3h-2.34zM2286.18 749.8h2.34v2.3h-2.34zM2290.86 749.8h11.7v2.3h-11.7zM2304.9 749.8h11.7v2.3h-11.7zM2330.64 749.8h2.34v2.3h-2.34zM2342.34 749.8h2.34v2.3h-2.34zM2351.7 749.8h4.68v2.3h-4.68zM2365.74 749.8h2.34v2.3h-2.34zM2372.76 749.8h4.68v2.3h-4.68zM2386.8 749.8h2.34v2.3h-2.34zM2391.48 749.8h7.02v2.3h-7.02zM2400.84 749.8h2.34v2.3h-2.34zM2405.52 749.8h4.68v2.3h-4.68zM2412.54 749.8h2.34v2.3h-2.34zM2417.22 749.8h7.02v2.3h-7.02zM2428.92 749.8h4.68v2.3h-4.68zM2440.62 749.8h2.34v2.3h-2.34zM2445.3 749.8h2.34v2.3h-2.34zM2454.66 749.8h4.68v2.3h-4.68zM2468.7 749.8h2.34v2.3h-2.34zM2473.38 749.8h4.68v2.3h-4.68zM2765.88 749.8h2.34v2.3h-2.34zM2885.22 749.8h2.34v2.3h-2.34zM3119.22 749.8h2.34v2.3h-2.34zM3128.58 749.8h2.34v2.3h-2.34zM3266.64 749.8h2.34v2.3h-2.34zM3329.82 749.8h2.34v2.3h-2.34zM3374.28 749.8h2.34v2.3h-2.34zM3421.08 749.8h2.34v2.3h-2.34zM980.46 752.1h2.34v2.3h-2.34zM1027.26 752.1h7.02v2.3h-7.02zM1076.4 752.1h2.34v2.3h-2.34zM1090.44 752.1h7.02v2.3h-7.02zM1120.86 752.1h4.68v2.3h-4.68zM1141.92 752.1h4.68v2.3h-4.68zM1148.94 752.1h2.34v2.3h-2.34zM1153.62 752.1h4.68v2.3h-4.68zM1160.64 752.1h7.02v2.3h-7.02zM1170 752.1h2.34v2.3h-2.34zM1174.68 752.1h11.7v2.3h-11.7zM1193.4 752.1h70.2v2.3h-70.2zM1270.62 752.1h9.36v2.3h-9.36zM1282.32 752.1h21.06v2.3h-21.06zM1305.72 752.1h16.38v2.3h-16.38zM1324.44 752.1h4.68v2.3h-4.68zM1331.46 752.1h9.36v2.3h-9.36zM1343.16 752.1h4.68v2.3h-4.68zM1357.2 752.1h2.34v2.3h-2.34zM1361.88 752.1h9.36v2.3h-9.36zM1373.58 752.1h11.7v2.3h-11.7zM1392.3 752.1h7.02v2.3h-7.02zM1404 752.1h7.02v2.3h-7.02zM1418.04 752.1h14.04v2.3h-14.04zM1439.1 752.1h2.34v2.3h-2.34zM1443.78 752.1h2.34v2.3h-2.34zM1453.14 752.1h7.02v2.3h-7.02zM1469.52 752.1h4.68v2.3h-4.68zM1478.88 752.1h7.02v2.3h-7.02zM1490.58 752.1h11.7v2.3h-11.7zM1518.66 752.1h2.34v2.3h-2.34zM1542.06 752.1h2.34v2.3h-2.34zM1549.08 752.1h2.34v2.3h-2.34zM1570.14 752.1h2.34v2.3h-2.34zM1799.46 752.1h2.34v2.3h-2.34zM2237.04 752.1h2.34v2.3h-2.34zM2241.72 752.1h4.68v2.3h-4.68zM2258.1 752.1h2.34v2.3h-2.34zM2262.78 752.1h2.34v2.3h-2.34zM2267.46 752.1h4.68v2.3h-4.68zM2274.48 752.1h4.68v2.3h-4.68zM2283.84 752.1h11.7v2.3h-11.7zM2300.22 752.1h11.7v2.3h-11.7zM2316.6 752.1h7.02v2.3h-7.02zM2335.32 752.1h4.68v2.3h-4.68zM2342.34 752.1h14.04v2.3h-14.04zM2358.72 752.1h4.68v2.3h-4.68zM2365.74 752.1h9.36v2.3h-9.36zM2377.44 752.1h11.7v2.3h-11.7zM2391.48 752.1h7.02v2.3h-7.02zM2400.84 752.1h4.68v2.3h-4.68zM2410.2 752.1h9.36v2.3h-9.36zM2426.58 752.1h2.34v2.3h-2.34zM2438.28 752.1h2.34v2.3h-2.34zM2442.96 752.1h4.68v2.3h-4.68zM2457 752.1h14.04v2.3h-14.04zM2473.38 752.1h2.34v2.3h-2.34zM2480.4 752.1h7.02v2.3h-7.02zM2489.76 752.1h4.68v2.3h-4.68zM2541.24 752.1h2.34v2.3h-2.34zM2604.42 752.1h2.34v2.3h-2.34zM2637.18 752.1h2.34v2.3h-2.34zM2651.22 752.1h2.34v2.3h-2.34zM2866.5 752.1h2.34v2.3h-2.34zM2882.88 752.1h2.34v2.3h-2.34zM2915.64 752.1h2.34v2.3h-2.34zM2967.12 752.1h2.34v2.3h-2.34zM3027.96 752.1h2.34v2.3h-2.34zM3042 752.1h2.34v2.3h-2.34zM3140.28 752.1h2.34v2.3h-2.34zM3191.76 752.1h2.34v2.3h-2.34zM3233.88 752.1h2.34v2.3h-2.34zM3245.58 752.1h2.34v2.3h-2.34zM3280.68 752.1h2.34v2.3h-2.34zM3409.38 752.1h2.34v2.3h-2.34zM3535.74 752.1h2.34v2.3h-2.34zM3547.44 752.1h2.34v2.3h-2.34zM3619.98 752.1h2.34v2.3h-2.34zM1092.78 754.4h2.34v2.3h-2.34zM1184.04 754.4h2.34v2.3h-2.34zM1212.12 754.4h2.34v2.3h-2.34zM1219.14 754.4h14.04v2.3h-14.04zM1237.86 754.4h4.68v2.3h-4.68zM1249.56 754.4h14.04v2.3h-14.04zM1265.94 754.4h2.34v2.3h-2.34zM1270.62 754.4h23.4v2.3h-23.4zM1298.7 754.4h49.14v2.3h-49.14zM1350.18 754.4h2.34v2.3h-2.34zM1357.2 754.4h32.76v2.3h-32.76zM1394.64 754.4h2.34v2.3h-2.34zM1399.32 754.4h11.7v2.3h-11.7zM1418.04 754.4h14.04v2.3h-14.04zM1439.1 754.4h4.68v2.3h-4.68zM1448.46 754.4h4.68v2.3h-4.68zM1455.48 754.4h7.02v2.3h-7.02zM1467.18 754.4h7.02v2.3h-7.02zM1481.22 754.4h2.34v2.3h-2.34zM1485.9 754.4h2.34v2.3h-2.34zM1490.58 754.4h2.34v2.3h-2.34zM1495.26 754.4h2.34v2.3h-2.34zM1504.62 754.4h2.34v2.3h-2.34zM1511.64 754.4h2.34v2.3h-2.34zM1516.32 754.4h2.34v2.3h-2.34zM1525.68 754.4h2.34v2.3h-2.34zM1537.38 754.4h4.68v2.3h-4.68zM1544.4 754.4h2.34v2.3h-2.34zM1563.12 754.4h2.34v2.3h-2.34zM1572.48 754.4h2.34v2.3h-2.34zM1577.16 754.4h2.34v2.3h-2.34zM1586.52 754.4h2.34v2.3h-2.34zM1591.2 754.4h4.68v2.3h-4.68zM1598.22 754.4h2.34v2.3h-2.34zM1607.58 754.4h2.34v2.3h-2.34zM1619.28 754.4h2.34v2.3h-2.34zM1630.98 754.4h2.34v2.3h-2.34zM1719.9 754.4h2.34v2.3h-2.34zM2211.3 754.4h2.34v2.3h-2.34zM2218.32 754.4h2.34v2.3h-2.34zM2223 754.4h7.02v2.3h-7.02zM2234.7 754.4h2.34v2.3h-2.34zM2239.38 754.4h2.34v2.3h-2.34zM2253.42 754.4h2.34v2.3h-2.34zM2258.1 754.4h9.36v2.3h-9.36zM2274.48 754.4h2.34v2.3h-2.34zM2281.5 754.4h14.04v2.3h-14.04zM2297.88 754.4h2.34v2.3h-2.34zM2302.56 754.4h2.34v2.3h-2.34zM2309.58 754.4h2.34v2.3h-2.34zM2314.26 754.4h9.36v2.3h-9.36zM2332.98 754.4h4.68v2.3h-4.68zM2342.34 754.4h2.34v2.3h-2.34zM2349.36 754.4h9.36v2.3h-9.36zM2361.06 754.4h11.7v2.3h-11.7zM2375.1 754.4h4.68v2.3h-4.68zM2382.12 754.4h2.34v2.3h-2.34zM2386.8 754.4h16.38v2.3h-16.38zM2405.52 754.4h9.36v2.3h-9.36zM2421.9 754.4h2.34v2.3h-2.34zM2431.26 754.4h4.68v2.3h-4.68zM2438.28 754.4h2.34v2.3h-2.34zM2442.96 754.4h2.34v2.3h-2.34zM2454.66 754.4h18.72v2.3h-18.72zM2475.72 754.4h9.36v2.3h-9.36zM2487.42 754.4h7.02v2.3h-7.02zM2578.68 754.4h2.34v2.3h-2.34zM2604.42 754.4h2.34v2.3h-2.34zM2695.68 754.4h2.34v2.3h-2.34zM2700.36 754.4h7.02v2.3h-7.02zM2712.06 754.4h2.34v2.3h-2.34zM2721.42 754.4h2.34v2.3h-2.34zM2737.8 754.4h4.68v2.3h-4.68zM2744.82 754.4h2.34v2.3h-2.34zM2751.84 754.4h2.34v2.3h-2.34zM2768.22 754.4h2.34v2.3h-2.34zM2775.24 754.4h4.68v2.3h-4.68zM2786.94 754.4h4.68v2.3h-4.68zM2793.96 754.4h2.34v2.3h-2.34zM2800.98 754.4h2.34v2.3h-2.34zM2805.66 754.4h2.34v2.3h-2.34zM2810.34 754.4h2.34v2.3h-2.34zM2815.02 754.4h2.34v2.3h-2.34zM2836.08 754.4h2.34v2.3h-2.34zM2868.84 754.4h2.34v2.3h-2.34zM2882.88 754.4h2.34v2.3h-2.34zM2887.56 754.4h2.34v2.3h-2.34zM3119.22 754.4h2.34v2.3h-2.34zM3240.9 754.4h2.34v2.3h-2.34zM3334.5 754.4h2.34v2.3h-2.34zM3367.26 754.4h2.34v2.3h-2.34zM1268.28 756.7h9.36v2.3h-9.36zM1303.38 756.7h4.68v2.3h-4.68zM1315.08 756.7h4.68v2.3h-4.68zM1322.1 756.7h2.34v2.3h-2.34zM1331.46 756.7h2.34v2.3h-2.34zM1336.14 756.7h51.48v2.3h-51.48zM1389.96 756.7h7.02v2.3h-7.02zM1404 756.7h2.34v2.3h-2.34zM1408.68 756.7h2.34v2.3h-2.34zM1418.04 756.7h14.04v2.3h-14.04zM1434.42 756.7h7.02v2.3h-7.02zM1443.78 756.7h9.36v2.3h-9.36zM1457.82 756.7h7.02v2.3h-7.02zM1467.18 756.7h11.7v2.3h-11.7zM1481.22 756.7h7.02v2.3h-7.02zM1492.92 756.7h7.02v2.3h-7.02zM1506.96 756.7h14.04v2.3h-14.04zM1525.68 756.7h4.68v2.3h-4.68zM1544.4 756.7h2.34v2.3h-2.34zM1549.08 756.7h2.34v2.3h-2.34zM1558.44 756.7h2.34v2.3h-2.34zM1565.46 756.7h9.36v2.3h-9.36zM1586.52 756.7h2.34v2.3h-2.34zM1598.22 756.7h4.68v2.3h-4.68zM1607.58 756.7h4.68v2.3h-4.68zM1614.6 756.7h11.7v2.3h-11.7zM1630.98 756.7h2.34v2.3h-2.34zM1635.66 756.7h2.34v2.3h-2.34zM1647.36 756.7h4.68v2.3h-4.68zM1694.16 756.7h2.34v2.3h-2.34zM1701.18 756.7h2.34v2.3h-2.34zM1757.34 756.7h2.34v2.3h-2.34zM1857.96 756.7h2.34v2.3h-2.34zM1972.62 756.7h2.34v2.3h-2.34zM2094.3 756.7h2.34v2.3h-2.34zM2215.98 756.7h2.34v2.3h-2.34zM2230.02 756.7h9.36v2.3h-9.36zM2241.72 756.7h4.68v2.3h-4.68zM2251.08 756.7h2.34v2.3h-2.34zM2258.1 756.7h7.02v2.3h-7.02zM2272.14 756.7h4.68v2.3h-4.68zM2281.5 756.7h14.04v2.3h-14.04zM2302.56 756.7h2.34v2.3h-2.34zM2309.58 756.7h2.34v2.3h-2.34zM2314.26 756.7h9.36v2.3h-9.36zM2330.64 756.7h9.36v2.3h-9.36zM2351.7 756.7h2.34v2.3h-2.34zM2356.38 756.7h46.8v2.3h-46.8zM2407.86 756.7h7.02v2.3h-7.02zM2417.22 756.7h4.68v2.3h-4.68zM2426.58 756.7h4.68v2.3h-4.68zM2435.94 756.7h11.7v2.3h-11.7zM2449.98 756.7h16.38v2.3h-16.38zM2468.7 756.7h2.34v2.3h-2.34zM2478.06 756.7h2.34v2.3h-2.34zM2482.74 756.7h11.7v2.3h-11.7zM2534.22 756.7h2.34v2.3h-2.34zM2646.54 756.7h2.34v2.3h-2.34zM2688.66 756.7h11.7v2.3h-11.7zM2702.7 756.7h2.34v2.3h-2.34zM2712.06 756.7h2.34v2.3h-2.34zM2716.74 756.7h4.68v2.3h-4.68zM2728.44 756.7h2.34v2.3h-2.34zM2733.12 756.7h2.34v2.3h-2.34zM2742.48 756.7h4.68v2.3h-4.68zM2751.84 756.7h4.68v2.3h-4.68zM2761.2 756.7h2.34v2.3h-2.34zM2765.88 756.7h2.34v2.3h-2.34zM2784.6 756.7h2.34v2.3h-2.34zM2789.28 756.7h2.34v2.3h-2.34zM2803.32 756.7h4.68v2.3h-4.68zM2810.34 756.7h11.7v2.3h-11.7zM2824.38 756.7h7.02v2.3h-7.02zM2833.74 756.7h2.34v2.3h-2.34zM2838.42 756.7h4.68v2.3h-4.68zM2847.78 756.7h4.68v2.3h-4.68zM2854.8 756.7h2.34v2.3h-2.34zM2859.48 756.7h2.34v2.3h-2.34zM2866.5 756.7h2.34v2.3h-2.34zM2878.2 756.7h2.34v2.3h-2.34zM2889.9 756.7h2.34v2.3h-2.34zM2899.26 756.7h2.34v2.3h-2.34zM2906.28 756.7h11.7v2.3h-11.7zM2941.38 756.7h4.68v2.3h-4.68zM2953.08 756.7h9.36v2.3h-9.36zM2974.14 756.7h2.34v2.3h-2.34zM2981.16 756.7h9.36v2.3h-9.36zM2992.86 756.7h4.68v2.3h-4.68zM2999.88 756.7h4.68v2.3h-4.68zM3020.94 756.7h7.02v2.3h-7.02zM3030.3 756.7h2.34v2.3h-2.34zM3034.98 756.7h2.34v2.3h-2.34zM3044.34 756.7h9.36v2.3h-9.36zM3060.72 756.7h2.34v2.3h-2.34zM3072.42 756.7h2.34v2.3h-2.34zM3077.1 756.7h4.68v2.3h-4.68zM3084.12 756.7h2.34v2.3h-2.34zM3088.8 756.7h7.02v2.3h-7.02zM3098.16 756.7h2.34v2.3h-2.34zM3102.84 756.7h2.34v2.3h-2.34zM3112.2 756.7h2.34v2.3h-2.34zM3126.24 756.7h4.68v2.3h-4.68zM3137.94 756.7h2.34v2.3h-2.34zM3156.66 756.7h2.34v2.3h-2.34zM3161.34 756.7h2.34v2.3h-2.34zM3170.7 756.7h4.68v2.3h-4.68zM3177.72 756.7h4.68v2.3h-4.68zM3184.74 756.7h2.34v2.3h-2.34zM3189.42 756.7h9.36v2.3h-9.36zM3210.48 756.7h2.34v2.3h-2.34zM3233.88 756.7h2.34v2.3h-2.34zM3240.9 756.7h2.34v2.3h-2.34zM3250.26 756.7h2.34v2.3h-2.34zM3254.94 756.7h9.36v2.3h-9.36zM3266.64 756.7h2.34v2.3h-2.34zM3276 756.7h16.38v2.3h-16.38zM3294.72 756.7h2.34v2.3h-2.34zM3301.74 756.7h2.34v2.3h-2.34zM3313.44 756.7h4.68v2.3h-4.68zM3320.46 756.7h2.34v2.3h-2.34zM3341.52 756.7h14.04v2.3h-14.04zM3360.24 756.7h4.68v2.3h-4.68zM3378.96 756.7h7.02v2.3h-7.02zM3388.32 756.7h2.34v2.3h-2.34zM3397.68 756.7h2.34v2.3h-2.34zM3414.06 756.7h2.34v2.3h-2.34zM3423.42 756.7h2.34v2.3h-2.34zM3428.1 756.7h2.34v2.3h-2.34zM3435.12 756.7h2.34v2.3h-2.34zM3442.14 756.7h2.34v2.3h-2.34zM3458.52 756.7h4.68v2.3h-4.68zM3472.56 756.7h2.34v2.3h-2.34zM3479.58 756.7h2.34v2.3h-2.34zM3484.26 756.7h2.34v2.3h-2.34zM3491.28 756.7h2.34v2.3h-2.34zM3498.3 756.7h2.34v2.3h-2.34zM3502.98 756.7h2.34v2.3h-2.34zM3507.66 756.7h2.34v2.3h-2.34zM3512.34 756.7h2.34v2.3h-2.34zM3517.02 756.7h2.34v2.3h-2.34zM3528.72 756.7h4.68v2.3h-4.68zM3538.08 756.7h11.7v2.3h-11.7zM3554.46 756.7h2.34v2.3h-2.34zM3563.82 756.7h2.34v2.3h-2.34zM3575.52 756.7h2.34v2.3h-2.34zM3582.54 756.7h4.68v2.3h-4.68zM3589.56 756.7h4.68v2.3h-4.68zM3601.26 756.7h2.34v2.3h-2.34zM3608.28 756.7h4.68v2.3h-4.68zM3619.98 756.7h2.34v2.3h-2.34zM3624.66 756.7h2.34v2.3h-2.34zM3631.68 756.7h2.34v2.3h-2.34zM1317.42 759h2.34v2.3h-2.34zM1347.84 759h4.68v2.3h-4.68zM1359.54 759h4.68v2.3h-4.68zM1373.58 759h11.7v2.3h-11.7zM1387.62 759h2.34v2.3h-2.34zM1392.3 759h7.02v2.3h-7.02zM1401.66 759h23.4v2.3h-23.4zM1432.08 759h14.04v2.3h-14.04zM1448.46 759h7.02v2.3h-7.02zM1460.16 759h14.04v2.3h-14.04zM1478.88 759h11.7v2.3h-11.7zM1492.92 759h16.38v2.3h-16.38zM1511.64 759h4.68v2.3h-4.68zM1518.66 759h9.36v2.3h-9.36zM1532.7 759h2.34v2.3h-2.34zM1539.72 759h9.36v2.3h-9.36zM1551.42 759h2.34v2.3h-2.34zM1556.1 759h2.34v2.3h-2.34zM1560.78 759h2.34v2.3h-2.34zM1565.46 759h2.34v2.3h-2.34zM1572.48 759h2.34v2.3h-2.34zM1577.16 759h11.7v2.3h-11.7zM1591.2 759h4.68v2.3h-4.68zM1600.56 759h7.02v2.3h-7.02zM1612.26 759h4.68v2.3h-4.68zM1619.28 759h9.36v2.3h-9.36zM1638 759h2.34v2.3h-2.34zM1642.68 759h4.68v2.3h-4.68zM1654.38 759h4.68v2.3h-4.68zM1661.4 759h2.34v2.3h-2.34zM1799.46 759h2.34v2.3h-2.34zM2138.76 759h2.34v2.3h-2.34zM2215.98 759h11.7v2.3h-11.7zM2230.02 759h2.34v2.3h-2.34zM2234.7 759h14.04v2.3h-14.04zM2251.08 759h9.36v2.3h-9.36zM2262.78 759h28.08v2.3h-28.08zM2295.54 759h7.02v2.3h-7.02zM2309.58 759h14.04v2.3h-14.04zM2325.96 759h9.36v2.3h-9.36zM2337.66 759h2.34v2.3h-2.34zM2347.02 759h2.34v2.3h-2.34zM2351.7 759h4.68v2.3h-4.68zM2358.72 759h7.02v2.3h-7.02zM2368.08 759h2.34v2.3h-2.34zM2377.44 759h9.36v2.3h-9.36zM2391.48 759h7.02v2.3h-7.02zM2400.84 759h7.02v2.3h-7.02zM2410.2 759h25.74v2.3h-25.74zM2438.28 759h4.68v2.3h-4.68zM2445.3 759h2.34v2.3h-2.34zM2449.98 759h2.34v2.3h-2.34zM2454.66 759h2.34v2.3h-2.34zM2464.02 759h21.06v2.3h-21.06zM2487.42 759h2.34v2.3h-2.34zM2492.1 759h2.34v2.3h-2.34zM2496.78 759h2.34v2.3h-2.34zM2667.6 759h2.34v2.3h-2.34zM2674.62 759h4.68v2.3h-4.68zM2681.64 759h2.34v2.3h-2.34zM2691 759h11.7v2.3h-11.7zM2709.72 759h2.34v2.3h-2.34zM2714.4 759h2.34v2.3h-2.34zM2723.76 759h2.34v2.3h-2.34zM2749.5 759h9.36v2.3h-9.36zM2761.2 759h7.02v2.3h-7.02zM2770.56 759h2.34v2.3h-2.34zM2779.92 759h7.02v2.3h-7.02zM2796.3 759h18.72v2.3h-18.72zM2817.36 759h2.34v2.3h-2.34zM2822.04 759h2.34v2.3h-2.34zM2840.76 759h2.34v2.3h-2.34zM2845.44 759h2.34v2.3h-2.34zM2852.46 759h2.34v2.3h-2.34zM2861.82 759h4.68v2.3h-4.68zM2868.84 759h2.34v2.3h-2.34zM2878.2 759h7.02v2.3h-7.02zM2901.6 759h4.68v2.3h-4.68zM2910.96 759h2.34v2.3h-2.34zM2915.64 759h2.34v2.3h-2.34zM2920.32 759h2.34v2.3h-2.34zM2925 759h2.34v2.3h-2.34zM2932.02 759h2.34v2.3h-2.34zM2936.7 759h4.68v2.3h-4.68zM2950.74 759h9.36v2.3h-9.36zM2962.44 759h2.34v2.3h-2.34zM2967.12 759h4.68v2.3h-4.68zM2974.14 759h2.34v2.3h-2.34zM2978.82 759h4.68v2.3h-4.68zM2985.84 759h2.34v2.3h-2.34zM2990.52 759h7.02v2.3h-7.02zM2999.88 759h2.34v2.3h-2.34zM3004.56 759h7.02v2.3h-7.02zM3016.26 759h2.34v2.3h-2.34zM3020.94 759h2.34v2.3h-2.34zM3032.64 759h16.38v2.3h-16.38zM3056.04 759h2.34v2.3h-2.34zM3060.72 759h2.34v2.3h-2.34zM3074.76 759h9.36v2.3h-9.36zM3086.46 759h2.34v2.3h-2.34zM3091.14 759h2.34v2.3h-2.34zM3095.82 759h2.34v2.3h-2.34zM3105.18 759h4.68v2.3h-4.68zM3112.2 759h21.06v2.3h-21.06zM3135.6 759h4.68v2.3h-4.68zM3144.96 759h7.02v2.3h-7.02zM3154.32 759h2.34v2.3h-2.34zM3163.68 759h2.34v2.3h-2.34zM3173.04 759h7.02v2.3h-7.02zM3182.4 759h4.68v2.3h-4.68zM3189.42 759h11.7v2.3h-11.7zM3205.8 759h9.36v2.3h-9.36zM3217.5 759h7.02v2.3h-7.02zM3226.86 759h11.7v2.3h-11.7zM3243.24 759h7.02v2.3h-7.02zM3261.96 759h2.34v2.3h-2.34zM3266.64 759h11.7v2.3h-11.7zM3285.36 759h4.68v2.3h-4.68zM3292.38 759h7.02v2.3h-7.02zM3301.74 759h2.34v2.3h-2.34zM3306.42 759h7.02v2.3h-7.02zM3315.78 759h2.34v2.3h-2.34zM3320.46 759h7.02v2.3h-7.02zM3329.82 759h7.02v2.3h-7.02zM3339.18 759h2.34v2.3h-2.34zM3350.88 759h14.04v2.3h-14.04zM3374.28 759h2.34v2.3h-2.34zM3378.96 759h2.34v2.3h-2.34zM3383.64 759h2.34v2.3h-2.34zM3388.32 759h2.34v2.3h-2.34zM3393 759h2.34v2.3h-2.34zM3400.02 759h2.34v2.3h-2.34zM3409.38 759h2.34v2.3h-2.34zM3418.74 759h4.68v2.3h-4.68zM3428.1 759h14.04v2.3h-14.04zM3446.82 759h9.36v2.3h-9.36zM3458.52 759h9.36v2.3h-9.36zM3477.24 759h9.36v2.3h-9.36zM3488.94 759h4.68v2.3h-4.68zM3505.32 759h2.34v2.3h-2.34zM3512.34 759h2.34v2.3h-2.34zM3517.02 759h9.36v2.3h-9.36zM3531.06 759h11.7v2.3h-11.7zM3547.44 759h2.34v2.3h-2.34zM3552.12 759h9.36v2.3h-9.36zM3566.16 759h7.02v2.3h-7.02zM3575.52 759h2.34v2.3h-2.34zM3587.22 759h7.02v2.3h-7.02zM3603.6 759h18.72v2.3h-18.72zM3627 759h2.34v2.3h-2.34zM1415.7 761.3h2.34v2.3h-2.34zM1420.38 761.3h14.04v2.3h-14.04zM1436.76 761.3h4.68v2.3h-4.68zM1453.14 761.3h2.34v2.3h-2.34zM1457.82 761.3h2.34v2.3h-2.34zM1462.5 761.3h14.04v2.3h-14.04zM1481.22 761.3h7.02v2.3h-7.02zM1495.26 761.3h23.4v2.3h-23.4zM1521 761.3h2.34v2.3h-2.34zM1535.04 761.3h14.04v2.3h-14.04zM1551.42 761.3h14.04v2.3h-14.04zM1567.8 761.3h9.36v2.3h-9.36zM1579.5 761.3h14.04v2.3h-14.04zM1598.22 761.3h11.7v2.3h-11.7zM1614.6 761.3h2.34v2.3h-2.34zM1619.28 761.3h2.34v2.3h-2.34zM1635.66 761.3h7.02v2.3h-7.02zM1649.7 761.3h18.72v2.3h-18.72zM1673.1 761.3h2.34v2.3h-2.34zM1684.8 761.3h2.34v2.3h-2.34zM1689.48 761.3h2.34v2.3h-2.34zM1698.84 761.3h4.68v2.3h-4.68zM1705.86 761.3h2.34v2.3h-2.34zM1719.9 761.3h2.34v2.3h-2.34zM1733.94 761.3h2.34v2.3h-2.34zM1738.62 761.3h7.02v2.3h-7.02zM1747.98 761.3h2.34v2.3h-2.34zM1764.36 761.3h2.34v2.3h-2.34zM1888.38 761.3h2.34v2.3h-2.34zM1918.8 761.3h2.34v2.3h-2.34zM2066.22 761.3h2.34v2.3h-2.34zM2108.34 761.3h2.34v2.3h-2.34zM2164.5 761.3h2.34v2.3h-2.34zM2208.96 761.3h2.34v2.3h-2.34zM2213.64 761.3h7.02v2.3h-7.02zM2223 761.3h2.34v2.3h-2.34zM2232.36 761.3h4.68v2.3h-4.68zM2239.38 761.3h7.02v2.3h-7.02zM2251.08 761.3h14.04v2.3h-14.04zM2269.8 761.3h21.06v2.3h-21.06zM2295.54 761.3h7.02v2.3h-7.02zM2304.9 761.3h2.34v2.3h-2.34zM2309.58 761.3h14.04v2.3h-14.04zM2325.96 761.3h7.02v2.3h-7.02zM2337.66 761.3h9.36v2.3h-9.36zM2349.36 761.3h16.38v2.3h-16.38zM2368.08 761.3h4.68v2.3h-4.68zM2375.1 761.3h2.34v2.3h-2.34zM2379.78 761.3h9.36v2.3h-9.36zM2391.48 761.3h2.34v2.3h-2.34zM2400.84 761.3h7.02v2.3h-7.02zM2410.2 761.3h7.02v2.3h-7.02zM2419.56 761.3h23.4v2.3h-23.4zM2449.98 761.3h2.34v2.3h-2.34zM2459.34 761.3h11.7v2.3h-11.7zM2473.38 761.3h7.02v2.3h-7.02zM2485.08 761.3h4.68v2.3h-4.68zM2492.1 761.3h7.02v2.3h-7.02zM2515.5 761.3h2.34v2.3h-2.34zM2611.44 761.3h2.34v2.3h-2.34zM2630.16 761.3h2.34v2.3h-2.34zM2646.54 761.3h2.34v2.3h-2.34zM2665.26 761.3h2.34v2.3h-2.34zM2669.94 761.3h11.7v2.3h-11.7zM2693.34 761.3h7.02v2.3h-7.02zM2705.04 761.3h14.04v2.3h-14.04zM2723.76 761.3h2.34v2.3h-2.34zM2728.44 761.3h4.68v2.3h-4.68zM2737.8 761.3h2.34v2.3h-2.34zM2744.82 761.3h2.34v2.3h-2.34zM2749.5 761.3h16.38v2.3h-16.38zM2768.22 761.3h4.68v2.3h-4.68zM2775.24 761.3h2.34v2.3h-2.34zM2779.92 761.3h7.02v2.3h-7.02zM2789.28 761.3h18.72v2.3h-18.72zM2810.34 761.3h4.68v2.3h-4.68zM2822.04 761.3h9.36v2.3h-9.36zM2833.74 761.3h9.36v2.3h-9.36zM2850.12 761.3h9.36v2.3h-9.36zM2866.5 761.3h2.34v2.3h-2.34zM2873.52 761.3h2.34v2.3h-2.34zM2878.2 761.3h18.72v2.3h-18.72zM2899.26 761.3h9.36v2.3h-9.36zM2915.64 761.3h7.02v2.3h-7.02zM2927.34 761.3h9.36v2.3h-9.36zM2943.72 761.3h4.68v2.3h-4.68zM2950.74 761.3h2.34v2.3h-2.34zM2957.76 761.3h2.34v2.3h-2.34zM2962.44 761.3h2.34v2.3h-2.34zM2967.12 761.3h14.04v2.3h-14.04zM2983.5 761.3h32.76v2.3h-32.76zM3023.28 761.3h16.38v2.3h-16.38zM3044.34 761.3h2.34v2.3h-2.34zM3051.36 761.3h14.04v2.3h-14.04zM3074.76 761.3h9.36v2.3h-9.36zM3093.48 761.3h9.36v2.3h-9.36zM3107.52 761.3h7.02v2.3h-7.02zM3121.56 761.3h16.38v2.3h-16.38zM3140.28 761.3h2.34v2.3h-2.34zM3144.96 761.3h14.04v2.3h-14.04zM3163.68 761.3h4.68v2.3h-4.68zM3173.04 761.3h11.7v2.3h-11.7zM3187.08 761.3h21.06v2.3h-21.06zM3210.48 761.3h11.7v2.3h-11.7zM3229.2 761.3h4.68v2.3h-4.68zM3238.56 761.3h14.04v2.3h-14.04zM3259.62 761.3h2.34v2.3h-2.34zM3264.3 761.3h14.04v2.3h-14.04zM3283.02 761.3h23.4v2.3h-23.4zM3308.76 761.3h7.02v2.3h-7.02zM3318.12 761.3h14.04v2.3h-14.04zM3336.84 761.3h4.68v2.3h-4.68zM3343.86 761.3h2.34v2.3h-2.34zM3350.88 761.3h2.34v2.3h-2.34zM3355.56 761.3h2.34v2.3h-2.34zM3360.24 761.3h9.36v2.3h-9.36zM3371.94 761.3h7.02v2.3h-7.02zM3381.3 761.3h2.34v2.3h-2.34zM3388.32 761.3h2.34v2.3h-2.34zM3395.34 761.3h2.34v2.3h-2.34zM3400.02 761.3h2.34v2.3h-2.34zM3404.7 761.3h4.68v2.3h-4.68zM3411.72 761.3h16.38v2.3h-16.38zM3430.44 761.3h9.36v2.3h-9.36zM3446.82 761.3h4.68v2.3h-4.68zM3460.86 761.3h7.02v2.3h-7.02zM3470.22 761.3h23.4v2.3h-23.4zM3495.96 761.3h4.68v2.3h-4.68zM3510 761.3h11.7v2.3h-11.7zM3524.04 761.3h2.34v2.3h-2.34zM3528.72 761.3h9.36v2.3h-9.36zM3540.42 761.3h2.34v2.3h-2.34zM3547.44 761.3h14.04v2.3h-14.04zM3563.82 761.3h9.36v2.3h-9.36zM3575.52 761.3h2.34v2.3h-2.34zM3587.22 761.3h11.7v2.3h-11.7zM3601.26 761.3h16.38v2.3h-16.38zM3619.98 761.3h2.34v2.3h-2.34zM3627 761.3h2.34v2.3h-2.34zM3631.68 761.3h7.02v2.3h-7.02zM1422.72 763.6h2.34v2.3h-2.34zM1464.84 763.6h7.02v2.3h-7.02zM1483.56 763.6h9.36v2.3h-9.36zM1497.6 763.6h4.68v2.3h-4.68zM1506.96 763.6h9.36v2.3h-9.36zM1521 763.6h4.68v2.3h-4.68zM1530.36 763.6h2.34v2.3h-2.34zM1535.04 763.6h11.7v2.3h-11.7zM1549.08 763.6h9.36v2.3h-9.36zM1563.12 763.6h35.1v2.3h-35.1zM1600.56 763.6h18.72v2.3h-18.72zM1621.62 763.6h2.34v2.3h-2.34zM1635.66 763.6h11.7v2.3h-11.7zM1656.72 763.6h14.04v2.3h-14.04zM1675.44 763.6h2.34v2.3h-2.34zM1680.12 763.6h9.36v2.3h-9.36zM1691.82 763.6h2.34v2.3h-2.34zM1698.84 763.6h4.68v2.3h-4.68zM1705.86 763.6h2.34v2.3h-2.34zM1710.54 763.6h7.02v2.3h-7.02zM1722.24 763.6h4.68v2.3h-4.68zM1729.26 763.6h2.34v2.3h-2.34zM1733.94 763.6h2.34v2.3h-2.34zM1738.62 763.6h4.68v2.3h-4.68zM1752.66 763.6h4.68v2.3h-4.68zM1766.7 763.6h2.34v2.3h-2.34zM1771.38 763.6h4.68v2.3h-4.68zM1780.74 763.6h2.34v2.3h-2.34zM1794.78 763.6h9.36v2.3h-9.36zM1815.84 763.6h2.34v2.3h-2.34zM1822.86 763.6h7.02v2.3h-7.02zM1832.22 763.6h2.34v2.3h-2.34zM1839.24 763.6h4.68v2.3h-4.68zM1846.26 763.6h2.34v2.3h-2.34zM1864.98 763.6h7.02v2.3h-7.02zM1886.04 763.6h4.68v2.3h-4.68zM2017.08 763.6h2.34v2.3h-2.34zM2131.74 763.6h2.34v2.3h-2.34zM2204.28 763.6h2.34v2.3h-2.34zM2208.96 763.6h4.68v2.3h-4.68zM2218.32 763.6h7.02v2.3h-7.02zM2230.02 763.6h4.68v2.3h-4.68zM2237.04 763.6h11.7v2.3h-11.7zM2251.08 763.6h21.06v2.3h-21.06zM2274.48 763.6h7.02v2.3h-7.02zM2283.84 763.6h4.68v2.3h-4.68zM2293.2 763.6h9.36v2.3h-9.36zM2304.9 763.6h2.34v2.3h-2.34zM2309.58 763.6h30.42v2.3h-30.42zM2342.34 763.6h25.74v2.3h-25.74zM2372.76 763.6h21.06v2.3h-21.06zM2396.16 763.6h46.8v2.3h-46.8zM2452.32 763.6h2.34v2.3h-2.34zM2459.34 763.6h18.72v2.3h-18.72zM2480.4 763.6h16.38v2.3h-16.38zM2503.8 763.6h7.02v2.3h-7.02zM2515.5 763.6h4.68v2.3h-4.68zM2524.86 763.6h2.34v2.3h-2.34zM2545.92 763.6h2.34v2.3h-2.34zM2550.6 763.6h4.68v2.3h-4.68zM2571.66 763.6h2.34v2.3h-2.34zM2576.34 763.6h2.34v2.3h-2.34zM2581.02 763.6h2.34v2.3h-2.34zM2590.38 763.6h2.34v2.3h-2.34zM2604.42 763.6h7.02v2.3h-7.02zM2618.46 763.6h2.34v2.3h-2.34zM2625.48 763.6h4.68v2.3h-4.68zM2634.84 763.6h2.34v2.3h-2.34zM2639.52 763.6h11.7v2.3h-11.7zM2655.9 763.6h2.34v2.3h-2.34zM2660.58 763.6h2.34v2.3h-2.34zM2665.26 763.6h9.36v2.3h-9.36zM2688.66 763.6h25.74v2.3h-25.74zM2716.74 763.6h2.34v2.3h-2.34zM2726.1 763.6h2.34v2.3h-2.34zM2730.78 763.6h7.02v2.3h-7.02zM2740.14 763.6h2.34v2.3h-2.34zM2744.82 763.6h28.08v2.3h-28.08zM2775.24 763.6h2.34v2.3h-2.34zM2779.92 763.6h9.36v2.3h-9.36zM2791.62 763.6h16.38v2.3h-16.38zM2810.34 763.6h4.68v2.3h-4.68zM2824.38 763.6h4.68v2.3h-4.68zM2833.74 763.6h7.02v2.3h-7.02zM2847.78 763.6h7.02v2.3h-7.02zM2859.48 763.6h7.02v2.3h-7.02zM2871.18 763.6h2.34v2.3h-2.34zM2875.86 763.6h11.7v2.3h-11.7zM2889.9 763.6h2.34v2.3h-2.34zM2894.58 763.6h16.38v2.3h-16.38zM2917.98 763.6h4.68v2.3h-4.68zM2927.34 763.6h7.02v2.3h-7.02zM2939.04 763.6h9.36v2.3h-9.36zM2953.08 763.6h9.36v2.3h-9.36zM2969.46 763.6h44.46v2.3h-44.46zM3016.26 763.6h11.7v2.3h-11.7zM3030.3 763.6h11.7v2.3h-11.7zM3046.68 763.6h25.74v2.3h-25.74zM3074.76 763.6h7.02v2.3h-7.02zM3084.12 763.6h4.68v2.3h-4.68zM3095.82 763.6h11.7v2.3h-11.7zM3109.86 763.6h28.08v2.3h-28.08zM3142.62 763.6h16.38v2.3h-16.38zM3161.34 763.6h2.34v2.3h-2.34zM3166.02 763.6h4.68v2.3h-4.68zM3173.04 763.6h16.38v2.3h-16.38zM3191.76 763.6h30.42v2.3h-30.42zM3226.86 763.6h2.34v2.3h-2.34zM3233.88 763.6h2.34v2.3h-2.34zM3240.9 763.6h18.72v2.3h-18.72zM3264.3 763.6h14.04v2.3h-14.04zM3280.68 763.6h32.76v2.3h-32.76zM3318.12 763.6h14.04v2.3h-14.04zM3334.5 763.6h2.34v2.3h-2.34zM3343.86 763.6h21.06v2.3h-21.06zM3367.26 763.6h4.68v2.3h-4.68zM3374.28 763.6h4.68v2.3h-4.68zM3381.3 763.6h2.34v2.3h-2.34zM3385.98 763.6h7.02v2.3h-7.02zM3397.68 763.6h42.12v2.3h-42.12zM3446.82 763.6h23.4v2.3h-23.4zM3472.56 763.6h16.38v2.3h-16.38zM3491.28 763.6h16.38v2.3h-16.38zM3510 763.6h9.36v2.3h-9.36zM3521.7 763.6h2.34v2.3h-2.34zM3526.38 763.6h14.04v2.3h-14.04zM3542.76 763.6h18.72v2.3h-18.72zM3566.16 763.6h18.72v2.3h-18.72zM3587.22 763.6h11.7v2.3h-11.7zM3601.26 763.6h18.72v2.3h-18.72zM3622.32 763.6h2.34v2.3h-2.34zM3627 763.6h2.34v2.3h-2.34zM3636.36 763.6h2.34v2.3h-2.34zM1511.64 765.9h2.34v2.3h-2.34zM1530.36 765.9h2.34v2.3h-2.34zM1537.38 765.9h2.34v2.3h-2.34zM1553.76 765.9h16.38v2.3h-16.38zM1574.82 765.9h16.38v2.3h-16.38zM1598.22 765.9h2.34v2.3h-2.34zM1602.9 765.9h4.68v2.3h-4.68zM1609.92 765.9h2.34v2.3h-2.34zM1614.6 765.9h2.34v2.3h-2.34zM1619.28 765.9h30.42v2.3h-30.42zM1654.38 765.9h4.68v2.3h-4.68zM1661.4 765.9h2.34v2.3h-2.34zM1666.08 765.9h2.34v2.3h-2.34zM1670.76 765.9h9.36v2.3h-9.36zM1684.8 765.9h4.68v2.3h-4.68zM1691.82 765.9h2.34v2.3h-2.34zM1696.5 765.9h4.68v2.3h-4.68zM1703.52 765.9h2.34v2.3h-2.34zM1710.54 765.9h9.36v2.3h-9.36zM1724.58 765.9h9.36v2.3h-9.36zM1736.28 765.9h7.02v2.3h-7.02zM1745.64 765.9h2.34v2.3h-2.34zM1757.34 765.9h16.38v2.3h-16.38zM1776.06 765.9h2.34v2.3h-2.34zM1780.74 765.9h2.34v2.3h-2.34zM1787.76 765.9h4.68v2.3h-4.68zM1794.78 765.9h4.68v2.3h-4.68zM1811.16 765.9h4.68v2.3h-4.68zM1818.18 765.9h2.34v2.3h-2.34zM1822.86 765.9h2.34v2.3h-2.34zM1827.54 765.9h2.34v2.3h-2.34zM1832.22 765.9h7.02v2.3h-7.02zM1843.92 765.9h2.34v2.3h-2.34zM1848.6 765.9h4.68v2.3h-4.68zM1855.62 765.9h4.68v2.3h-4.68zM1862.64 765.9h2.34v2.3h-2.34zM1869.66 765.9h9.36v2.3h-9.36zM1881.36 765.9h7.02v2.3h-7.02zM1890.72 765.9h2.34v2.3h-2.34zM1942.2 765.9h2.34v2.3h-2.34zM1956.24 765.9h2.34v2.3h-2.34zM1998.36 765.9h2.34v2.3h-2.34zM2117.7 765.9h2.34v2.3h-2.34zM2127.06 765.9h2.34v2.3h-2.34zM2134.08 765.9h2.34v2.3h-2.34zM2211.3 765.9h4.68v2.3h-4.68zM2218.32 765.9h4.68v2.3h-4.68zM2225.34 765.9h35.1v2.3h-35.1zM2267.46 765.9h16.38v2.3h-16.38zM2286.18 765.9h23.4v2.3h-23.4zM2311.92 765.9h2.34v2.3h-2.34zM2316.6 765.9h9.36v2.3h-9.36zM2328.3 765.9h9.36v2.3h-9.36zM2340 765.9h2.34v2.3h-2.34zM2344.68 765.9h18.72v2.3h-18.72zM2365.74 765.9h11.7v2.3h-11.7zM2382.12 765.9h25.74v2.3h-25.74zM2414.88 765.9h35.1v2.3h-35.1zM2454.66 765.9h2.34v2.3h-2.34zM2459.34 765.9h39.78v2.3h-39.78zM2503.8 765.9h2.34v2.3h-2.34zM2508.48 765.9h2.34v2.3h-2.34zM2513.16 765.9h2.34v2.3h-2.34zM2517.84 765.9h2.34v2.3h-2.34zM2522.52 765.9h7.02v2.3h-7.02zM2531.88 765.9h4.68v2.3h-4.68zM2541.24 765.9h7.02v2.3h-7.02zM2550.6 765.9h14.04v2.3h-14.04zM2566.98 765.9h16.38v2.3h-16.38zM2585.7 765.9h4.68v2.3h-4.68zM2592.72 765.9h7.02v2.3h-7.02zM2602.08 765.9h4.68v2.3h-4.68zM2609.1 765.9h2.34v2.3h-2.34zM2613.78 765.9h2.34v2.3h-2.34zM2618.46 765.9h2.34v2.3h-2.34zM2623.14 765.9h16.38v2.3h-16.38zM2641.86 765.9h4.68v2.3h-4.68zM2651.22 765.9h16.38v2.3h-16.38zM2674.62 765.9h7.02v2.3h-7.02zM2691 765.9h2.34v2.3h-2.34zM2707.38 765.9h60.84v2.3h-60.84zM2772.9 765.9h2.34v2.3h-2.34zM2777.58 765.9h9.36v2.3h-9.36zM2789.28 765.9h4.68v2.3h-4.68zM2796.3 765.9h32.76v2.3h-32.76zM2833.74 765.9h16.38v2.3h-16.38zM2852.46 765.9h39.78v2.3h-39.78zM2896.92 765.9h9.36v2.3h-9.36zM2908.62 765.9h2.34v2.3h-2.34zM2913.3 765.9h4.68v2.3h-4.68zM2920.32 765.9h79.56v2.3h-79.56zM3011.58 765.9h14.04v2.3h-14.04zM3030.3 765.9h9.36v2.3h-9.36zM3042 765.9h9.36v2.3h-9.36zM3053.7 765.9h14.04v2.3h-14.04zM3070.08 765.9h7.02v2.3h-7.02zM3079.44 765.9h2.34v2.3h-2.34zM3084.12 765.9h7.02v2.3h-7.02zM3093.48 765.9h2.34v2.3h-2.34zM3098.16 765.9h14.04v2.3h-14.04zM3114.54 765.9h56.16v2.3h-56.16zM3173.04 765.9h14.04v2.3h-14.04zM3194.1 765.9h63.18v2.3h-63.18zM3259.62 765.9h23.4v2.3h-23.4zM3285.36 765.9h35.1v2.3h-35.1zM3322.8 765.9h21.06v2.3h-21.06zM3348.54 765.9h65.52v2.3h-65.52zM3416.4 765.9h18.72v2.3h-18.72zM3437.46 765.9h4.68v2.3h-4.68zM3444.48 765.9h7.02v2.3h-7.02zM3453.84 765.9h14.04v2.3h-14.04zM3470.22 765.9h21.06v2.3h-21.06zM3493.62 765.9h2.34v2.3h-2.34zM3500.64 765.9h2.34v2.3h-2.34zM3507.66 765.9h11.7v2.3h-11.7zM3524.04 765.9h11.7v2.3h-11.7zM3538.08 765.9h44.46v2.3h-44.46zM3584.88 765.9h18.72v2.3h-18.72zM3610.62 765.9h9.36v2.3h-9.36zM3622.32 765.9h16.38v2.3h-16.38zM1560.78 768.2h2.34v2.3h-2.34zM1598.22 768.2h2.34v2.3h-2.34zM1612.26 768.2h4.68v2.3h-4.68zM1619.28 768.2h18.72v2.3h-18.72zM1640.34 768.2h9.36v2.3h-9.36zM1656.72 768.2h23.4v2.3h-23.4zM1682.46 768.2h2.34v2.3h-2.34zM1687.14 768.2h25.74v2.3h-25.74zM1719.9 768.2h23.4v2.3h-23.4zM1745.64 768.2h4.68v2.3h-4.68zM1752.66 768.2h2.34v2.3h-2.34zM1757.34 768.2h2.34v2.3h-2.34zM1762.02 768.2h14.04v2.3h-14.04zM1778.4 768.2h9.36v2.3h-9.36zM1792.44 768.2h7.02v2.3h-7.02zM1804.14 768.2h2.34v2.3h-2.34zM1811.16 768.2h14.04v2.3h-14.04zM1829.88 768.2h9.36v2.3h-9.36zM1841.58 768.2h4.68v2.3h-4.68zM1850.94 768.2h37.44v2.3h-37.44zM1904.76 768.2h2.34v2.3h-2.34zM1925.82 768.2h2.34v2.3h-2.34zM1942.2 768.2h2.34v2.3h-2.34zM2031.12 768.2h2.34v2.3h-2.34zM2199.6 768.2h4.68v2.3h-4.68zM2208.96 768.2h44.46v2.3h-44.46zM2255.76 768.2h2.34v2.3h-2.34zM2260.44 768.2h37.44v2.3h-37.44zM2300.22 768.2h7.02v2.3h-7.02zM2314.26 768.2h9.36v2.3h-9.36zM2328.3 768.2h30.42v2.3h-30.42zM2361.06 768.2h14.04v2.3h-14.04zM2377.44 768.2h30.42v2.3h-30.42zM2412.54 768.2h4.68v2.3h-4.68zM2421.9 768.2h30.42v2.3h-30.42zM2459.34 768.2h35.1v2.3h-35.1zM2496.78 768.2h14.04v2.3h-14.04zM2513.16 768.2h7.02v2.3h-7.02zM2522.52 768.2h2.34v2.3h-2.34zM2527.2 768.2h2.34v2.3h-2.34zM2534.22 768.2h2.34v2.3h-2.34zM2541.24 768.2h11.7v2.3h-11.7zM2555.28 768.2h9.36v2.3h-9.36zM2566.98 768.2h16.38v2.3h-16.38zM2592.72 768.2h7.02v2.3h-7.02zM2602.08 768.2h14.04v2.3h-14.04zM2618.46 768.2h30.42v2.3h-30.42zM2653.56 768.2h14.04v2.3h-14.04zM2674.62 768.2h23.4v2.3h-23.4zM2702.7 768.2h2.34v2.3h-2.34zM2709.72 768.2h9.36v2.3h-9.36zM2723.76 768.2h44.46v2.3h-44.46zM2770.56 768.2h16.38v2.3h-16.38zM2789.28 768.2h4.68v2.3h-4.68zM2796.3 768.2h14.04v2.3h-14.04zM2812.68 768.2h16.38v2.3h-16.38zM2831.4 768.2h4.68v2.3h-4.68zM2840.76 768.2h11.7v2.3h-11.7zM2854.8 768.2h42.12v2.3h-42.12zM2899.26 768.2h105.3v2.3h-105.3zM3009.24 768.2h21.06v2.3h-21.06zM3032.64 768.2h9.36v2.3h-9.36zM3046.68 768.2h21.06v2.3h-21.06zM3070.08 768.2h4.68v2.3h-4.68zM3077.1 768.2h21.06v2.3h-21.06zM3102.84 768.2h35.1v2.3h-35.1zM3140.28 768.2h2.34v2.3h-2.34zM3144.96 768.2h42.12v2.3h-42.12zM3189.42 768.2h67.86v2.3h-67.86zM3261.96 768.2h44.46v2.3h-44.46zM3308.76 768.2h11.7v2.3h-11.7zM3322.8 768.2h9.36v2.3h-9.36zM3334.5 768.2h9.36v2.3h-9.36zM3348.54 768.2h21.06v2.3h-21.06zM3371.94 768.2h63.18v2.3h-63.18zM3437.46 768.2h11.7v2.3h-11.7zM3453.84 768.2h21.06v2.3h-21.06zM3477.24 768.2h2.34v2.3h-2.34zM3481.92 768.2h14.04v2.3h-14.04zM3500.64 768.2h2.34v2.3h-2.34zM3505.32 768.2h14.04v2.3h-14.04zM3521.7 768.2h58.5v2.3h-58.5zM3582.54 768.2h28.08v2.3h-28.08zM3612.96 768.2h25.74v2.3h-25.74zM1628.64 770.5h2.34v2.3h-2.34zM1661.4 770.5h4.68v2.3h-4.68zM1675.44 770.5h2.34v2.3h-2.34zM1689.48 770.5h2.34v2.3h-2.34zM1769.04 770.5h4.68v2.3h-4.68zM1776.06 770.5h14.04v2.3h-14.04zM1792.44 770.5h9.36v2.3h-9.36zM1811.16 770.5h16.38v2.3h-16.38zM1829.88 770.5h16.38v2.3h-16.38zM1848.6 770.5h39.78v2.3h-39.78zM1890.72 770.5h2.34v2.3h-2.34zM1925.82 770.5h2.34v2.3h-2.34zM2068.56 770.5h2.34v2.3h-2.34zM2117.7 770.5h2.34v2.3h-2.34zM2143.44 770.5h2.34v2.3h-2.34zM2197.26 770.5h49.14v2.3h-49.14zM2248.74 770.5h4.68v2.3h-4.68zM2258.1 770.5h2.34v2.3h-2.34zM2267.46 770.5h42.12v2.3h-42.12zM2316.6 770.5h9.36v2.3h-9.36zM2328.3 770.5h11.7v2.3h-11.7zM2342.34 770.5h14.04v2.3h-14.04zM2358.72 770.5h4.68v2.3h-4.68zM2365.74 770.5h46.8v2.3h-46.8zM2417.22 770.5h42.12v2.3h-42.12zM2464.02 770.5h9.36v2.3h-9.36zM2475.72 770.5h18.72v2.3h-18.72zM2496.78 770.5h23.4v2.3h-23.4zM2522.52 770.5h4.68v2.3h-4.68zM2529.54 770.5h56.16v2.3h-56.16zM2588.04 770.5h63.18v2.3h-63.18zM2653.56 770.5h16.38v2.3h-16.38zM2672.28 770.5h9.36v2.3h-9.36zM2683.98 770.5h11.7v2.3h-11.7zM2698.02 770.5h2.34v2.3h-2.34zM2707.38 770.5h91.26v2.3h-91.26zM2800.98 770.5h9.36v2.3h-9.36zM2812.68 770.5h18.72v2.3h-18.72zM2833.74 770.5h166.14v2.3h-166.14zM3002.22 770.5h7.02v2.3h-7.02zM3011.58 770.5h14.04v2.3h-14.04zM3027.96 770.5h18.72v2.3h-18.72zM3049.02 770.5h2.34v2.3h-2.34zM3053.7 770.5h14.04v2.3h-14.04zM3070.08 770.5h7.02v2.3h-7.02zM3079.44 770.5h18.72v2.3h-18.72zM3102.84 770.5h65.52v2.3h-65.52zM3173.04 770.5h9.36v2.3h-9.36zM3184.74 770.5h4.68v2.3h-4.68zM3191.76 770.5h9.36v2.3h-9.36zM3203.46 770.5h9.36v2.3h-9.36zM3215.16 770.5h7.02v2.3h-7.02zM3224.52 770.5h4.68v2.3h-4.68zM3231.54 770.5h7.02v2.3h-7.02zM3240.9 770.5h2.34v2.3h-2.34zM3245.58 770.5h49.14v2.3h-49.14zM3297.06 770.5h4.68v2.3h-4.68zM3304.08 770.5h25.74v2.3h-25.74zM3332.16 770.5h9.36v2.3h-9.36zM3348.54 770.5h16.38v2.3h-16.38zM3369.6 770.5h2.34v2.3h-2.34zM3374.28 770.5h2.34v2.3h-2.34zM3378.96 770.5h11.7v2.3h-11.7zM3393 770.5h11.7v2.3h-11.7zM3407.04 770.5h4.68v2.3h-4.68zM3416.4 770.5h9.36v2.3h-9.36zM3428.1 770.5h9.36v2.3h-9.36zM3439.8 770.5h2.34v2.3h-2.34zM3446.82 770.5h7.02v2.3h-7.02zM3456.18 770.5h4.68v2.3h-4.68zM3465.54 770.5h9.36v2.3h-9.36zM3477.24 770.5h2.34v2.3h-2.34zM3484.26 770.5h4.68v2.3h-4.68zM3510 770.5h4.68v2.3h-4.68zM3521.7 770.5h23.4v2.3h-23.4zM3547.44 770.5h2.34v2.3h-2.34zM3561.48 770.5h4.68v2.3h-4.68zM3568.5 770.5h2.34v2.3h-2.34zM3573.18 770.5h2.34v2.3h-2.34zM3582.54 770.5h2.34v2.3h-2.34zM3591.9 770.5h7.02v2.3h-7.02zM3608.28 770.5h4.68v2.3h-4.68zM3617.64 770.5h2.34v2.3h-2.34zM3622.32 770.5h2.34v2.3h-2.34zM3634.02 770.5h2.34v2.3h-2.34zM1804.14 772.8h2.34v2.3h-2.34zM1813.5 772.8h2.34v2.3h-2.34zM1818.18 772.8h2.34v2.3h-2.34zM1822.86 772.8h2.34v2.3h-2.34zM1843.92 772.8h2.34v2.3h-2.34zM1848.6 772.8h4.68v2.3h-4.68zM1860.3 772.8h14.04v2.3h-14.04zM1881.36 772.8h2.34v2.3h-2.34zM1888.38 772.8h7.02v2.3h-7.02zM1932.84 772.8h2.34v2.3h-2.34zM2103.66 772.8h2.34v2.3h-2.34zM2134.08 772.8h2.34v2.3h-2.34zM2152.8 772.8h2.34v2.3h-2.34zM2190.24 772.8h2.34v2.3h-2.34zM2194.92 772.8h11.7v2.3h-11.7zM2208.96 772.8h7.02v2.3h-7.02zM2302.56 772.8h2.34v2.3h-2.34zM2307.24 772.8h14.04v2.3h-14.04zM2330.64 772.8h7.02v2.3h-7.02zM2365.74 772.8h2.34v2.3h-2.34zM2372.76 772.8h2.34v2.3h-2.34zM2377.44 772.8h2.34v2.3h-2.34zM2398.5 772.8h4.68v2.3h-4.68zM2405.52 772.8h4.68v2.3h-4.68zM2412.54 772.8h9.36v2.3h-9.36zM2435.94 772.8h2.34v2.3h-2.34zM2442.96 772.8h2.34v2.3h-2.34zM2449.98 772.8h2.34v2.3h-2.34zM2454.66 772.8h2.34v2.3h-2.34zM2459.34 772.8h21.06v2.3h-21.06zM2492.1 772.8h2.34v2.3h-2.34zM2496.78 772.8h2.34v2.3h-2.34zM2506.14 772.8h7.02v2.3h-7.02zM2515.5 772.8h2.34v2.3h-2.34zM2522.52 772.8h2.34v2.3h-2.34zM2543.58 772.8h2.34v2.3h-2.34zM2548.26 772.8h4.68v2.3h-4.68zM2562.3 772.8h2.34v2.3h-2.34zM2571.66 772.8h2.34v2.3h-2.34zM2576.34 772.8h4.68v2.3h-4.68zM2583.36 772.8h9.36v2.3h-9.36zM2595.06 772.8h4.68v2.3h-4.68zM2606.76 772.8h2.34v2.3h-2.34zM2623.14 772.8h7.02v2.3h-7.02zM2646.54 772.8h2.34v2.3h-2.34zM2651.22 772.8h4.68v2.3h-4.68zM2660.58 772.8h2.34v2.3h-2.34zM2669.94 772.8h2.34v2.3h-2.34zM2686.32 772.8h4.68v2.3h-4.68zM2707.38 772.8h2.34v2.3h-2.34zM2744.82 772.8h4.68v2.3h-4.68zM2758.86 772.8h2.34v2.3h-2.34zM2765.88 772.8h4.68v2.3h-4.68zM2782.26 772.8h14.04v2.3h-14.04zM2798.64 772.8h2.34v2.3h-2.34zM2812.68 772.8h2.34v2.3h-2.34zM2819.7 772.8h2.34v2.3h-2.34zM2838.42 772.8h2.34v2.3h-2.34zM2857.14 772.8h7.02v2.3h-7.02zM2892.24 772.8h9.36v2.3h-9.36zM2910.96 772.8h4.68v2.3h-4.68zM2946.06 772.8h2.34v2.3h-2.34zM2962.44 772.8h2.34v2.3h-2.34zM2988.18 772.8h2.34v2.3h-2.34zM2997.54 772.8h2.34v2.3h-2.34zM3025.62 772.8h14.04v2.3h-14.04zM3072.42 772.8h2.34v2.3h-2.34zM3088.8 772.8h2.34v2.3h-2.34zM3107.52 772.8h2.34v2.3h-2.34zM3137.94 772.8h2.34v2.3h-2.34zM3280.68 772.8h4.68v2.3h-4.68zM3315.78 772.8h2.34v2.3h-2.34zM3334.5 772.8h7.02v2.3h-7.02zM3355.56 772.8h2.34v2.3h-2.34zM3423.42 772.8h2.34v2.3h-2.34zM3446.82 772.8h2.34v2.3h-2.34zM1857.96 775.1h2.34v2.3h-2.34zM1862.64 775.1h2.34v2.3h-2.34zM1893.06 775.1h2.34v2.3h-2.34zM1897.74 775.1h2.34v2.3h-2.34zM1923.48 775.1h2.34v2.3h-2.34zM1951.56 775.1h2.34v2.3h-2.34zM1958.58 775.1h2.34v2.3h-2.34zM2049.84 775.1h2.34v2.3h-2.34zM2054.52 775.1h2.34v2.3h-2.34zM2059.2 775.1h2.34v2.3h-2.34zM2070.9 775.1h11.7v2.3h-11.7zM2089.62 775.1h2.34v2.3h-2.34zM2098.98 775.1h2.34v2.3h-2.34zM2106 775.1h2.34v2.3h-2.34zM2113.02 775.1h4.68v2.3h-4.68zM2124.72 775.1h2.34v2.3h-2.34zM2136.42 775.1h11.7v2.3h-11.7zM2155.14 775.1h11.7v2.3h-11.7zM2173.86 775.1h2.34v2.3h-2.34zM2180.88 775.1h2.34v2.3h-2.34zM2185.56 775.1h2.34v2.3h-2.34zM2192.58 775.1h14.04v2.3h-14.04zM2330.64 775.1h2.34v2.3h-2.34zM2468.7 775.1h2.34v2.3h-2.34zM2475.72 775.1h2.34v2.3h-2.34zM2784.6 775.1h11.7v2.3h-11.7zM3088.8 775.1h2.34v2.3h-2.34zM1893.06 777.4h2.34v2.3h-2.34zM1902.42 777.4h2.34v2.3h-2.34zM1907.1 777.4h4.68v2.3h-4.68zM1918.8 777.4h2.34v2.3h-2.34zM1930.5 777.4h4.68v2.3h-4.68zM1939.86 777.4h2.34v2.3h-2.34zM1953.9 777.4h2.34v2.3h-2.34zM2005.38 777.4h2.34v2.3h-2.34zM2049.84 777.4h2.34v2.3h-2.34zM2054.52 777.4h4.68v2.3h-4.68zM2066.22 777.4h4.68v2.3h-4.68zM2073.24 777.4h7.02v2.3h-7.02zM2082.6 777.4h2.34v2.3h-2.34zM2089.62 777.4h2.34v2.3h-2.34zM2098.98 777.4h11.7v2.3h-11.7zM2113.02 777.4h2.34v2.3h-2.34zM2120.04 777.4h2.34v2.3h-2.34zM2124.72 777.4h4.68v2.3h-4.68zM2131.74 777.4h9.36v2.3h-9.36zM2143.44 777.4h2.34v2.3h-2.34zM2150.46 777.4h2.34v2.3h-2.34zM2155.14 777.4h4.68v2.3h-4.68zM2162.16 777.4h7.02v2.3h-7.02zM2173.86 777.4h9.36v2.3h-9.36zM2187.9 777.4h7.02v2.3h-7.02zM1895.4 779.7h4.68v2.3h-4.68zM1902.42 779.7h2.34v2.3h-2.34zM1911.78 779.7h2.34v2.3h-2.34zM1930.5 779.7h2.34v2.3h-2.34zM1935.18 779.7h2.34v2.3h-2.34zM1939.86 779.7h2.34v2.3h-2.34zM1963.26 779.7h2.34v2.3h-2.34zM1981.98 779.7h7.02v2.3h-7.02zM1996.02 779.7h2.34v2.3h-2.34zM2000.7 779.7h4.68v2.3h-4.68zM2014.74 779.7h2.34v2.3h-2.34zM2031.12 779.7h2.34v2.3h-2.34zM2047.5 779.7h9.36v2.3h-9.36zM2061.54 779.7h2.34v2.3h-2.34zM2066.22 779.7h2.34v2.3h-2.34zM2073.24 779.7h7.02v2.3h-7.02zM2082.6 779.7h32.76v2.3h-32.76zM2117.7 779.7h16.38v2.3h-16.38zM2138.76 779.7h4.68v2.3h-4.68zM2145.78 779.7h4.68v2.3h-4.68zM2152.8 779.7h4.68v2.3h-4.68zM2162.16 779.7h25.74v2.3h-25.74zM2190.24 779.7h2.34v2.3h-2.34zM1895.4 782h9.36v2.3h-9.36zM1907.1 782h2.34v2.3h-2.34zM1911.78 782h4.68v2.3h-4.68zM1923.48 782h4.68v2.3h-4.68zM1932.84 782h2.34v2.3h-2.34zM1939.86 782h2.34v2.3h-2.34zM1946.88 782h2.34v2.3h-2.34zM1951.56 782h7.02v2.3h-7.02zM1960.92 782h2.34v2.3h-2.34zM1967.94 782h2.34v2.3h-2.34zM1972.62 782h2.34v2.3h-2.34zM1979.64 782h2.34v2.3h-2.34zM1986.66 782h2.34v2.3h-2.34zM1993.68 782h7.02v2.3h-7.02zM2003.04 782h4.68v2.3h-4.68zM2019.42 782h7.02v2.3h-7.02zM2028.78 782h2.34v2.3h-2.34zM2033.46 782h2.34v2.3h-2.34zM2038.14 782h2.34v2.3h-2.34zM2049.84 782h18.72v2.3h-18.72zM2070.9 782h4.68v2.3h-4.68zM2077.92 782h2.34v2.3h-2.34zM2084.94 782h28.08v2.3h-28.08zM2115.36 782h2.34v2.3h-2.34zM2120.04 782h14.04v2.3h-14.04zM2136.42 782h14.04v2.3h-14.04zM2152.8 782h4.68v2.3h-4.68zM2162.16 782h21.06v2.3h-21.06zM1897.74 784.3h2.34v2.3h-2.34zM1902.42 784.3h14.04v2.3h-14.04zM1921.14 784.3h2.34v2.3h-2.34zM1925.82 784.3h11.7v2.3h-11.7zM1949.22 784.3h2.34v2.3h-2.34zM1960.92 784.3h9.36v2.3h-9.36zM1972.62 784.3h2.34v2.3h-2.34zM1977.3 784.3h16.38v2.3h-16.38zM2000.7 784.3h7.02v2.3h-7.02zM2014.74 784.3h4.68v2.3h-4.68zM2026.44 784.3h11.7v2.3h-11.7zM2045.16 784.3h9.36v2.3h-9.36zM2056.86 784.3h2.34v2.3h-2.34zM2061.54 784.3h7.02v2.3h-7.02zM2070.9 784.3h2.34v2.3h-2.34zM2082.6 784.3h4.68v2.3h-4.68zM2091.96 784.3h2.34v2.3h-2.34zM2096.64 784.3h2.34v2.3h-2.34zM2106 784.3h9.36v2.3h-9.36zM2134.08 784.3h7.02v2.3h-7.02zM2148.12 784.3h2.34v2.3h-2.34zM2166.84 784.3h2.34v2.3h-2.34zM2173.86 784.3h2.34v2.3h-2.34zM2180.88 784.3h2.34v2.3h-2.34zM1897.74 786.6h2.34v2.3h-2.34zM1902.42 786.6h42.12v2.3h-42.12zM1946.88 786.6h7.02v2.3h-7.02zM1956.24 786.6h2.34v2.3h-2.34zM1960.92 786.6h2.34v2.3h-2.34zM1967.94 786.6h2.34v2.3h-2.34zM1972.62 786.6h11.7v2.3h-11.7zM1986.66 786.6h4.68v2.3h-4.68zM1993.68 786.6h7.02v2.3h-7.02zM2007.72 786.6h7.02v2.3h-7.02zM2017.08 786.6h4.68v2.3h-4.68zM2024.1 786.6h7.02v2.3h-7.02zM2047.5 786.6h2.34v2.3h-2.34zM2108.34 786.6h4.68v2.3h-4.68zM1900.08 788.9h14.04v2.3h-14.04zM1916.46 788.9h35.1v2.3h-35.1zM1953.9 788.9h4.68v2.3h-4.68zM1960.92 788.9h4.68v2.3h-4.68zM1967.94 788.9h32.76v2.3h-32.76zM2007.72 788.9h21.06v2.3h-21.06zM2033.46 788.9h4.68v2.3h-4.68zM2045.16 788.9h2.34v2.3h-2.34zM1902.42 791.2h18.72v2.3h-18.72zM1928.16 791.2h4.68v2.3h-4.68zM1935.18 791.2h9.36v2.3h-9.36zM1951.56 791.2h4.68v2.3h-4.68zM1960.92 791.2h9.36v2.3h-9.36zM1972.62 791.2h58.5v2.3h-58.5zM2040.48 791.2h4.68v2.3h-4.68zM1939.86 793.5h2.34v2.3h-2.34zM1949.22 793.5h2.34v2.3h-2.34zM1960.92 793.5h2.34v2.3h-2.34zM1965.6 793.5h2.34v2.3h-2.34zM1989 793.5h2.34v2.3h-2.34zM2000.7 793.5h2.34v2.3h-2.34zM2010.06 793.5h2.34v2.3h-2.34zM2038.14 793.5h4.68v2.3h-4.68zM1965.6 795.8h2.34v2.3h-2.34z"/>
<path fill="#fff" d="M273.78 742.9h2.34v2.3h-2.34zM280.8 742.9h2.34v2.3h-2.34zM285.48 742.9h2.34v2.3h-2.34zM313.56 742.9h2.34v2.3h-2.34zM327.6 742.9h2.34v2.3h-2.34zM386.1 742.9h2.34v2.3h-2.34zM430.56 742.9h4.68v2.3h-4.68zM442.26 742.9h2.34v2.3h-2.34zM463.32 742.9h2.34v2.3h-2.34zM514.8 742.9h2.34v2.3h-2.34zM545.22 742.9h2.34v2.3h-2.34zM549.9 742.9h2.34v2.3h-2.34zM589.68 742.9h2.34v2.3h-2.34zM620.1 742.9h2.34v2.3h-2.34zM624.78 742.9h2.34v2.3h-2.34zM634.14 742.9h4.68v2.3h-4.68zM650.52 742.9h2.34v2.3h-2.34zM659.88 742.9h4.68v2.3h-4.68zM702 742.9h4.68v2.3h-4.68zM713.7 742.9h2.34v2.3h-2.34zM718.38 742.9h2.34v2.3h-2.34zM727.74 742.9h2.34v2.3h-2.34zM774.54 742.9h2.34v2.3h-2.34zM793.26 742.9h2.34v2.3h-2.34zM292.5 745.2h2.34v2.3h-2.34zM348.66 745.2h2.34v2.3h-2.34zM367.38 745.2h2.34v2.3h-2.34zM393.12 745.2h2.34v2.3h-2.34zM421.2 745.2h2.34v2.3h-2.34zM428.22 745.2h2.34v2.3h-2.34zM446.94 745.2h2.34v2.3h-2.34zM460.98 745.2h7.02v2.3h-7.02zM477.36 745.2h4.68v2.3h-4.68zM542.88 745.2h2.34v2.3h-2.34zM610.74 745.2h2.34v2.3h-2.34zM617.76 745.2h2.34v2.3h-2.34zM624.78 745.2h2.34v2.3h-2.34zM638.82 745.2h4.68v2.3h-4.68zM650.52 745.2h2.34v2.3h-2.34zM655.2 745.2h2.34v2.3h-2.34zM694.98 745.2h2.34v2.3h-2.34zM734.76 745.2h2.34v2.3h-2.34zM753.48 745.2h2.34v2.3h-2.34zM765.18 745.2h2.34v2.3h-2.34zM774.54 745.2h2.34v2.3h-2.34zM833.04 745.2h4.68v2.3h-4.68zM847.08 745.2h2.34v2.3h-2.34zM861.12 745.2h2.34v2.3h-2.34zM868.14 745.2h2.34v2.3h-2.34zM276.12 747.5h2.34v2.3h-2.34zM280.8 747.5h2.34v2.3h-2.34zM435.24 747.5h2.34v2.3h-2.34zM439.92 747.5h2.34v2.3h-2.34zM453.96 747.5h2.34v2.3h-2.34zM463.32 747.5h2.34v2.3h-2.34zM477.36 747.5h2.34v2.3h-2.34zM489.06 747.5h2.34v2.3h-2.34zM512.46 747.5h2.34v2.3h-2.34zM524.16 747.5h2.34v2.3h-2.34zM577.98 747.5h2.34v2.3h-2.34zM603.72 747.5h2.34v2.3h-2.34zM631.8 747.5h2.34v2.3h-2.34zM659.88 747.5h2.34v2.3h-2.34zM685.62 747.5h4.68v2.3h-4.68zM758.16 747.5h4.68v2.3h-4.68zM767.52 747.5h2.34v2.3h-2.34zM823.68 747.5h2.34v2.3h-2.34zM861.12 747.5h4.68v2.3h-4.68zM886.86 747.5h2.34v2.3h-2.34zM912.6 747.5h2.34v2.3h-2.34zM917.28 747.5h2.34v2.3h-2.34zM936 747.5h2.34v2.3h-2.34zM940.68 747.5h2.34v2.3h-2.34zM961.74 747.5h2.34v2.3h-2.34zM973.44 747.5h2.34v2.3h-2.34zM985.14 747.5h2.34v2.3h-2.34zM283.14 749.8h2.34v2.3h-2.34zM306.54 749.8h2.34v2.3h-2.34zM336.96 749.8h4.68v2.3h-4.68zM442.26 749.8h2.34v2.3h-2.34zM486.72 749.8h2.34v2.3h-2.34zM491.4 749.8h2.34v2.3h-2.34zM498.42 749.8h2.34v2.3h-2.34zM507.78 749.8h2.34v2.3h-2.34zM559.26 749.8h2.34v2.3h-2.34zM573.3 749.8h2.34v2.3h-2.34zM596.7 749.8h2.34v2.3h-2.34zM615.42 749.8h2.34v2.3h-2.34zM620.1 749.8h2.34v2.3h-2.34zM624.78 749.8h2.34v2.3h-2.34zM664.56 749.8h2.34v2.3h-2.34zM669.24 749.8h2.34v2.3h-2.34zM739.44 749.8h2.34v2.3h-2.34zM751.14 749.8h2.34v2.3h-2.34zM772.2 749.8h4.68v2.3h-4.68zM807.3 749.8h2.34v2.3h-2.34zM819 749.8h2.34v2.3h-2.34zM882.18 749.8h2.34v2.3h-2.34zM891.54 749.8h2.34v2.3h-2.34zM921.96 749.8h2.34v2.3h-2.34zM959.4 749.8h2.34v2.3h-2.34zM966.42 749.8h2.34v2.3h-2.34zM978.12 749.8h2.34v2.3h-2.34zM992.16 749.8h2.34v2.3h-2.34zM1038.96 749.8h2.34v2.3h-2.34zM477.36 752.1h2.34v2.3h-2.34zM556.92 752.1h2.34v2.3h-2.34zM573.3 752.1h2.34v2.3h-2.34zM655.2 752.1h2.34v2.3h-2.34zM662.22 752.1h2.34v2.3h-2.34zM690.3 752.1h2.34v2.3h-2.34zM744.12 752.1h4.68v2.3h-4.68zM767.52 752.1h2.34v2.3h-2.34zM828.36 752.1h2.34v2.3h-2.34zM903.24 752.1h2.34v2.3h-2.34zM917.28 752.1h4.68v2.3h-4.68zM926.64 752.1h2.34v2.3h-2.34zM931.32 752.1h2.34v2.3h-2.34zM957.06 752.1h2.34v2.3h-2.34zM966.42 752.1h2.34v2.3h-2.34zM985.14 752.1h2.34v2.3h-2.34zM1022.58 752.1h2.34v2.3h-2.34zM1057.68 752.1h2.34v2.3h-2.34zM1090.44 752.1h4.68v2.3h-4.68zM1097.46 752.1h2.34v2.3h-2.34zM1111.5 752.1h2.34v2.3h-2.34zM1118.52 752.1h4.68v2.3h-4.68zM1146.6 752.1h2.34v2.3h-2.34zM1151.28 752.1h2.34v2.3h-2.34zM1162.98 752.1h2.34v2.3h-2.34zM269.1 754.4h2.34v2.3h-2.34zM297.18 754.4h2.34v2.3h-2.34zM400.14 754.4h2.34v2.3h-2.34zM421.2 754.4h2.34v2.3h-2.34zM451.62 754.4h2.34v2.3h-2.34zM489.06 754.4h2.34v2.3h-2.34zM592.02 754.4h2.34v2.3h-2.34zM620.1 754.4h2.34v2.3h-2.34zM636.48 754.4h2.34v2.3h-2.34zM645.84 754.4h2.34v2.3h-2.34zM706.68 754.4h2.34v2.3h-2.34zM718.38 754.4h2.34v2.3h-2.34zM723.06 754.4h2.34v2.3h-2.34zM840.06 754.4h2.34v2.3h-2.34zM844.74 754.4h2.34v2.3h-2.34zM877.5 754.4h2.34v2.3h-2.34zM987.48 754.4h2.34v2.3h-2.34zM996.84 754.4h4.68v2.3h-4.68zM1015.56 754.4h2.34v2.3h-2.34zM1043.64 754.4h2.34v2.3h-2.34zM1062.36 754.4h2.34v2.3h-2.34zM1092.78 754.4h2.34v2.3h-2.34zM1123.2 754.4h2.34v2.3h-2.34zM1137.24 754.4h4.68v2.3h-4.68zM1167.66 754.4h2.34v2.3h-2.34zM1172.34 754.4h2.34v2.3h-2.34zM1179.36 754.4h4.68v2.3h-4.68zM1200.42 754.4h2.34v2.3h-2.34zM1226.16 754.4h2.34v2.3h-2.34zM1235.52 754.4h2.34v2.3h-2.34zM1242.54 754.4h2.34v2.3h-2.34zM1261.26 754.4h2.34v2.3h-2.34zM489.06 756.7h2.34v2.3h-2.34zM624.78 756.7h2.34v2.3h-2.34zM716.04 756.7h2.34v2.3h-2.34zM755.82 756.7h2.34v2.3h-2.34zM957.06 756.7h2.34v2.3h-2.34zM1022.58 756.7h2.34v2.3h-2.34zM1069.38 756.7h2.34v2.3h-2.34zM1092.78 756.7h2.34v2.3h-2.34zM1104.48 756.7h2.34v2.3h-2.34zM1109.16 756.7h2.34v2.3h-2.34zM1158.3 756.7h7.02v2.3h-7.02zM1188.72 756.7h2.34v2.3h-2.34zM1219.14 756.7h2.34v2.3h-2.34zM1303.38 756.7h7.02v2.3h-7.02zM1319.76 756.7h2.34v2.3h-2.34zM1326.78 756.7h2.34v2.3h-2.34zM1331.46 756.7h2.34v2.3h-2.34zM1340.82 756.7h7.02v2.3h-7.02zM470.34 759h2.34v2.3h-2.34zM758.16 759h2.34v2.3h-2.34zM978.12 759h2.34v2.3h-2.34zM1013.22 759h2.34v2.3h-2.34zM1022.58 759h2.34v2.3h-2.34zM1050.66 759h2.34v2.3h-2.34zM1141.92 759h2.34v2.3h-2.34zM1188.72 759h2.34v2.3h-2.34zM1207.44 759h2.34v2.3h-2.34zM1228.5 759h2.34v2.3h-2.34zM1235.52 759h2.34v2.3h-2.34zM1258.92 759h2.34v2.3h-2.34zM1263.6 759h2.34v2.3h-2.34zM1291.68 759h2.34v2.3h-2.34zM1301.04 759h2.34v2.3h-2.34zM1315.08 759h4.68v2.3h-4.68zM1322.1 759h2.34v2.3h-2.34zM1331.46 759h2.34v2.3h-2.34zM1340.82 759h2.34v2.3h-2.34zM1347.84 759h2.34v2.3h-2.34zM1352.52 759h2.34v2.3h-2.34zM1357.2 759h2.34v2.3h-2.34zM1361.88 759h2.34v2.3h-2.34zM1366.56 759h7.02v2.3h-7.02zM1375.92 759h4.68v2.3h-4.68zM1387.62 759h7.02v2.3h-7.02zM1399.32 759h2.34v2.3h-2.34zM1404 759h2.34v2.3h-2.34zM418.86 761.3h2.34v2.3h-2.34zM673.92 761.3h2.34v2.3h-2.34zM914.94 761.3h2.34v2.3h-2.34zM971.1 761.3h2.34v2.3h-2.34zM994.5 761.3h2.34v2.3h-2.34zM1048.32 761.3h2.34v2.3h-2.34zM1099.8 761.3h2.34v2.3h-2.34zM1106.82 761.3h2.34v2.3h-2.34zM1118.52 761.3h2.34v2.3h-2.34zM1125.54 761.3h2.34v2.3h-2.34zM1134.9 761.3h2.34v2.3h-2.34zM1172.34 761.3h2.34v2.3h-2.34zM1198.08 761.3h2.34v2.3h-2.34zM1207.44 761.3h2.34v2.3h-2.34zM1235.52 761.3h2.34v2.3h-2.34zM1244.88 761.3h2.34v2.3h-2.34zM1251.9 761.3h2.34v2.3h-2.34zM1258.92 761.3h2.34v2.3h-2.34zM1279.98 761.3h2.34v2.3h-2.34zM1324.44 761.3h2.34v2.3h-2.34zM1333.8 761.3h2.34v2.3h-2.34zM1338.48 761.3h2.34v2.3h-2.34zM1352.52 761.3h2.34v2.3h-2.34zM1366.56 761.3h2.34v2.3h-2.34zM1375.92 761.3h2.34v2.3h-2.34zM1387.62 761.3h2.34v2.3h-2.34zM1392.3 761.3h2.34v2.3h-2.34zM1396.98 761.3h4.68v2.3h-4.68zM1429.74 761.3h2.34v2.3h-2.34zM1441.44 761.3h4.68v2.3h-4.68zM1450.8 761.3h2.34v2.3h-2.34zM1455.48 761.3h2.34v2.3h-2.34zM1460.16 761.3h2.34v2.3h-2.34zM971.1 763.6h2.34v2.3h-2.34zM1015.56 763.6h4.68v2.3h-4.68zM1045.98 763.6h2.34v2.3h-2.34zM1067.04 763.6h2.34v2.3h-2.34zM1083.42 763.6h2.34v2.3h-2.34zM1137.24 763.6h2.34v2.3h-2.34zM1251.9 763.6h2.34v2.3h-2.34zM1289.34 763.6h2.34v2.3h-2.34zM1298.7 763.6h2.34v2.3h-2.34zM1303.38 763.6h2.34v2.3h-2.34zM1317.42 763.6h2.34v2.3h-2.34zM1326.78 763.6h2.34v2.3h-2.34zM1331.46 763.6h7.02v2.3h-7.02zM1347.84 763.6h2.34v2.3h-2.34zM1357.2 763.6h4.68v2.3h-4.68zM1364.22 763.6h2.34v2.3h-2.34zM1368.9 763.6h2.34v2.3h-2.34zM1394.64 763.6h2.34v2.3h-2.34zM1404 763.6h2.34v2.3h-2.34zM1413.36 763.6h2.34v2.3h-2.34zM1441.44 763.6h2.34v2.3h-2.34zM1453.14 763.6h4.68v2.3h-4.68zM1471.86 763.6h2.34v2.3h-2.34zM1476.54 763.6h2.34v2.3h-2.34zM1483.56 763.6h4.68v2.3h-4.68zM1490.58 763.6h2.34v2.3h-2.34zM1495.26 763.6h2.34v2.3h-2.34zM1499.94 763.6h2.34v2.3h-2.34zM1504.62 763.6h4.68v2.3h-4.68zM1209.78 765.9h2.34v2.3h-2.34zM1282.32 765.9h4.68v2.3h-4.68zM1291.68 765.9h4.68v2.3h-4.68zM1303.38 765.9h2.34v2.3h-2.34zM1324.44 765.9h4.68v2.3h-4.68zM1336.14 765.9h7.02v2.3h-7.02zM1352.52 765.9h2.34v2.3h-2.34zM1357.2 765.9h2.34v2.3h-2.34zM1368.9 765.9h2.34v2.3h-2.34zM1378.26 765.9h4.68v2.3h-4.68zM1389.96 765.9h2.34v2.3h-2.34zM1396.98 765.9h2.34v2.3h-2.34zM1401.66 765.9h2.34v2.3h-2.34zM1415.7 765.9h2.34v2.3h-2.34zM1432.08 765.9h2.34v2.3h-2.34zM1436.76 765.9h2.34v2.3h-2.34zM1453.14 765.9h2.34v2.3h-2.34zM1457.82 765.9h2.34v2.3h-2.34zM1467.18 765.9h2.34v2.3h-2.34zM1481.22 765.9h4.68v2.3h-4.68zM1488.24 765.9h4.68v2.3h-4.68zM1504.62 765.9h2.34v2.3h-2.34zM1516.32 765.9h4.68v2.3h-4.68zM1523.34 765.9h2.34v2.3h-2.34zM1535.04 765.9h2.34v2.3h-2.34zM1539.72 765.9h2.34v2.3h-2.34zM1544.4 765.9h2.34v2.3h-2.34zM1560.78 765.9h2.34v2.3h-2.34zM1572.48 765.9h2.34v2.3h-2.34zM1127.88 768.2h2.34v2.3h-2.34zM1186.38 768.2h2.34v2.3h-2.34zM1251.9 768.2h2.34v2.3h-2.34zM1291.68 768.2h4.68v2.3h-4.68zM1305.72 768.2h2.34v2.3h-2.34zM1315.08 768.2h4.68v2.3h-4.68zM1331.46 768.2h2.34v2.3h-2.34zM1338.48 768.2h2.34v2.3h-2.34zM1371.24 768.2h7.02v2.3h-7.02zM1385.28 768.2h2.34v2.3h-2.34zM1425.06 768.2h2.34v2.3h-2.34zM1432.08 768.2h2.34v2.3h-2.34zM1453.14 768.2h2.34v2.3h-2.34zM1478.88 768.2h2.34v2.3h-2.34zM1488.24 768.2h2.34v2.3h-2.34zM1492.92 768.2h2.34v2.3h-2.34zM1502.28 768.2h2.34v2.3h-2.34zM1506.96 768.2h4.68v2.3h-4.68zM1513.98 768.2h2.34v2.3h-2.34zM1525.68 768.2h2.34v2.3h-2.34zM1532.7 768.2h4.68v2.3h-4.68zM1539.72 768.2h7.02v2.3h-7.02zM1549.08 768.2h4.68v2.3h-4.68zM1558.44 768.2h2.34v2.3h-2.34zM1563.12 768.2h2.34v2.3h-2.34zM1567.8 768.2h2.34v2.3h-2.34zM1574.82 768.2h2.34v2.3h-2.34zM1588.86 768.2h2.34v2.3h-2.34zM1593.54 768.2h2.34v2.3h-2.34zM1619.28 768.2h2.34v2.3h-2.34zM1628.64 768.2h4.68v2.3h-4.68zM1635.66 768.2h2.34v2.3h-2.34zM1642.68 768.2h2.34v2.3h-2.34zM1265.94 770.5h2.34v2.3h-2.34zM1303.38 770.5h2.34v2.3h-2.34zM1319.76 770.5h7.02v2.3h-7.02zM1329.12 770.5h2.34v2.3h-2.34zM1333.8 770.5h2.34v2.3h-2.34zM1340.82 770.5h2.34v2.3h-2.34zM1366.56 770.5h2.34v2.3h-2.34zM1380.6 770.5h2.34v2.3h-2.34zM1385.28 770.5h4.68v2.3h-4.68zM1392.3 770.5h2.34v2.3h-2.34zM1404 770.5h2.34v2.3h-2.34zM1415.7 770.5h4.68v2.3h-4.68zM1427.4 770.5h4.68v2.3h-4.68zM1436.76 770.5h2.34v2.3h-2.34zM1448.46 770.5h2.34v2.3h-2.34zM1457.82 770.5h2.34v2.3h-2.34zM1474.2 770.5h2.34v2.3h-2.34zM1478.88 770.5h4.68v2.3h-4.68zM1499.94 770.5h2.34v2.3h-2.34zM1509.3 770.5h2.34v2.3h-2.34zM1518.66 770.5h2.34v2.3h-2.34zM1523.34 770.5h4.68v2.3h-4.68zM1549.08 770.5h2.34v2.3h-2.34zM1556.1 770.5h2.34v2.3h-2.34zM1565.46 770.5h2.34v2.3h-2.34zM1572.48 770.5h2.34v2.3h-2.34zM1579.5 770.5h2.34v2.3h-2.34zM1600.56 770.5h4.68v2.3h-4.68zM1612.26 770.5h2.34v2.3h-2.34zM1616.94 770.5h2.34v2.3h-2.34zM1623.96 770.5h4.68v2.3h-4.68zM1633.32 770.5h4.68v2.3h-4.68zM1652.04 770.5h2.34v2.3h-2.34zM1670.76 770.5h4.68v2.3h-4.68zM1687.14 770.5h2.34v2.3h-2.34zM1724.58 770.5h2.34v2.3h-2.34zM1729.26 770.5h2.34v2.3h-2.34zM1733.94 770.5h2.34v2.3h-2.34zM1773.72 770.5h2.34v2.3h-2.34zM1780.74 770.5h2.34v2.3h-2.34zM2244.06 770.5h2.34v2.3h-2.34zM2267.46 770.5h4.68v2.3h-4.68zM2290.86 770.5h2.34v2.3h-2.34zM3135.6 770.5h2.34v2.3h-2.34zM3142.62 770.5h2.34v2.3h-2.34zM3191.76 770.5h2.34v2.3h-2.34zM3201.12 770.5h2.34v2.3h-2.34zM3236.22 770.5h2.34v2.3h-2.34zM3247.92 770.5h2.34v2.3h-2.34zM3257.28 770.5h2.34v2.3h-2.34zM3280.68 770.5h2.34v2.3h-2.34zM3341.52 770.5h2.34v2.3h-2.34zM3348.54 770.5h2.34v2.3h-2.34zM3369.6 770.5h2.34v2.3h-2.34zM3400.02 770.5h2.34v2.3h-2.34zM3425.76 770.5h2.34v2.3h-2.34zM3432.78 770.5h2.34v2.3h-2.34zM3465.54 770.5h2.34v2.3h-2.34zM3526.38 770.5h2.34v2.3h-2.34zM3540.42 770.5h4.68v2.3h-4.68zM1275.3 772.8h2.34v2.3h-2.34zM1308.06 772.8h2.34v2.3h-2.34zM1315.08 772.8h2.34v2.3h-2.34zM1324.44 772.8h4.68v2.3h-4.68zM1338.48 772.8h7.02v2.3h-7.02zM1364.22 772.8h2.34v2.3h-2.34zM1375.92 772.8h2.34v2.3h-2.34zM1382.94 772.8h4.68v2.3h-4.68zM1394.64 772.8h2.34v2.3h-2.34zM1404 772.8h4.68v2.3h-4.68zM1422.72 772.8h2.34v2.3h-2.34zM1436.76 772.8h2.34v2.3h-2.34zM1441.44 772.8h2.34v2.3h-2.34zM1467.18 772.8h4.68v2.3h-4.68zM1474.2 772.8h2.34v2.3h-2.34zM1485.9 772.8h7.02v2.3h-7.02zM1499.94 772.8h2.34v2.3h-2.34zM1509.3 772.8h4.68v2.3h-4.68zM1521 772.8h2.34v2.3h-2.34zM1535.04 772.8h2.34v2.3h-2.34zM1539.72 772.8h2.34v2.3h-2.34zM1546.74 772.8h2.34v2.3h-2.34zM1567.8 772.8h7.02v2.3h-7.02zM1579.5 772.8h4.68v2.3h-4.68zM1588.86 772.8h2.34v2.3h-2.34zM1605.24 772.8h2.34v2.3h-2.34zM1623.96 772.8h2.34v2.3h-2.34zM1628.64 772.8h4.68v2.3h-4.68zM1635.66 772.8h2.34v2.3h-2.34zM1640.34 772.8h2.34v2.3h-2.34zM1670.76 772.8h2.34v2.3h-2.34zM1675.44 772.8h2.34v2.3h-2.34zM1680.12 772.8h2.34v2.3h-2.34zM1689.48 772.8h2.34v2.3h-2.34zM1752.66 772.8h2.34v2.3h-2.34zM1808.82 772.8h2.34v2.3h-2.34zM1834.56 772.8h2.34v2.3h-2.34zM2255.76 772.8h2.34v2.3h-2.34zM2274.48 772.8h2.34v2.3h-2.34zM2347.02 772.8h2.34v2.3h-2.34zM2361.06 772.8h2.34v2.3h-2.34zM2414.88 772.8h2.34v2.3h-2.34zM2421.9 772.8h4.68v2.3h-4.68zM2440.62 772.8h2.34v2.3h-2.34zM2464.02 772.8h2.34v2.3h-2.34zM2503.8 772.8h2.34v2.3h-2.34zM2529.54 772.8h2.34v2.3h-2.34zM2541.24 772.8h2.34v2.3h-2.34zM2592.72 772.8h7.02v2.3h-7.02zM2613.78 772.8h2.34v2.3h-2.34zM2618.46 772.8h2.34v2.3h-2.34zM2637.18 772.8h2.34v2.3h-2.34zM2648.88 772.8h2.34v2.3h-2.34zM2679.3 772.8h2.34v2.3h-2.34zM2721.42 772.8h2.34v2.3h-2.34zM2733.12 772.8h2.34v2.3h-2.34zM2742.48 772.8h2.34v2.3h-2.34zM2754.18 772.8h2.34v2.3h-2.34zM2779.92 772.8h2.34v2.3h-2.34zM2791.62 772.8h2.34v2.3h-2.34zM2798.64 772.8h2.34v2.3h-2.34zM2805.66 772.8h2.34v2.3h-2.34zM2815.02 772.8h2.34v2.3h-2.34zM2838.42 772.8h2.34v2.3h-2.34zM2843.1 772.8h2.34v2.3h-2.34zM2873.52 772.8h2.34v2.3h-2.34zM2880.54 772.8h2.34v2.3h-2.34zM2887.56 772.8h2.34v2.3h-2.34zM2908.62 772.8h2.34v2.3h-2.34zM2962.44 772.8h2.34v2.3h-2.34zM3034.98 772.8h2.34v2.3h-2.34zM3243.24 772.8h2.34v2.3h-2.34zM3273.66 772.8h2.34v2.3h-2.34zM3339.18 772.8h2.34v2.3h-2.34zM3357.9 772.8h2.34v2.3h-2.34zM1251.9 775.1h2.34v2.3h-2.34zM1282.32 775.1h2.34v2.3h-2.34zM1291.68 775.1h2.34v2.3h-2.34zM1324.44 775.1h2.34v2.3h-2.34zM1352.52 775.1h2.34v2.3h-2.34zM1357.2 775.1h2.34v2.3h-2.34zM1361.88 775.1h2.34v2.3h-2.34zM1366.56 775.1h2.34v2.3h-2.34zM1373.58 775.1h2.34v2.3h-2.34zM1392.3 775.1h2.34v2.3h-2.34zM1404 775.1h2.34v2.3h-2.34zM1420.38 775.1h2.34v2.3h-2.34zM1427.4 775.1h2.34v2.3h-2.34zM1446.12 775.1h2.34v2.3h-2.34zM1457.82 775.1h2.34v2.3h-2.34zM1492.92 775.1h2.34v2.3h-2.34zM1502.28 775.1h7.02v2.3h-7.02zM1525.68 775.1h2.34v2.3h-2.34zM1535.04 775.1h2.34v2.3h-2.34zM1539.72 775.1h2.34v2.3h-2.34zM1546.74 775.1h2.34v2.3h-2.34zM1553.76 775.1h2.34v2.3h-2.34zM1565.46 775.1h2.34v2.3h-2.34zM1574.82 775.1h4.68v2.3h-4.68zM1581.84 775.1h2.34v2.3h-2.34zM1586.52 775.1h4.68v2.3h-4.68zM1602.9 775.1h2.34v2.3h-2.34zM1612.26 775.1h4.68v2.3h-4.68zM1621.62 775.1h2.34v2.3h-2.34zM1626.3 775.1h2.34v2.3h-2.34zM1659.06 775.1h2.34v2.3h-2.34zM1673.1 775.1h2.34v2.3h-2.34zM1682.46 775.1h7.02v2.3h-7.02zM1743.3 775.1h2.34v2.3h-2.34zM1804.14 775.1h2.34v2.3h-2.34zM1822.86 775.1h2.34v2.3h-2.34zM1836.9 775.1h2.34v2.3h-2.34zM1883.7 775.1h7.02v2.3h-7.02zM2211.3 775.1h2.34v2.3h-2.34zM2218.32 775.1h2.34v2.3h-2.34zM2241.72 775.1h2.34v2.3h-2.34zM2316.6 775.1h2.34v2.3h-2.34zM2361.06 775.1h2.34v2.3h-2.34zM2478.06 775.1h2.34v2.3h-2.34zM2515.5 775.1h2.34v2.3h-2.34zM2592.72 775.1h2.34v2.3h-2.34zM2637.18 775.1h2.34v2.3h-2.34zM2737.8 775.1h2.34v2.3h-2.34zM2833.74 775.1h2.34v2.3h-2.34zM2838.42 775.1h2.34v2.3h-2.34zM2910.96 775.1h2.34v2.3h-2.34zM2990.52 775.1h2.34v2.3h-2.34zM3133.26 775.1h2.34v2.3h-2.34zM3163.68 775.1h2.34v2.3h-2.34zM3170.7 775.1h2.34v2.3h-2.34zM3306.42 775.1h2.34v2.3h-2.34zM3409.38 775.1h2.34v2.3h-2.34zM3428.1 775.1h2.34v2.3h-2.34zM3575.52 775.1h2.34v2.3h-2.34zM1223.82 777.4h2.34v2.3h-2.34zM1228.5 777.4h2.34v2.3h-2.34zM1268.28 777.4h2.34v2.3h-2.34zM1322.1 777.4h2.34v2.3h-2.34zM1329.12 777.4h2.34v2.3h-2.34zM1350.18 777.4h2.34v2.3h-2.34zM1364.22 777.4h2.34v2.3h-2.34zM1373.58 777.4h2.34v2.3h-2.34zM1385.28 777.4h2.34v2.3h-2.34zM1425.06 777.4h2.34v2.3h-2.34zM1432.08 777.4h4.68v2.3h-4.68zM1439.1 777.4h2.34v2.3h-2.34zM1455.48 777.4h4.68v2.3h-4.68zM1478.88 777.4h2.34v2.3h-2.34zM1483.56 777.4h2.34v2.3h-2.34zM1511.64 777.4h2.34v2.3h-2.34zM1528.02 777.4h2.34v2.3h-2.34zM1549.08 777.4h2.34v2.3h-2.34zM1572.48 777.4h2.34v2.3h-2.34zM1577.16 777.4h4.68v2.3h-4.68zM1584.18 777.4h4.68v2.3h-4.68zM1595.88 777.4h4.68v2.3h-4.68zM1607.58 777.4h2.34v2.3h-2.34zM1633.32 777.4h2.34v2.3h-2.34zM1640.34 777.4h4.68v2.3h-4.68zM1647.36 777.4h4.68v2.3h-4.68zM1654.38 777.4h2.34v2.3h-2.34zM1666.08 777.4h2.34v2.3h-2.34zM1670.76 777.4h2.34v2.3h-2.34zM1675.44 777.4h2.34v2.3h-2.34zM1682.46 777.4h7.02v2.3h-7.02zM1740.96 777.4h2.34v2.3h-2.34zM1771.38 777.4h2.34v2.3h-2.34zM1825.2 777.4h2.34v2.3h-2.34zM1829.88 777.4h2.34v2.3h-2.34zM1843.92 777.4h2.34v2.3h-2.34zM1853.28 777.4h2.34v2.3h-2.34zM2237.04 777.4h2.34v2.3h-2.34zM2258.1 777.4h7.02v2.3h-7.02zM2286.18 777.4h2.34v2.3h-2.34zM2340 777.4h2.34v2.3h-2.34zM2454.66 777.4h2.34v2.3h-2.34zM2471.04 777.4h2.34v2.3h-2.34zM2683.98 777.4h2.34v2.3h-2.34zM2709.72 777.4h2.34v2.3h-2.34zM2742.48 777.4h2.34v2.3h-2.34zM2793.96 777.4h2.34v2.3h-2.34zM2847.78 777.4h2.34v2.3h-2.34zM2892.24 777.4h2.34v2.3h-2.34zM3065.4 777.4h2.34v2.3h-2.34zM3093.48 777.4h2.34v2.3h-2.34zM3123.9 777.4h2.34v2.3h-2.34zM3166.02 777.4h2.34v2.3h-2.34zM3404.7 777.4h2.34v2.3h-2.34zM3421.08 777.4h2.34v2.3h-2.34zM3435.12 777.4h2.34v2.3h-2.34zM3540.42 777.4h2.34v2.3h-2.34zM1256.58 779.7h2.34v2.3h-2.34zM1305.72 779.7h2.34v2.3h-2.34zM1312.74 779.7h2.34v2.3h-2.34zM1331.46 779.7h2.34v2.3h-2.34zM1343.16 779.7h2.34v2.3h-2.34zM1373.58 779.7h2.34v2.3h-2.34zM1406.34 779.7h2.34v2.3h-2.34zM1411.02 779.7h2.34v2.3h-2.34zM1418.04 779.7h2.34v2.3h-2.34zM1427.4 779.7h4.68v2.3h-4.68zM1434.42 779.7h7.02v2.3h-7.02zM1462.5 779.7h2.34v2.3h-2.34zM1485.9 779.7h2.34v2.3h-2.34zM1492.92 779.7h2.34v2.3h-2.34zM1499.94 779.7h2.34v2.3h-2.34zM1504.62 779.7h2.34v2.3h-2.34zM1509.3 779.7h2.34v2.3h-2.34zM1513.98 779.7h4.68v2.3h-4.68zM1532.7 779.7h2.34v2.3h-2.34zM1539.72 779.7h4.68v2.3h-4.68zM1560.78 779.7h2.34v2.3h-2.34zM1586.52 779.7h2.34v2.3h-2.34zM1595.88 779.7h2.34v2.3h-2.34zM1600.56 779.7h2.34v2.3h-2.34zM1612.26 779.7h2.34v2.3h-2.34zM1616.94 779.7h7.02v2.3h-7.02zM1638 779.7h2.34v2.3h-2.34zM1645.02 779.7h2.34v2.3h-2.34zM1649.7 779.7h2.34v2.3h-2.34zM1663.74 779.7h2.34v2.3h-2.34zM1677.78 779.7h2.34v2.3h-2.34zM2187.9 779.7h2.34v2.3h-2.34zM2230.02 779.7h2.34v2.3h-2.34zM2328.3 779.7h2.34v2.3h-2.34zM2335.32 779.7h2.34v2.3h-2.34zM2445.3 779.7h2.34v2.3h-2.34zM2459.34 779.7h2.34v2.3h-2.34zM2508.48 779.7h2.34v2.3h-2.34zM2541.24 779.7h2.34v2.3h-2.34zM2737.8 779.7h2.34v2.3h-2.34zM2770.56 779.7h2.34v2.3h-2.34zM2817.36 779.7h2.34v2.3h-2.34zM2927.34 779.7h2.34v2.3h-2.34zM2957.76 779.7h2.34v2.3h-2.34zM3060.72 779.7h2.34v2.3h-2.34zM1247.22 782h2.34v2.3h-2.34zM1263.6 782h2.34v2.3h-2.34zM1317.42 782h2.34v2.3h-2.34zM1359.54 782h2.34v2.3h-2.34zM1364.22 782h2.34v2.3h-2.34zM1378.26 782h2.34v2.3h-2.34zM1394.64 782h2.34v2.3h-2.34zM1411.02 782h2.34v2.3h-2.34zM1429.74 782h2.34v2.3h-2.34zM1448.46 782h2.34v2.3h-2.34zM1462.5 782h2.34v2.3h-2.34zM1467.18 782h4.68v2.3h-4.68zM1474.2 782h2.34v2.3h-2.34zM1490.58 782h2.34v2.3h-2.34zM1495.26 782h2.34v2.3h-2.34zM1513.98 782h2.34v2.3h-2.34zM1530.36 782h4.68v2.3h-4.68zM1537.38 782h2.34v2.3h-2.34zM1544.4 782h9.36v2.3h-9.36zM1572.48 782h2.34v2.3h-2.34zM1591.2 782h2.34v2.3h-2.34zM1598.22 782h2.34v2.3h-2.34zM1605.24 782h2.34v2.3h-2.34zM1609.92 782h2.34v2.3h-2.34zM1621.62 782h2.34v2.3h-2.34zM1628.64 782h4.68v2.3h-4.68zM1640.34 782h2.34v2.3h-2.34zM1645.02 782h2.34v2.3h-2.34zM1661.4 782h2.34v2.3h-2.34zM1670.76 782h2.34v2.3h-2.34zM1682.46 782h4.68v2.3h-4.68zM1820.52 782h2.34v2.3h-2.34zM1886.04 782h2.34v2.3h-2.34zM2185.56 782h2.34v2.3h-2.34zM2302.56 782h2.34v2.3h-2.34zM2375.1 782h2.34v2.3h-2.34zM2389.14 782h2.34v2.3h-2.34zM2482.74 782h2.34v2.3h-2.34zM2620.8 782h2.34v2.3h-2.34zM2637.18 782h2.34v2.3h-2.34zM2681.64 782h2.34v2.3h-2.34zM2719.08 782h2.34v2.3h-2.34zM2735.46 782h2.34v2.3h-2.34zM3294.72 782h2.34v2.3h-2.34zM1249.56 784.3h2.34v2.3h-2.34zM1298.7 784.3h2.34v2.3h-2.34zM1310.4 784.3h2.34v2.3h-2.34zM1317.42 784.3h2.34v2.3h-2.34zM1326.78 784.3h2.34v2.3h-2.34zM1345.5 784.3h2.34v2.3h-2.34zM1352.52 784.3h2.34v2.3h-2.34zM1366.56 784.3h2.34v2.3h-2.34zM1389.96 784.3h2.34v2.3h-2.34zM1408.68 784.3h2.34v2.3h-2.34zM1413.36 784.3h7.02v2.3h-7.02zM1434.42 784.3h2.34v2.3h-2.34zM1457.82 784.3h7.02v2.3h-7.02zM1474.2 784.3h2.34v2.3h-2.34zM1478.88 784.3h7.02v2.3h-7.02zM1488.24 784.3h2.34v2.3h-2.34zM1513.98 784.3h4.68v2.3h-4.68zM1530.36 784.3h2.34v2.3h-2.34zM1556.1 784.3h2.34v2.3h-2.34zM1563.12 784.3h7.02v2.3h-7.02zM1574.82 784.3h7.02v2.3h-7.02zM1584.18 784.3h7.02v2.3h-7.02zM1593.54 784.3h2.34v2.3h-2.34zM1600.56 784.3h2.34v2.3h-2.34zM1609.92 784.3h4.68v2.3h-4.68zM1642.68 784.3h4.68v2.3h-4.68zM1656.72 784.3h2.34v2.3h-2.34zM1670.76 784.3h4.68v2.3h-4.68zM1680.12 784.3h2.34v2.3h-2.34zM1687.14 784.3h2.34v2.3h-2.34zM2049.84 784.3h2.34v2.3h-2.34zM2061.54 784.3h2.34v2.3h-2.34zM2066.22 784.3h2.34v2.3h-2.34zM2150.46 784.3h2.34v2.3h-2.34zM2169.18 784.3h2.34v2.3h-2.34zM2178.54 784.3h2.34v2.3h-2.34zM2377.44 784.3h2.34v2.3h-2.34zM2503.8 784.3h2.34v2.3h-2.34zM2548.26 784.3h2.34v2.3h-2.34zM2639.52 784.3h2.34v2.3h-2.34zM2723.76 784.3h2.34v2.3h-2.34zM2831.4 784.3h2.34v2.3h-2.34zM1287 786.6h2.34v2.3h-2.34zM1317.42 786.6h2.34v2.3h-2.34zM1352.52 786.6h2.34v2.3h-2.34zM1361.88 786.6h7.02v2.3h-7.02zM1396.98 786.6h4.68v2.3h-4.68zM1408.68 786.6h2.34v2.3h-2.34zM1420.38 786.6h2.34v2.3h-2.34zM1450.8 786.6h2.34v2.3h-2.34zM1455.48 786.6h4.68v2.3h-4.68zM1467.18 786.6h2.34v2.3h-2.34zM1478.88 786.6h2.34v2.3h-2.34zM1483.56 786.6h2.34v2.3h-2.34zM1488.24 786.6h2.34v2.3h-2.34zM1499.94 786.6h4.68v2.3h-4.68zM1511.64 786.6h2.34v2.3h-2.34zM1516.32 786.6h2.34v2.3h-2.34zM1521 786.6h7.02v2.3h-7.02zM1544.4 786.6h2.34v2.3h-2.34zM1553.76 786.6h4.68v2.3h-4.68zM1565.46 786.6h2.34v2.3h-2.34zM1579.5 786.6h2.34v2.3h-2.34zM1586.52 786.6h2.34v2.3h-2.34zM1602.9 786.6h2.34v2.3h-2.34zM1612.26 786.6h2.34v2.3h-2.34zM1649.7 786.6h2.34v2.3h-2.34zM1656.72 786.6h7.02v2.3h-7.02zM1668.42 786.6h4.68v2.3h-4.68zM1675.44 786.6h2.34v2.3h-2.34zM1680.12 786.6h2.34v2.3h-2.34zM1893.06 786.6h2.34v2.3h-2.34zM2049.84 786.6h2.34v2.3h-2.34zM2054.52 786.6h2.34v2.3h-2.34zM2059.2 786.6h2.34v2.3h-2.34zM2094.3 786.6h2.34v2.3h-2.34zM2101.32 786.6h2.34v2.3h-2.34zM2127.06 786.6h2.34v2.3h-2.34zM2169.18 786.6h2.34v2.3h-2.34zM2375.1 786.6h2.34v2.3h-2.34zM2405.52 786.6h2.34v2.3h-2.34zM2845.44 786.6h2.34v2.3h-2.34zM1247.22 788.9h2.34v2.3h-2.34zM1301.04 788.9h2.34v2.3h-2.34zM1322.1 788.9h2.34v2.3h-2.34zM1347.84 788.9h4.68v2.3h-4.68zM1357.2 788.9h2.34v2.3h-2.34zM1366.56 788.9h2.34v2.3h-2.34zM1375.92 788.9h2.34v2.3h-2.34zM1387.62 788.9h2.34v2.3h-2.34zM1434.42 788.9h2.34v2.3h-2.34zM1443.78 788.9h2.34v2.3h-2.34zM1462.5 788.9h2.34v2.3h-2.34zM1474.2 788.9h4.68v2.3h-4.68zM1485.9 788.9h2.34v2.3h-2.34zM1497.6 788.9h2.34v2.3h-2.34zM1537.38 788.9h4.68v2.3h-4.68zM1586.52 788.9h7.02v2.3h-7.02zM1605.24 788.9h2.34v2.3h-2.34zM1623.96 788.9h4.68v2.3h-4.68zM1635.66 788.9h2.34v2.3h-2.34zM1661.4 788.9h2.34v2.3h-2.34zM1670.76 788.9h2.34v2.3h-2.34zM1886.04 788.9h2.34v2.3h-2.34zM2047.5 788.9h9.36v2.3h-9.36zM2152.8 788.9h2.34v2.3h-2.34zM2162.16 788.9h2.34v2.3h-2.34zM2190.24 788.9h2.34v2.3h-2.34zM1272.96 791.2h2.34v2.3h-2.34zM1289.34 791.2h2.34v2.3h-2.34zM1312.74 791.2h2.34v2.3h-2.34zM1326.78 791.2h2.34v2.3h-2.34zM1331.46 791.2h2.34v2.3h-2.34zM1345.5 791.2h4.68v2.3h-4.68zM1366.56 791.2h2.34v2.3h-2.34zM1371.24 791.2h2.34v2.3h-2.34zM1380.6 791.2h2.34v2.3h-2.34zM1392.3 791.2h2.34v2.3h-2.34zM1418.04 791.2h2.34v2.3h-2.34zM1432.08 791.2h7.02v2.3h-7.02zM1446.12 791.2h2.34v2.3h-2.34zM1467.18 791.2h2.34v2.3h-2.34zM1474.2 791.2h2.34v2.3h-2.34zM1504.62 791.2h2.34v2.3h-2.34zM1518.66 791.2h2.34v2.3h-2.34zM1553.76 791.2h2.34v2.3h-2.34zM1563.12 791.2h2.34v2.3h-2.34zM1567.8 791.2h2.34v2.3h-2.34zM1574.82 791.2h2.34v2.3h-2.34zM1588.86 791.2h2.34v2.3h-2.34zM1612.26 791.2h2.34v2.3h-2.34zM1647.36 791.2h4.68v2.3h-4.68zM1666.08 791.2h2.34v2.3h-2.34zM1673.1 791.2h2.34v2.3h-2.34zM1682.46 791.2h2.34v2.3h-2.34zM1897.74 791.2h2.34v2.3h-2.34zM1909.44 791.2h4.68v2.3h-4.68zM1916.46 791.2h2.34v2.3h-2.34zM1921.14 791.2h2.34v2.3h-2.34zM1928.16 791.2h2.34v2.3h-2.34zM1956.24 791.2h2.34v2.3h-2.34zM1972.62 791.2h2.34v2.3h-2.34zM1979.64 791.2h2.34v2.3h-2.34zM1984.32 791.2h2.34v2.3h-2.34zM2052.18 791.2h2.34v2.3h-2.34zM2164.5 791.2h2.34v2.3h-2.34zM1291.68 793.5h2.34v2.3h-2.34zM1315.08 793.5h2.34v2.3h-2.34zM1329.12 793.5h2.34v2.3h-2.34zM1352.52 793.5h2.34v2.3h-2.34zM1357.2 793.5h2.34v2.3h-2.34zM1401.66 793.5h2.34v2.3h-2.34zM1408.68 793.5h2.34v2.3h-2.34zM1420.38 793.5h2.34v2.3h-2.34zM1453.14 793.5h7.02v2.3h-7.02zM1483.56 793.5h2.34v2.3h-2.34zM1509.3 793.5h2.34v2.3h-2.34zM1518.66 793.5h4.68v2.3h-4.68zM1593.54 793.5h2.34v2.3h-2.34zM1600.56 793.5h4.68v2.3h-4.68zM1614.6 793.5h4.68v2.3h-4.68zM1633.32 793.5h2.34v2.3h-2.34zM1659.06 793.5h2.34v2.3h-2.34zM1663.74 793.5h4.68v2.3h-4.68zM1684.8 793.5h2.34v2.3h-2.34zM1886.04 793.5h4.68v2.3h-4.68zM1897.74 793.5h2.34v2.3h-2.34zM1902.42 793.5h2.34v2.3h-2.34zM1911.78 793.5h2.34v2.3h-2.34zM1925.82 793.5h2.34v2.3h-2.34zM1937.52 793.5h2.34v2.3h-2.34zM1942.2 793.5h2.34v2.3h-2.34zM1949.22 793.5h2.34v2.3h-2.34zM1977.3 793.5h2.34v2.3h-2.34zM1989 793.5h2.34v2.3h-2.34zM1996.02 793.5h2.34v2.3h-2.34zM2000.7 793.5h4.68v2.3h-4.68zM2017.08 793.5h2.34v2.3h-2.34zM2028.78 793.5h4.68v2.3h-4.68zM2035.8 793.5h2.34v2.3h-2.34zM2040.48 793.5h2.34v2.3h-2.34zM1268.28 795.8h2.34v2.3h-2.34zM1315.08 795.8h4.68v2.3h-4.68zM1350.18 795.8h2.34v2.3h-2.34zM1364.22 795.8h4.68v2.3h-4.68zM1382.94 795.8h2.34v2.3h-2.34zM1394.64 795.8h7.02v2.3h-7.02zM1411.02 795.8h2.34v2.3h-2.34zM1418.04 795.8h2.34v2.3h-2.34zM1448.46 795.8h4.68v2.3h-4.68zM1460.16 795.8h7.02v2.3h-7.02zM1469.52 795.8h4.68v2.3h-4.68zM1478.88 795.8h2.34v2.3h-2.34zM1532.7 795.8h2.34v2.3h-2.34zM1542.06 795.8h2.34v2.3h-2.34zM1609.92 795.8h2.34v2.3h-2.34zM1635.66 795.8h2.34v2.3h-2.34zM1649.7 795.8h2.34v2.3h-2.34zM1900.08 795.8h2.34v2.3h-2.34zM1907.1 795.8h2.34v2.3h-2.34zM1916.46 795.8h2.34v2.3h-2.34zM1925.82 795.8h2.34v2.3h-2.34zM1958.58 795.8h2.34v2.3h-2.34zM1965.6 795.8h2.34v2.3h-2.34zM1977.3 795.8h2.34v2.3h-2.34zM1981.98 795.8h4.68v2.3h-4.68zM1989 795.8h2.34v2.3h-2.34zM2005.38 795.8h2.34v2.3h-2.34zM2056.86 795.8h2.34v2.3h-2.34zM1298.7 798.1h2.34v2.3h-2.34zM1315.08 798.1h2.34v2.3h-2.34zM1329.12 798.1h4.68v2.3h-4.68zM1352.52 798.1h2.34v2.3h-2.34zM1373.58 798.1h2.34v2.3h-2.34zM1389.96 798.1h2.34v2.3h-2.34zM1418.04 798.1h2.34v2.3h-2.34zM1476.54 798.1h2.34v2.3h-2.34zM1525.68 798.1h7.02v2.3h-7.02zM1546.74 798.1h2.34v2.3h-2.34zM1565.46 798.1h4.68v2.3h-4.68zM1581.84 798.1h2.34v2.3h-2.34zM1598.22 798.1h2.34v2.3h-2.34zM1630.98 798.1h2.34v2.3h-2.34zM1635.66 798.1h2.34v2.3h-2.34zM1640.34 798.1h2.34v2.3h-2.34zM1663.74 798.1h2.34v2.3h-2.34zM1677.78 798.1h2.34v2.3h-2.34zM1897.74 798.1h2.34v2.3h-2.34zM1909.44 798.1h2.34v2.3h-2.34zM1916.46 798.1h2.34v2.3h-2.34zM1923.48 798.1h2.34v2.3h-2.34zM1930.5 798.1h4.68v2.3h-4.68zM1942.2 798.1h2.34v2.3h-2.34zM1970.28 798.1h4.68v2.3h-4.68zM1977.3 798.1h2.34v2.3h-2.34zM1996.02 798.1h2.34v2.3h-2.34zM2000.7 798.1h4.68v2.3h-4.68zM2007.72 798.1h2.34v2.3h-2.34zM2014.74 798.1h2.34v2.3h-2.34zM2024.1 798.1h2.34v2.3h-2.34zM2047.5 798.1h2.34v2.3h-2.34zM1329.12 800.4h2.34v2.3h-2.34zM1340.82 800.4h2.34v2.3h-2.34zM1382.94 800.4h4.68v2.3h-4.68zM1394.64 800.4h2.34v2.3h-2.34zM1411.02 800.4h4.68v2.3h-4.68zM1420.38 800.4h2.34v2.3h-2.34zM1441.44 800.4h2.34v2.3h-2.34zM1450.8 800.4h2.34v2.3h-2.34zM1455.48 800.4h2.34v2.3h-2.34zM1462.5 800.4h2.34v2.3h-2.34zM1488.24 800.4h2.34v2.3h-2.34zM1553.76 800.4h2.34v2.3h-2.34zM1588.86 800.4h4.68v2.3h-4.68zM1609.92 800.4h2.34v2.3h-2.34zM1628.64 800.4h4.68v2.3h-4.68zM1642.68 800.4h2.34v2.3h-2.34zM1654.38 800.4h2.34v2.3h-2.34zM1888.38 800.4h2.34v2.3h-2.34zM1914.12 800.4h2.34v2.3h-2.34zM1963.26 800.4h2.34v2.3h-2.34zM1967.94 800.4h2.34v2.3h-2.34zM1972.62 800.4h2.34v2.3h-2.34zM1996.02 800.4h2.34v2.3h-2.34zM1319.76 802.7h2.34v2.3h-2.34zM1336.14 802.7h2.34v2.3h-2.34zM1357.2 802.7h2.34v2.3h-2.34zM1361.88 802.7h2.34v2.3h-2.34zM1368.9 802.7h2.34v2.3h-2.34zM1375.92 802.7h2.34v2.3h-2.34zM1380.6 802.7h2.34v2.3h-2.34zM1432.08 802.7h2.34v2.3h-2.34zM1453.14 802.7h2.34v2.3h-2.34zM1467.18 802.7h2.34v2.3h-2.34zM1499.94 802.7h2.34v2.3h-2.34zM1525.68 802.7h4.68v2.3h-4.68zM1535.04 802.7h2.34v2.3h-2.34zM1553.76 802.7h2.34v2.3h-2.34zM1623.96 802.7h4.68v2.3h-4.68zM1647.36 802.7h2.34v2.3h-2.34zM1652.04 802.7h2.34v2.3h-2.34zM1661.4 802.7h2.34v2.3h-2.34zM1689.48 802.7h2.34v2.3h-2.34zM1902.42 802.7h4.68v2.3h-4.68zM1928.16 802.7h2.34v2.3h-2.34zM1946.88 802.7h4.68v2.3h-4.68zM1958.58 802.7h2.34v2.3h-2.34zM1963.26 802.7h2.34v2.3h-2.34zM1972.62 802.7h2.34v2.3h-2.34zM1984.32 802.7h2.34v2.3h-2.34zM2007.72 802.7h2.34v2.3h-2.34zM2012.4 802.7h2.34v2.3h-2.34zM2049.84 802.7h4.68v2.3h-4.68zM2063.88 802.7h2.34v2.3h-2.34zM1324.44 805h2.34v2.3h-2.34zM1352.52 805h2.34v2.3h-2.34zM1361.88 805h4.68v2.3h-4.68zM1368.9 805h2.34v2.3h-2.34zM1396.98 805h4.68v2.3h-4.68zM1436.76 805h2.34v2.3h-2.34zM1446.12 805h2.34v2.3h-2.34zM1457.82 805h2.34v2.3h-2.34zM1464.84 805h2.34v2.3h-2.34zM1530.36 805h2.34v2.3h-2.34zM1535.04 805h2.34v2.3h-2.34zM1549.08 805h2.34v2.3h-2.34zM1570.14 805h2.34v2.3h-2.34zM1579.5 805h2.34v2.3h-2.34zM1600.56 805h2.34v2.3h-2.34zM1614.6 805h7.02v2.3h-7.02zM1649.7 805h2.34v2.3h-2.34zM1661.4 805h2.34v2.3h-2.34zM1666.08 805h2.34v2.3h-2.34zM1944.54 805h2.34v2.3h-2.34zM1956.24 805h2.34v2.3h-2.34zM1972.62 805h2.34v2.3h-2.34zM1979.64 805h2.34v2.3h-2.34zM1996.02 805h2.34v2.3h-2.34zM2010.06 805h2.34v2.3h-2.34zM2026.44 805h2.34v2.3h-2.34zM2052.18 805h2.34v2.3h-2.34zM2061.54 805h2.34v2.3h-2.34zM1308.06 807.3h2.34v2.3h-2.34zM1317.42 807.3h2.34v2.3h-2.34zM1375.92 807.3h4.68v2.3h-4.68zM1406.34 807.3h2.34v2.3h-2.34zM1420.38 807.3h2.34v2.3h-2.34zM1427.4 807.3h2.34v2.3h-2.34zM1434.42 807.3h2.34v2.3h-2.34zM1460.16 807.3h2.34v2.3h-2.34zM1504.62 807.3h2.34v2.3h-2.34zM1528.02 807.3h2.34v2.3h-2.34zM1567.8 807.3h2.34v2.3h-2.34zM1572.48 807.3h2.34v2.3h-2.34zM1628.64 807.3h2.34v2.3h-2.34zM1633.32 807.3h4.68v2.3h-4.68zM1677.78 807.3h4.68v2.3h-4.68zM1684.8 807.3h2.34v2.3h-2.34zM1907.1 807.3h2.34v2.3h-2.34zM1956.24 807.3h2.34v2.3h-2.34zM1965.6 807.3h2.34v2.3h-2.34zM1991.34 807.3h2.34v2.3h-2.34zM2005.38 807.3h2.34v2.3h-2.34zM2028.78 807.3h2.34v2.3h-2.34zM1324.44 809.6h2.34v2.3h-2.34zM1347.84 809.6h2.34v2.3h-2.34zM1411.02 809.6h2.34v2.3h-2.34zM1432.08 809.6h2.34v2.3h-2.34zM1462.5 809.6h4.68v2.3h-4.68zM1471.86 809.6h2.34v2.3h-2.34zM1483.56 809.6h2.34v2.3h-2.34zM1523.34 809.6h2.34v2.3h-2.34zM1530.36 809.6h2.34v2.3h-2.34zM1537.38 809.6h2.34v2.3h-2.34zM1546.74 809.6h4.68v2.3h-4.68zM1572.48 809.6h2.34v2.3h-2.34zM1579.5 809.6h2.34v2.3h-2.34zM1628.64 809.6h2.34v2.3h-2.34zM1640.34 809.6h2.34v2.3h-2.34zM1649.7 809.6h4.68v2.3h-4.68zM1656.72 809.6h2.34v2.3h-2.34zM1677.78 809.6h2.34v2.3h-2.34zM1963.26 809.6h2.34v2.3h-2.34zM1977.3 809.6h4.68v2.3h-4.68zM1366.56 811.9h2.34v2.3h-2.34zM1415.7 811.9h2.34v2.3h-2.34zM1425.06 811.9h2.34v2.3h-2.34zM1462.5 811.9h2.34v2.3h-2.34zM1469.52 811.9h2.34v2.3h-2.34zM1488.24 811.9h2.34v2.3h-2.34zM1495.26 811.9h2.34v2.3h-2.34zM1542.06 811.9h2.34v2.3h-2.34zM1551.42 811.9h2.34v2.3h-2.34zM1560.78 811.9h2.34v2.3h-2.34zM1565.46 811.9h2.34v2.3h-2.34zM1572.48 811.9h4.68v2.3h-4.68zM1602.9 811.9h2.34v2.3h-2.34zM1614.6 811.9h2.34v2.3h-2.34zM1623.96 811.9h2.34v2.3h-2.34zM1628.64 811.9h4.68v2.3h-4.68zM1656.72 811.9h2.34v2.3h-2.34zM1673.1 811.9h2.34v2.3h-2.34zM1682.46 811.9h2.34v2.3h-2.34zM1918.8 811.9h2.34v2.3h-2.34zM1953.9 811.9h2.34v2.3h-2.34zM1972.62 811.9h2.34v2.3h-2.34zM1984.32 811.9h2.34v2.3h-2.34zM2014.74 811.9h2.34v2.3h-2.34zM2031.12 811.9h2.34v2.3h-2.34zM1336.14 814.2h2.34v2.3h-2.34zM1340.82 814.2h2.34v2.3h-2.34zM1385.28 814.2h2.34v2.3h-2.34zM1411.02 814.2h2.34v2.3h-2.34zM1432.08 814.2h2.34v2.3h-2.34zM1546.74 814.2h2.34v2.3h-2.34zM1553.76 814.2h2.34v2.3h-2.34zM1565.46 814.2h2.34v2.3h-2.34zM1619.28 814.2h2.34v2.3h-2.34zM1661.4 814.2h2.34v2.3h-2.34zM1897.74 814.2h2.34v2.3h-2.34zM1918.8 814.2h2.34v2.3h-2.34zM1939.86 814.2h2.34v2.3h-2.34zM2014.74 814.2h2.34v2.3h-2.34zM1411.02 816.5h2.34v2.3h-2.34zM1422.72 816.5h2.34v2.3h-2.34zM1434.42 816.5h2.34v2.3h-2.34zM1448.46 816.5h2.34v2.3h-2.34zM1453.14 816.5h2.34v2.3h-2.34zM1476.54 816.5h2.34v2.3h-2.34zM1504.62 816.5h2.34v2.3h-2.34zM1516.32 816.5h2.34v2.3h-2.34zM1549.08 816.5h2.34v2.3h-2.34zM1588.86 816.5h2.34v2.3h-2.34zM1633.32 816.5h2.34v2.3h-2.34zM1663.74 816.5h2.34v2.3h-2.34zM1680.12 816.5h2.34v2.3h-2.34zM1956.24 816.5h2.34v2.3h-2.34zM1979.64 816.5h2.34v2.3h-2.34zM1305.72 818.8h2.34v2.3h-2.34zM1331.46 818.8h2.34v2.3h-2.34zM1354.86 818.8h2.34v2.3h-2.34zM1425.06 818.8h2.34v2.3h-2.34zM1476.54 818.8h2.34v2.3h-2.34zM1504.62 818.8h2.34v2.3h-2.34zM1535.04 818.8h2.34v2.3h-2.34zM1586.52 818.8h4.68v2.3h-4.68zM1607.58 818.8h2.34v2.3h-2.34zM1652.04 818.8h2.34v2.3h-2.34zM1668.42 818.8h2.34v2.3h-2.34zM1677.78 818.8h2.34v2.3h-2.34zM1689.48 818.8h2.34v2.3h-2.34zM1932.84 818.8h2.34v2.3h-2.34zM2021.76 818.8h2.34v2.3h-2.34zM1322.1 821.1h2.34v2.3h-2.34zM1340.82 821.1h2.34v2.3h-2.34zM1382.94 821.1h2.34v2.3h-2.34zM1387.62 821.1h2.34v2.3h-2.34zM1394.64 821.1h2.34v2.3h-2.34zM1404 821.1h2.34v2.3h-2.34zM1441.44 821.1h2.34v2.3h-2.34zM1460.16 821.1h2.34v2.3h-2.34zM1523.34 821.1h2.34v2.3h-2.34zM1532.7 821.1h2.34v2.3h-2.34zM1546.74 821.1h2.34v2.3h-2.34zM1551.42 821.1h2.34v2.3h-2.34zM1602.9 821.1h4.68v2.3h-4.68zM1628.64 821.1h2.34v2.3h-2.34zM1638 821.1h4.68v2.3h-4.68zM1960.92 821.1h2.34v2.3h-2.34zM1991.34 821.1h2.34v2.3h-2.34zM1399.32 823.4h2.34v2.3h-2.34zM1429.74 823.4h2.34v2.3h-2.34zM1567.8 823.4h2.34v2.3h-2.34zM1626.3 823.4h2.34v2.3h-2.34zM1652.04 823.4h2.34v2.3h-2.34zM1680.12 823.4h2.34v2.3h-2.34zM1930.5 823.4h2.34v2.3h-2.34zM1401.66 825.7h2.34v2.3h-2.34zM1415.7 825.7h2.34v2.3h-2.34zM1441.44 825.7h2.34v2.3h-2.34zM1453.14 825.7h2.34v2.3h-2.34zM1485.9 825.7h2.34v2.3h-2.34zM1506.96 825.7h2.34v2.3h-2.34zM1551.42 825.7h2.34v2.3h-2.34zM1591.2 825.7h2.34v2.3h-2.34zM1612.26 825.7h2.34v2.3h-2.34zM1623.96 825.7h2.34v2.3h-2.34zM1635.66 825.7h2.34v2.3h-2.34zM1336.14 828h2.34v2.3h-2.34zM1373.58 828h2.34v2.3h-2.34zM1413.36 828h2.34v2.3h-2.34zM1457.82 828h2.34v2.3h-2.34zM1485.9 828h2.34v2.3h-2.34zM1495.26 828h2.34v2.3h-2.34zM1528.02 828h2.34v2.3h-2.34zM1546.74 828h2.34v2.3h-2.34zM1581.84 828h2.34v2.3h-2.34zM1645.02 828h2.34v2.3h-2.34zM1652.04 828h2.34v2.3h-2.34zM1689.48 828h2.34v2.3h-2.34zM1399.32 830.3h2.34v2.3h-2.34zM1530.36 830.3h2.34v2.3h-2.34zM1549.08 830.3h2.34v2.3h-2.34zM1614.6 830.3h2.34v2.3h-2.34zM1654.38 830.3h2.34v2.3h-2.34zM1343.16 832.6h2.34v2.3h-2.34zM1521 832.6h2.34v2.3h-2.34zM1563.12 832.6h2.34v2.3h-2.34zM1614.6 832.6h2.34v2.3h-2.34zM1640.34 832.6h2.34v2.3h-2.34zM1663.74 832.6h2.34v2.3h-2.34zM1668.42 832.6h2.34v2.3h-2.34zM1422.72 834.9h2.34v2.3h-2.34zM1616.94 834.9h2.34v2.3h-2.34zM1462.5 837.2h2.34v2.3h-2.34zM1609.92 837.2h2.34v2.3h-2.34zM1684.8 837.2h2.34v2.3h-2.34zM1471.86 839.5h2.34v2.3h-2.34zM1553.76 839.5h2.34v2.3h-2.34zM1404 841.8h2.34v2.3h-2.34zM1488.24 841.8h2.34v2.3h-2.34zM1602.9 844.1h2.34v2.3h-2.34zM1616.94 844.1h2.34v2.3h-2.34zM1640.34 846.4h2.34v2.3h-2.34z"/>
<polygon points="3012,771 3040,771 3034,786 3028,800 3020,788" fill="#fff"/>
<polygon points="3122,771 3138,771 3132,786 3128,792" fill="#fff"/>
<polygon points="3210,771 3232,771 3226,786 3218,792" fill="#fff"/>
<polygon points="3461,771 3472,771 3471,798 3462,798" fill="#fff"/>
<polygon points="3316,769 3324,769 3323,798 3317,798" fill="#fff"/>
<polygon points="3510,775 3513,775 3513,805 3510,805" fill="#fff"/>
<path fill="#ffb6c1" d="M2960.1 810.7h2.34v18.4h-2.34zM2967.12 790h2.34v9.2h-2.34zM2969.46 790h2.34v4.6h-2.34zM2969.46 801.5h2.34v13.8h-2.34zM2971.8 813h2.34v11.5h-2.34zM2974.14 790h2.34v4.6h-2.34zM2974.14 801.5h2.34v18.4h-2.34zM2976.48 801.5h2.34v4.6h-2.34zM2976.48 817.6h2.34v13.8h-2.34zM2978.82 790h2.34v20.7h-2.34zM2978.82 813h2.34v6.9h-2.34zM2981.16 790h2.34v4.6h-2.34zM2981.16 817.6h2.34v13.8h-2.34zM2988.18 790h2.34v18.4h-2.34zM2988.18 810.7h2.34v13.8h-2.34zM2990.52 790h2.34v18.4h-2.34zM2995.2 819.9h2.34v6.9h-2.34zM3002.22 790h2.34v9.2h-2.34zM3002.22 801.5h2.34v11.5h-2.34zM3006.9 790h2.34v18.4h-2.34zM3009.24 778h2.34v9.2h-2.34zM3009.24 801h2.34v4.6h-2.34zM3011.58 801h2.34v18.4h-2.34zM3013.92 805.6h2.34v20.7h-2.34zM3016.26 778h2.34v9.2h-2.34zM3016.26 798.7h2.34v11.5h-2.34zM3018.6 778h2.34v13.8h-2.34zM3018.6 803.3h2.34v9.2h-2.34zM3018.6 814.8h2.34v13.8h-2.34zM3020.94 778h2.34v13.8h-2.34zM3023.28 778h2.34v11.5h-2.34zM3023.28 796.4h2.34v11.5h-2.34zM3025.62 803.3h2.34v11.5h-2.34zM3032.64 805.6h2.34v6.9h-2.34zM3032.64 814.8h2.34v6.9h-2.34zM3034.98 778h2.34v9.2h-2.34zM3034.98 794.1h2.34v4.6h-2.34zM3034.98 810.2h2.34v20.7h-2.34zM3037.32 778h2.34v13.8h-2.34zM3037.32 796.4h2.34v4.6h-2.34zM3042 778h2.34v16.1h-2.34zM3042 803.3h2.34v6.9h-2.34zM3044.34 778h2.34v18.4h-2.34zM3046.68 778h2.34v9.2h-2.34zM3046.68 796.4h2.34v18.4h-2.34zM3049.02 803.3h2.34v4.6h-2.34zM3051.36 796.4h2.34v18.4h-2.34zM3084.12 790h2.34v11.5h-2.34zM3086.46 790h2.34v11.5h-2.34zM3088.8 790h2.34v11.5h-2.34zM3091.14 803.8h2.34v20.7h-2.34zM3095.82 790h2.34v6.9h-2.34zM3095.82 803.8h2.34v4.6h-2.34zM3095.82 819.9h2.34v11.5h-2.34zM3098.16 790h2.34v18.4h-2.34zM3100.5 790h2.34v20.7h-2.34zM3109.86 810.7h2.34v13.8h-2.34zM3112.2 806.1h2.34v18.4h-2.34zM3114.54 790h2.34v13.8h-2.34zM3116.88 817.6h2.34v4.6h-2.34zM3119.22 810.7h2.34v6.9h-2.34zM3123.9 810.7h2.34v16.1h-2.34zM3128.58 798h2.34v20.7h-2.34zM3128.58 821h2.34v6.9h-2.34zM3133.26 798h2.34v9.2h-2.34zM3133.26 818.7h2.34v11.5h-2.34zM3142.62 809.5h2.34v4.6h-2.34zM3156.66 798h2.34v11.5h-2.34zM3163.68 816.4h2.34v16.1h-2.34zM3205.8 792h2.34v13.8h-2.34zM3212.82 792h2.34v13.8h-2.34zM3222.18 792h2.34v20.7h-2.34zM3224.52 792h2.34v6.9h-2.34zM3226.86 819.6h2.34v9.2h-2.34zM3229.2 826.5h2.34v9.2h-2.34zM3231.54 792h2.34v20.7h-2.34zM3233.88 792h2.34v11.5h-2.34zM3233.88 817.3h2.34v9.2h-2.34zM3236.22 792h2.34v13.8h-2.34zM3236.22 819.6h2.34v4.6h-2.34zM3238.56 792h2.34v13.8h-2.34zM3254.94 821.9h2.34v18.4h-2.34zM3259.62 805.8h2.34v20.7h-2.34zM3261.96 792h2.34v16.1h-2.34zM3266.64 824.2h2.34v18.4h-2.34zM3276 792h2.34v4.6h-2.34zM3285.36 815h2.34v11.5h-2.34zM3285.36 828.8h2.34v16.1h-2.34zM3297.06 792h2.34v18.4h-2.34zM3297.06 819.6h2.34v18.4h-2.34zM3306.42 811.8h2.34v9.2h-2.34zM3308.76 798h2.34v11.5h-2.34zM3311.1 798h2.34v11.5h-2.34zM3313.44 798h2.34v20.7h-2.34zM3318.12 798h2.34v6.9h-2.34zM3320.46 798h2.34v18.4h-2.34zM3329.82 798h2.34v18.4h-2.34zM3336.84 798h2.34v11.5h-2.34zM3341.52 798h2.34v20.7h-2.34zM3343.86 798h2.34v9.2h-2.34zM3348.54 798h2.34v16.1h-2.34zM3458.52 798h2.34v18.4h-2.34zM3460.86 798h2.34v16.1h-2.34zM3467.88 798h2.34v13.8h-2.34zM3470.22 798h2.34v18.4h-2.34zM3510 806h2.34v4.6h-2.34zM3510 817.5h2.34v6.9h-2.34zM3531.06 804h2.34v20.7h-2.34zM3533.4 804h2.34v9.2h-2.34zM3540.42 804h2.34v20.7h-2.34zM3545.1 804h2.34v9.2h-2.34zM3563.82 820.5h2.34v11.5h-2.34zM3566.16 809h2.34v18.4h-2.34zM3568.5 809h2.34v18.4h-2.34zM3575.52 809h2.34v13.8h-2.34zM3577.86 809h2.34v6.9h-2.34zM3580.2 809h2.34v11.5h-2.34zM3582.54 809h2.34v18.4h-2.34zM3629.34 815h2.34v9.2h-2.34zM3631.68 815h2.34v11.5h-2.34zM2283.84 744h2.34v11.5h-2.34zM2286.18 744h2.34v11.5h-2.34zM2288.52 744h2.34v16.1h-2.34zM2290.86 744h2.34v18.4h-2.34zM2300.22 769.3h2.34v6.9h-2.34zM2302.56 760.1h2.34v18.4h-2.34zM2304.9 744h2.34v4.6h-2.34zM2304.9 780.8h2.34v4.6h-2.34zM2307.24 744h2.34v4.6h-2.34zM2311.92 744h2.34v16.1h-2.34zM2311.92 767h2.34v6.9h-2.34zM2314.26 767h2.34v9.2h-2.34zM2316.6 762.4h2.34v18.4h-2.34zM2321.28 744h2.34v6.9h-2.34zM2328.3 744h2.34v18.4h-2.34zM2330.64 744h2.34v9.2h-2.34zM2330.64 762.4h2.34v16.1h-2.34zM2330.64 780.8h2.34v13.8h-2.34z"/>
<path fill="#00ffff" d="M947.7 404.62h2.34v15.17h-2.34zM950.04 404.48h2.34v22.88h-2.34zM952.38 405.05h2.34v28.17h-2.34zM954.72 402.92h2.34v31.05h-2.34zM957.06 402.31h2.34v38.19h-2.34zM959.4 403.31h2.34v38.02h-2.34zM961.74 398.57h2.34v47.08h-2.34zM964.08 400.18h2.34v49.17h-2.34zM966.42 372.68h2.34v78.53h-2.34zM968.76 404.5h2.34v50.4h-2.34zM971.1 403.09h2.34v53.12h-2.34zM973.44 402.28h2.34v75.82h-2.34zM975.78 401.45h2.34v55.23h-2.34zM978.12 404.52h2.34v60h-2.34zM980.46 403.68h2.34v57.82h-2.34zM982.8 404.67h2.34v56.79h-2.34zM985.14 401.52h2.34v60.03h-2.34zM987.48 370.78h2.34v87.24h-2.34zM989.82 402.81h2.34v54.49h-2.34zM992.16 399.67h2.34v61.17h-2.34zM994.5 377.74h2.34v82.36h-2.34zM996.84 399.56h2.34v58.51h-2.34zM999.18 401.23h2.34v69.28h-2.34zM1001.52 378.83h2.34v77.89h-2.34zM1003.86 397.65h2.34v75.3h-2.34zM1006.2 397.83h2.34v57.91h-2.34zM1008.54 400.46h2.34v54.81h-2.34zM1010.88 391.79h2.34v80.57h-2.34zM1013.22 387.27h2.34v68.21h-2.34zM1015.56 369.75h2.34v84.22h-2.34zM1017.9 346.19h2.34v121.11h-2.34zM1020.24 334.87h2.34v129.7h-2.34zM1022.58 300.49h2.34v161.14h-2.34zM1024.92 324.38h2.34v139.93h-2.34zM1027.26 318.93h2.34v150.51h-2.34zM1029.6 320.72h2.34v169.04h-2.34zM1031.94 320.27h2.34v156.22h-2.34zM1034.28 323.23h2.34v158.48h-2.34zM1036.62 324.48h2.34v168.95h-2.34zM1038.96 300.17h2.34v188.7h-2.34zM1041.3 306.32h2.34v183.04h-2.34zM1043.64 328.87h2.34v161.18h-2.34zM1045.98 328.12h2.34v164.1h-2.34zM1048.32 325.51h2.34v167.72h-2.34zM1050.66 324.02h2.34v169.16h-2.34zM1053 320.26h2.34v171.58h-2.34zM1055.34 318.21h2.34v182.37h-2.34zM1057.68 315.1h2.34v181.39h-2.34zM1060.02 292.81h2.34v203.01h-2.34zM1062.36 302.87h2.34v190.16h-2.34zM1064.7 311.14h2.34v184.49h-2.34zM1067.04 307.74h2.34v187.6h-2.34zM1069.38 308.75h2.34v188.4h-2.34zM1071.72 310.1h2.34v185.43h-2.34zM1074.06 309.15h2.34v182.88h-2.34zM1076.4 304.25h2.34v186.63h-2.34zM1078.74 289.09h2.34v202.36h-2.34zM1081.08 304.44h2.34v190.55h-2.34zM1083.42 296.01h2.34v199.94h-2.34zM1085.76 309.21h2.34v184.75h-2.34zM1088.1 310.82h2.34v200.02h-2.34zM1090.44 299.84h2.34v196.84h-2.34zM1092.78 312.16h2.34v181.58h-2.34zM1095.12 308.96h2.34v186.88h-2.34zM1097.46 313.69h2.34v183.89h-2.34zM1099.8 317.32h2.34v178.17h-2.34zM1102.14 305.35h2.34v191.52h-2.34zM1104.48 316.62h2.34v180.15h-2.34zM1106.82 316.55h2.34v180.65h-2.34zM1109.16 316.73h2.34v180.49h-2.34zM1111.5 315.66h2.34v182.92h-2.34zM1113.84 320.61h2.34v188.22h-2.34zM1116.18 320.66h2.34v194h-2.34zM1118.52 326.09h2.34v172.28h-2.34zM1120.86 333.59h2.34v162.65h-2.34zM1123.2 332.19h2.34v165.49h-2.34zM1125.54 340.06h2.34v154.99h-2.34zM1127.88 322.84h2.34v175.92h-2.34zM1130.22 347.87h2.34v149.52h-2.34zM1132.56 362.47h2.34v136.9h-2.34zM1134.9 371.89h2.34v126.13h-2.34zM1137.24 381.29h2.34v117.97h-2.34zM1139.58 382.87h2.34v114.84h-2.34zM1141.92 386.05h2.34v110.8h-2.34zM1144.26 387.92h2.34v108.86h-2.34zM1146.6 389.44h2.34v124.94h-2.34zM1148.94 391.58h2.34v105.48h-2.34zM1151.28 394.14h2.34v102.81h-2.34zM1153.62 398.44h2.34v96.76h-2.34zM1155.96 399.15h2.34v96.04h-2.34zM1158.3 402.5h2.34v90.87h-2.34zM1160.64 403.66h2.34v89.96h-2.34zM1162.98 401.16h2.34v89.92h-2.34zM1165.32 384.33h2.34v106.18h-2.34zM1167.66 401.28h2.34v86.66h-2.34zM1170 385.08h2.34v108h-2.34zM1172.34 400.48h2.34v92.38h-2.34zM1174.68 403.38h2.34v87.67h-2.34zM1177.02 403.67h2.34v86.79h-2.34zM1179.36 401.49h2.34v92.35h-2.34zM1181.7 400.99h2.34v92.16h-2.34zM1184.04 400.77h2.34v92.95h-2.34zM1186.38 402.24h2.34v90.43h-2.34zM1188.72 403.82h2.34v88.53h-2.34zM1191.06 329.51h2.34v162.93h-2.34zM1193.4 269.66h2.34v224.52h-2.34zM1195.74 263.72h2.34v231.03h-2.34zM1198.08 259.9h2.34v243.51h-2.34zM1200.42 255.31h2.34v239.28h-2.34zM1202.76 252.05h2.34v242.98h-2.34zM1205.1 252.1h2.34v250.23h-2.34zM1207.44 253.29h2.34v239.07h-2.34zM1209.78 250.53h2.34v244.42h-2.34zM1212.12 248.78h2.34v245.3h-2.34zM1214.46 249h2.34v242.29h-2.34zM1216.8 251.09h2.34v241.86h-2.34zM1219.14 252.05h2.34v243.63h-2.34zM1221.48 250.28h2.34v254.02h-2.34zM1223.82 253.23h2.34v243.78h-2.34zM1226.16 252.11h2.34v244.12h-2.34zM1228.5 243.58h2.34v268.71h-2.34zM1230.84 255.89h2.34v236.73h-2.34zM1233.18 254.87h2.34v248.11h-2.34zM1235.52 254.22h2.34v242.28h-2.34zM1237.86 259.87h2.34v237.13h-2.34zM1240.2 258.2h2.34v238.13h-2.34zM1242.54 258.99h2.34v239.61h-2.34zM1244.88 243.83h2.34v253.54h-2.34zM1247.22 241.39h2.34v254.38h-2.34zM1249.56 261.61h2.34v238.38h-2.34zM1251.9 260.67h2.34v240.27h-2.34zM1254.24 260.4h2.34v237.3h-2.34zM1256.58 261.39h2.34v245.45h-2.34zM1258.92 260.09h2.34v241.85h-2.34zM1261.26 262.25h2.34v241.1h-2.34zM1263.6 262.93h2.34v240.1h-2.34zM1265.94 264.7h2.34v235.34h-2.34zM1268.28 265.82h2.34v235.16h-2.34zM1270.62 267.57h2.34v236.49h-2.34zM1272.96 272.09h2.34v235.51h-2.34zM1275.3 271.78h2.34v236.82h-2.34zM1277.64 271.32h2.34v236.51h-2.34zM1279.98 272.37h2.34v237.35h-2.34zM1282.32 274.41h2.34v233.79h-2.34zM1284.66 280.89h2.34v227.55h-2.34zM1287 277.9h2.34v227.01h-2.34zM1289.34 280.28h2.34v226.13h-2.34zM1291.68 283.79h2.34v222.81h-2.34zM1294.02 287.03h2.34v218.11h-2.34zM1296.36 290.99h2.34v213.55h-2.34zM1298.7 295.49h2.34v205.11h-2.34zM1301.04 296.81h2.34v205.65h-2.34zM1303.38 299.04h2.34v99.61h-2.34zM1303.38 426.69h2.34v75.33h-2.34zM1305.72 301.43h2.34v26.95h-2.34zM1305.72 431.84h2.34v73.25h-2.34zM1308.06 434.63h2.34v79.98h-2.34zM1310.4 437.19h2.34v62.68h-2.34zM1312.74 438.57h2.34v58.49h-2.34zM1315.08 441.28h2.34v55.68h-2.34zM999.18 220.82h2.34v73.53h-2.34zM1001.52 215.96h2.34v84.41h-2.34zM1003.86 238.28h2.34v68.02h-2.34zM1006.2 234.4h2.34v78.93h-2.34zM1008.54 233.35h2.34v84.6h-2.34zM1010.88 231.09h2.34v93.9h-2.34zM1013.22 227.44h2.34v101.23h-2.34zM1015.56 226.32h2.34v109.3h-2.34zM1017.9 230.73h2.34v104.82h-2.34zM1020.24 229.53h2.34v105.25h-2.34zM1022.58 234.89h2.34v97.68h-2.34zM1024.92 232.35h2.34v113.93h-2.34zM1027.26 235.28h2.34v88.9h-2.34zM1029.6 238.7h2.34v52.21h-2.34zM1029.6 305.19h2.34v16.42h-2.34zM1031.94 240.36h2.34v47.93h-2.34zM1034.28 240.85h2.34v58.61h-2.34zM1036.62 247.88h2.34v35.19h-2.34zM1038.96 247.14h2.34v31.38h-2.34zM1041.3 246.87h2.34v33.39h-2.34zM1043.64 224.32h2.34v53.87h-2.34zM1170 250.03h2.34v10.75h-2.34zM1172.34 233.27h2.34v26.07h-2.34zM1174.68 241.65h2.34v17.31h-2.34zM1177.02 239.05h2.34v21.45h-2.34zM1179.36 239.9h2.34v18.54h-2.34zM1181.7 237.9h2.34v22.87h-2.34zM1184.04 227.31h2.34v33.66h-2.34zM1186.38 236.44h2.34v25h-2.34zM1188.72 264.51h2.34v6.99h-2.34zM1315.08 253.09h2.34v86.55h-2.34zM1317.42 250.95h2.34v186.01h-2.34zM1319.76 248.59h2.34v188.05h-2.34zM1322.1 247.39h2.34v199.83h-2.34zM1324.44 250.15h2.34v200h-2.34zM1326.78 242.32h2.34v212.68h-2.34zM1329.12 245.73h2.34v215.67h-2.34zM1331.46 247.11h2.34v221.63h-2.34zM1333.8 245.4h2.34v230.53h-2.34zM1336.14 246.72h2.34v236.21h-2.34zM1338.48 244.63h2.34v246.13h-2.34zM1340.82 245.03h2.34v255.62h-2.34zM1343.16 245.54h2.34v262.68h-2.34zM1345.5 246.74h2.34v269.72h-2.34zM1347.84 247.06h2.34v278.16h-2.34zM1350.18 248.89h2.34v277.66h-2.34zM1352.52 247.56h2.34v283.94h-2.34zM1354.86 245.99h2.34v281.34h-2.34zM1357.2 245.71h2.34v285.17h-2.34zM1359.54 243.84h2.34v293.93h-2.34zM1361.88 243.43h2.34v299.37h-2.34zM1364.22 242.09h2.34v303.46h-2.34zM1366.56 243.3h2.34v314.76h-2.34zM1368.9 241.05h2.34v310.72h-2.34zM1371.24 240.84h2.34v314.06h-2.34zM1373.58 240.35h2.34v317.2h-2.34zM1375.92 242.89h2.34v323.04h-2.34zM1378.26 239.77h2.34v330.37h-2.34zM1380.6 231.39h2.34v342.65h-2.34zM1382.94 240.28h2.34v337.52h-2.34zM1385.28 240.41h2.34v342.98h-2.34zM1387.62 238.51h2.34v349.12h-2.34zM1389.96 239.38h2.34v353.88h-2.34zM1392.3 231.82h2.34v360.93h-2.34zM1394.64 238.52h2.34v363.56h-2.34zM1396.98 236.91h2.34v363.12h-2.34zM1399.32 229.24h2.34v375.37h-2.34zM1401.66 236.54h2.34v371.18h-2.34zM1404 235.74h2.34v375.41h-2.34zM1406.34 235.65h2.34v376.01h-2.34zM1408.68 235.66h2.34v379.27h-2.34zM1411.02 235.36h2.34v376.8h-2.34zM1413.36 235.77h2.34v376.1h-2.34zM1415.7 236.11h2.34v380.88h-2.34zM1418.04 234.68h2.34v383.93h-2.34zM1420.38 233.4h2.34v382.03h-2.34zM1422.72 233.99h2.34v383.98h-2.34zM1425.06 234.36h2.34v387.02h-2.34zM1427.4 236.37h2.34v377.96h-2.34zM1429.74 235.82h2.34v380.96h-2.34zM1432.08 236.69h2.34v375.76h-2.34zM1434.42 236.9h2.34v377.37h-2.34zM1436.76 237.33h2.34v378.76h-2.34zM1439.1 237.01h2.34v376.86h-2.34zM1441.44 236.89h2.34v378.72h-2.34zM1443.78 237.46h2.34v378.78h-2.34zM1446.12 238.23h2.34v378.05h-2.34zM1448.46 239.2h2.34v374.34h-2.34zM1450.8 240.42h2.34v375.79h-2.34zM1453.14 239.73h2.34v375.1h-2.34zM1455.48 239.96h2.34v372.44h-2.34zM1457.82 241.01h2.34v370.08h-2.34zM1460.16 243.17h2.34v369.88h-2.34zM1462.5 242.83h2.34v371.85h-2.34zM1464.84 242.41h2.34v370.29h-2.34zM1467.18 242.38h2.34v370.28h-2.34zM1469.52 244.48h2.34v369.16h-2.34zM1471.86 245.75h2.34v364.4h-2.34zM1474.2 246.25h2.34v365h-2.34zM1476.54 245.68h2.34v367.05h-2.34zM1478.88 246.06h2.34v366.54h-2.34zM1481.22 246.4h2.34v366.07h-2.34zM1483.56 250.5h2.34v361.92h-2.34zM1485.9 248.41h2.34v375.5h-2.34zM1488.24 249.83h2.34v367.13h-2.34zM1490.58 251.71h2.34v365.95h-2.34zM1492.92 254.39h2.34v361.42h-2.34zM1495.26 252.92h2.34v361.2h-2.34zM1497.6 252.9h2.34v362.59h-2.34zM1499.94 255.78h2.34v362.57h-2.34zM1502.28 249.7h2.34v368.24h-2.34zM1504.62 256.79h2.34v364.33h-2.34zM1506.96 260h2.34v360.68h-2.34zM1509.3 257.88h2.34v362.99h-2.34zM1511.64 259.4h2.34v363.11h-2.34zM1513.98 260.43h2.34v360.77h-2.34zM1516.32 262.19h2.34v359.97h-2.34zM1518.66 263.16h2.34v361.88h-2.34zM1521 266.55h2.34v359.6h-2.34zM1523.34 268.9h2.34v355.17h-2.34zM1525.68 271.11h2.34v348.62h-2.34zM1528.02 268.35h2.34v354.7h-2.34zM1530.36 267.98h2.34v358.56h-2.34zM1532.7 271.04h2.34v357.87h-2.34zM1535.04 270.77h2.34v359.4h-2.34zM1537.38 271.77h2.34v361.29h-2.34zM1539.72 274.35h2.34v358.86h-2.34zM1542.06 266.93h2.34v368.68h-2.34zM1544.4 267.75h2.34v367.07h-2.34zM1546.74 279.96h2.34v354.34h-2.34zM1549.08 265.6h2.34v367.83h-2.34zM1551.42 278.39h2.34v359.97h-2.34zM1553.76 277.96h2.34v359.52h-2.34zM1556.1 277.23h2.34v359.35h-2.34zM1558.44 269.67h2.34v367.77h-2.34zM1560.78 278.93h2.34v353.16h-2.34zM1563.12 269.82h2.34v360.4h-2.34zM1565.46 276.1h2.34v357.96h-2.34zM1567.8 276.03h2.34v357.99h-2.34zM1570.14 276.6h2.34v357.72h-2.34zM1572.48 277.7h2.34v356.36h-2.34zM1574.82 279.79h2.34v353.34h-2.34zM1577.16 277.46h2.34v355.51h-2.34zM1579.5 277.7h2.34v355.78h-2.34zM1581.84 277.09h2.34v363.34h-2.34zM1584.18 275.06h2.34v358.92h-2.34zM1586.52 275.33h2.34v355.98h-2.34zM1588.86 276.6h2.34v354.65h-2.34zM1591.2 275.26h2.34v355.39h-2.34zM1593.54 273.09h2.34v357.78h-2.34zM1595.88 273.42h2.34v357.22h-2.34zM1598.22 272.29h2.34v358.53h-2.34zM1600.56 273.92h2.34v357.16h-2.34zM1602.9 273.14h2.34v357.4h-2.34zM1605.24 271.65h2.34v358.13h-2.34zM1607.58 265.5h2.34v358.46h-2.34zM1609.92 273.43h2.34v353.51h-2.34zM1612.26 272.81h2.34v358.77h-2.34zM1614.6 273.94h2.34v367.17h-2.34zM1616.94 270.1h2.34v375.42h-2.34zM1619.28 270.41h2.34v378.49h-2.34zM1621.62 272.03h2.34v379.92h-2.34zM1623.96 275.33h2.34v374.95h-2.34zM1626.3 278.23h2.34v314.09h-2.34zM1628.64 279.51h2.34v279.33h-2.34zM1630.98 279.12h2.34v278.27h-2.34zM1633.32 281.26h2.34v276.95h-2.34zM1635.66 283.07h2.34v273.47h-2.34zM1638 285.36h2.34v271.93h-2.34zM1640.34 287.6h2.34v266.07h-2.34zM1642.68 289.52h2.34v266.07h-2.34zM1645.02 294.23h2.34v260.17h-2.34zM1647.36 294.21h2.34v258.05h-2.34zM1649.7 298.44h2.34v253.85h-2.34zM1652.04 300.2h2.34v249.94h-2.34zM1654.38 300.87h2.34v249.65h-2.34zM1656.72 299.03h2.34v251.14h-2.34zM1659.06 301.36h2.34v248.84h-2.34zM1661.4 303.52h2.34v243.33h-2.34zM1663.74 304.62h2.34v241.28h-2.34zM1666.08 307.2h2.34v240.24h-2.34zM1668.42 310.62h2.34v234.92h-2.34zM1670.76 294.1h2.34v250.25h-2.34zM1673.1 309.25h2.34v232.68h-2.34zM1675.44 310.51h2.34v230.13h-2.34zM1677.78 312.83h2.34v231.41h-2.34zM1680.12 314.18h2.34v228.11h-2.34zM1682.46 315.69h2.34v226.21h-2.34zM1684.8 317.76h2.34v223.91h-2.34zM1687.14 336.62h2.34v201.01h-2.34zM1689.48 361.02h2.34v177.61h-2.34zM1691.82 413.13h2.34v122.81h-2.34zM1694.16 453.06h2.34v79.48h-2.34zM1696.5 454.43h2.34v84.57h-2.34zM1698.84 457.2h2.34v82.27h-2.34zM1701.18 458.54h2.34v77.81h-2.34zM1703.52 459.62h2.34v78.28h-2.34zM1705.86 460.56h2.34v80.5h-2.34zM1708.2 461.73h2.34v81.9h-2.34zM1710.54 466.03h2.34v80.88h-2.34zM1712.88 465.8h2.34v78.18h-2.34zM1715.22 468.61h2.34v74.67h-2.34zM1717.56 469.9h2.34v76.16h-2.34zM1719.9 471.75h2.34v72.96h-2.34zM1722.24 471.42h2.34v76.56h-2.34zM1724.58 472.86h2.34v72.45h-2.34zM1726.92 469.53h2.34v73.16h-2.34zM1729.26 467.47h2.34v71.85h-2.34zM1731.6 465.41h2.34v78.28h-2.34zM1733.94 462.82h2.34v71.54h-2.34zM1736.28 460.71h2.34v68.33h-2.34zM1738.62 448.08h2.34v74.73h-2.34zM1740.96 470.4h2.34v52.57h-2.34zM1743.3 507.21h2.34v18.77h-2.34zM1841.58 514.96h2.34v20.49h-2.34zM1843.92 497.53h2.34v40.03h-2.34zM1846.26 485.49h2.34v58.48h-2.34zM1848.6 486.55h2.34v58.78h-2.34zM1850.94 487.79h2.34v60.13h-2.34zM1853.28 488.99h2.34v65.08h-2.34zM1855.62 503.61h2.34v56.44h-2.34zM1857.96 499.03h2.34v60.39h-2.34zM1860.3 505.71h2.34v53.31h-2.34zM1862.64 501.51h2.34v58.67h-2.34zM1864.98 501.16h2.34v60.07h-2.34zM1867.32 501.61h2.34v61.36h-2.34zM1869.66 499.38h2.34v67.1h-2.34zM1872 499.3h2.34v66.91h-2.34zM1874.34 498.36h2.34v70.3h-2.34zM1876.68 497.93h2.34v71.51h-2.34zM1879.02 487.32h2.34v82.71h-2.34zM1881.36 490.2h2.34v83.2h-2.34zM1883.7 482.37h2.34v97.69h-2.34zM1886.04 475.79h2.34v109.98h-2.34zM1888.38 468.26h2.34v102.2h-2.34zM1890.72 463.17h2.34v107.16h-2.34zM1893.06 461.8h2.34v117.41h-2.34zM1895.4 460.13h2.34v109.12h-2.34zM1897.74 458.74h2.34v126.15h-2.34zM1900.08 435.58h2.34v133.93h-2.34zM1902.42 458.21h2.34v113.33h-2.34zM1904.76 455.16h2.34v112.64h-2.34zM1907.1 456.34h2.34v108.85h-2.34zM1909.44 461.57h2.34v103.21h-2.34zM1911.78 468.12h2.34v93.99h-2.34zM1914.12 468.39h2.34v94.45h-2.34zM1916.46 466.89h2.34v100.17h-2.34zM1918.8 466.64h2.34v106.93h-2.34zM1921.14 469.9h2.34v114.44h-2.34zM1923.48 469.56h2.34v122.85h-2.34zM1925.82 470.15h2.34v114.59h-2.34zM1928.16 469.24h2.34v108.46h-2.34zM1930.5 469.76h2.34v97.81h-2.34zM1932.84 463.28h2.34v95.04h-2.34zM1935.18 472.09h2.34v83.8h-2.34zM1937.52 472.28h2.34v80.71h-2.34zM1939.86 472.24h2.34v94.88h-2.34zM1942.2 469.83h2.34v85.57h-2.34zM1944.54 470.52h2.34v82.62h-2.34zM1946.88 470.01h2.34v84.71h-2.34zM1949.22 470.34h2.34v83.27h-2.34zM1951.56 473.58h2.34v77.65h-2.34zM1953.9 475.95h2.34v74.82h-2.34zM1956.24 473.43h2.34v76.71h-2.34zM1958.58 473.59h2.34v73.25h-2.34zM1960.92 470.98h2.34v75.15h-2.34zM1963.26 471.9h2.34v75.61h-2.34zM1965.6 470.98h2.34v74.31h-2.34zM1967.94 473.39h2.34v70.13h-2.34zM1970.28 472.4h2.34v70.93h-2.34zM1972.62 472.37h2.34v68.65h-2.34zM1974.96 471.98h2.34v69.41h-2.34zM1977.3 471.89h2.34v70.83h-2.34zM1979.64 472.51h2.34v61.83h-2.34zM1981.98 472.11h2.34v74.18h-2.34zM1984.32 473.07h2.34v59.25h-2.34zM1986.66 473.12h2.34v61.62h-2.34zM1989 474.23h2.34v61.3h-2.34zM1991.34 473.89h2.34v61.77h-2.34zM1993.68 475.6h2.34v60.44h-2.34zM1996.02 473.12h2.34v63.17h-2.34zM1998.36 475.21h2.34v60.61h-2.34zM2000.7 476.2h2.34v59.55h-2.34zM2003.04 466.47h2.34v39.18h-2.34zM2003.04 512.22h2.34v21.82h-2.34zM2005.38 456.27h2.34v48.24h-2.34zM2005.38 504.52h2.34v30.81h-2.34zM2007.72 477.73h2.34v23.98h-2.34zM2007.72 514.99h2.34v19.96h-2.34zM2010.06 483.76h2.34v16.87h-2.34zM2010.06 516.92h2.34v19.36h-2.34zM2012.4 488.02h2.34v8.81h-2.34zM2012.4 522.53h2.34v12.37h-2.34zM2014.74 489.03h2.34v5.04h-2.34zM2017.08 483.46h2.34v7.37h-2.34zM2019.42 491.18h2.34v2.25h-2.34zM2021.76 489.03h2.34v7.12h-2.34zM2021.76 532.86h2.34v3.89h-2.34zM2024.1 474.15h2.34v20.16h-2.34zM2024.1 533.12h2.34v1.87h-2.34zM2026.44 491.87h2.34v3.41h-2.34zM2026.44 513.92h2.34v22.12h-2.34zM2028.78 491.05h2.34v3.34h-2.34zM2031.12 489.63h2.34v6.54h-2.34zM2031.12 532.67h2.34v4.42h-2.34zM2033.46 534.5h2.34v1.48h-2.34zM2208.96 487.41h2.34v53.84h-2.34zM2211.3 484.14h2.34v57.4h-2.34zM2213.64 475.97h2.34v64.49h-2.34zM2215.98 479.4h2.34v59.92h-2.34zM2218.32 477.69h2.34v62.25h-2.34zM2220.66 476.54h2.34v62.57h-2.34zM2223 471.37h2.34v67.03h-2.34zM2225.34 468.49h2.34v81.89h-2.34zM2227.68 488.28h2.34v45.39h-2.34zM2230.02 490.14h2.34v39.96h-2.34zM2232.36 492.79h2.34v33.77h-2.34zM2234.7 492.65h2.34v29.06h-2.34zM2237.04 491.75h2.34v28.28h-2.34zM2239.38 488.74h2.34v36.95h-2.34zM2241.72 499.85h2.34v20.9h-2.34zM2244.06 518.06h2.34v1.24h-2.34zM1137.24 277.49h2.34v46h-2.34zM1139.58 315.43h2.34v36.8h-2.34zM1144.26 370.75h2.34v41.4h-2.34zM1146.6 301.51h2.34v11.5h-2.34zM1148.94 264.25h2.34v32.2h-2.34zM1153.62 306.85h2.34v27.6h-2.34zM1158.3 373.94h2.34v36.8h-2.34zM1160.64 323.45h2.34v27.6h-2.34zM1165.32 315.19h2.34v13.8h-2.34zM1167.66 310.7h2.34v29.9h-2.34zM1167.66 359h2.34v11.5h-2.34zM1177.02 307.92h2.34v11.5h-2.34zM1179.36 297.2h2.34v11.5h-2.34zM1179.36 320.2h2.34v43.7h-2.34zM1181.7 283.42h2.34v18.4h-2.34zM1045.98 305.75h2.34v16.1h-2.34zM1048.32 272.25h2.34v20.7h-2.34zM985.14 345.62h2.34v20.7h-2.34zM987.48 359h2.34v16.1h-2.34zM989.82 344.79h2.34v16.1h-2.34zM989.82 393.09h2.34v11.5h-2.34zM992.16 346.26h2.34v20.7h-2.34zM992.16 376.16h2.34v23h-2.34zM994.5 393.76h2.34v13.8h-2.34zM996.84 365.04h2.34v32.2h-2.34zM999.18 368.72h2.34v25.3h-2.34zM1001.52 366.64h2.34v32.2h-2.34zM1006.2 355.3h2.34v11.5h-2.34z"/>
<path fill="#fff" d="M957.06 425.16h2.34v7.06h-2.34zM989.82 409.65h2.34v22.27h-2.34zM1085.76 405.2h2.34v13.57h-2.34zM1130.22 378.65h2.34v27.63h-2.34zM1141.92 459.02h2.34v10.17h-2.34zM1200.42 329.89h2.34v39.82h-2.34zM1221.48 416.39h2.34v33.1h-2.34zM1244.88 310.23h2.34v7.4h-2.34zM1268.28 449.68h2.34v27.82h-2.34zM1275.3 432.54h2.34v14.24h-2.34zM1303.38 311.94h2.34v8.41h-2.34zM1010.88 278.64h2.34v18.61h-2.34zM1020.24 310.21h2.34v6.91h-2.34zM1024.92 288.58h2.34v26.08h-2.34zM1036.62 264.81h2.34v6.87h-2.34zM1506.96 582.25h2.34v19.45h-2.34zM1588.86 503.38h2.34v38.83h-2.34zM1605.24 326.09h2.34v27.72h-2.34zM1701.18 493.25h2.34v11.3h-2.34zM1879.02 511.01h2.34v8.82h-2.34zM1935.18 479.44h2.34v35.91h-2.34zM2005.38 512.68h2.34v18.88h-2.34zM1001.52 245.86h2.34v29.9h-2.34zM1001.52 287.26h2.34v29.9h-2.34zM1001.52 324.06h2.34v13.8h-2.34zM1003.86 237.46h2.34v9.2h-2.34zM1003.86 283.46h2.34v29.9h-2.34zM1013.22 290.54h2.34v23h-2.34zM1013.22 318.14h2.34v6.9h-2.34zM1015.56 250.94h2.34v25.3h-2.34zM1015.56 278.54h2.34v27.6h-2.34zM1017.9 274.26h2.34v11.5h-2.34zM1027.26 239.53h2.34v9.2h-2.34zM1027.26 260.23h2.34v23h-2.34zM1027.26 322.33h2.34v18.4h-2.34zM1031.94 302.48h2.34v25.3h-2.34zM1034.28 231.52h2.34v11.5h-2.34zM1034.28 305.12h2.34v25.3h-2.34zM1038.96 244.02h2.34v25.3h-2.34zM1041.3 246.44h2.34v9.2h-2.34zM1053 233.15h2.34v29.9h-2.34zM1053 286.05h2.34v6.9h-2.34zM1053 295.25h2.34v23h-2.34zM957.06 429.08h2.34v20.7h-2.34zM966.42 437.48h2.34v9.2h-2.34zM968.76 441.49h2.34v6.9h-2.34zM971.1 415.06h2.34v6.9h-2.34zM971.1 428.86h2.34v13.8h-2.34zM978.12 436.4h2.34v9.2h-2.34zM994.5 416.84h2.34v11.5h-2.34zM999.18 437.35h2.34v11.5h-2.34zM1017.9 400.55h2.34v20.7h-2.34zM1020.24 446.11h2.34v9.2h-2.34zM1191.06 250.43h2.34v11.5h-2.34zM1191.06 264.23h2.34v25.3h-2.34zM1195.74 255.35h2.34v20.7h-2.34zM1195.74 317.45h2.34v29.9h-2.34zM1195.74 349.65h2.34v29.9h-2.34zM1200.42 328.32h2.34v23h-2.34zM1205.1 322.62h2.34v11.5h-2.34zM1207.44 320.09h2.34v9.2h-2.34zM1207.44 338.49h2.34v36.8h-2.34zM1212.12 288.16h2.34v25.3h-2.34zM1212.12 327.26h2.34v18.4h-2.34zM1212.12 375.56h2.34v23h-2.34zM1214.46 348.01h2.34v34.5h-2.34zM1216.8 300.92h2.34v29.9h-2.34zM1216.8 340.02h2.34v34.5h-2.34zM1219.14 275.37h2.34v23h-2.34zM1219.14 309.87h2.34v20.7h-2.34zM1219.14 337.47h2.34v9.2h-2.34zM1221.48 289.69h2.34v34.5h-2.34zM1223.82 250.76h2.34v34.5h-2.34zM1223.82 335.86h2.34v29.9h-2.34zM1226.16 301.33h2.34v25.3h-2.34zM1226.16 338.13h2.34v29.9h-2.34zM1226.16 374.93h2.34v23h-2.34zM1228.5 349.08h2.34v16.1h-2.34zM1230.84 249.52h2.34v20.7h-2.34zM1230.84 274.82h2.34v20.7h-2.34zM1230.84 302.42h2.34v27.6h-2.34zM1230.84 336.92h2.34v9.2h-2.34zM1230.84 353.02h2.34v11.5h-2.34zM1277.64 338.94h2.34v32.2h-2.34zM1279.98 292.39h2.34v25.3h-2.34zM1282.32 319.3h2.34v34.5h-2.34zM1284.66 350.68h2.34v9.2h-2.34zM1284.66 371.38h2.34v34.5h-2.34zM1287 300.5h2.34v16.1h-2.34zM1287 410.9h2.34v18.4h-2.34zM1289.34 307.77h2.34v34.5h-2.34zM1289.34 349.17h2.34v29.9h-2.34zM1289.34 381.37h2.34v18.4h-2.34zM1289.34 404.37h2.34v11.5h-2.34zM1289.34 425.07h2.34v9.2h-2.34zM1291.68 406.14h2.34v34.5h-2.34zM1294.02 356.99h2.34v27.6h-2.34zM1296.36 365.24h2.34v16.1h-2.34zM1298.7 301.38h2.34v34.5h-2.34zM1301.04 348.4h2.34v11.5h-2.34zM1303.38 321.61h2.34v18.4h-2.34zM1303.38 367.61h2.34v18.4h-2.34zM1305.72 318.18h2.34v9.2h-2.34zM1305.72 359.58h2.34v29.9h-2.34zM1310.4 338.14h2.34v25.3h-2.34zM1022.58 337.91h2.34v18.4h-2.34zM1029.6 313.06h2.34v13.8h-2.34zM1036.62 318.76h2.34v11.5h-2.34zM1038.96 324.35h2.34v18.4h-2.34zM1043.64 328.37h2.34v18.4h-2.34zM1050.66 327.26h2.34v6.9h-2.34zM1055.34 302.07h2.34v16.1h-2.34zM1060.02 311.55h2.34v13.8h-2.34zM1071.72 305.23h2.34v23h-2.34zM1081.08 339.27h2.34v6.9h-2.34zM1083.42 338.6h2.34v16.1h-2.34zM1088.1 318.44h2.34v11.5h-2.34zM1090.44 315.75h2.34v11.5h-2.34zM1095.12 300.76h2.34v16.1h-2.34zM1097.46 300.28h2.34v18.4h-2.34zM1097.46 327.88h2.34v18.4h-2.34zM1102.14 315.7h2.34v9.2h-2.34zM1104.48 318.31h2.34v13.8h-2.34zM1109.16 316.39h2.34v20.7h-2.34zM1113.84 309.71h2.34v11.5h-2.34zM1116.18 312.44h2.34v9.2h-2.34zM1118.52 307h2.34v20.7h-2.34zM1120.86 307.74h2.34v20.7h-2.34zM1123.2 334.29h2.34v9.2h-2.34zM1127.88 341.12h2.34v13.8h-2.34zM1130.22 306.55h2.34v9.2h-2.34zM1148.94 417.02h2.34v13.8h-2.34zM1165.32 445.3h2.34v9.2h-2.34zM1170 434.29h2.34v25.3h-2.34zM1174.68 458.78h2.34v6.9h-2.34zM1177.02 436.22h2.34v27.6h-2.34zM1181.7 431.37h2.34v13.8h-2.34zM1181.7 449.77h2.34v20.7h-2.34zM1191.06 468.98h2.34v20.7h-2.34zM1336.14 342.58h2.34v6.9h-2.34zM1364.22 308.2h2.34v9.2h-2.34zM1385.28 324.24h2.34v20.7h-2.34zM1467.18 361.71h2.34v23h-2.34zM1476.54 355.6h2.34v9.2h-2.34zM1481.22 346.18h2.34v20.7h-2.34zM1485.9 300.35h2.34v16.1h-2.34zM1553.76 373.74h2.34v13.8h-2.34zM1857.96 497.91h2.34v23h-2.34zM1857.96 560.01h2.34v9.2h-2.34zM1860.3 515.87h2.34v6.9h-2.34zM1860.3 527.37h2.34v29.9h-2.34zM1862.64 512.52h2.34v13.8h-2.34zM1864.98 508.59h2.34v29.9h-2.34zM1864.98 547.69h2.34v11.5h-2.34zM1867.32 504.3h2.34v16.1h-2.34zM1867.32 527.3h2.34v16.1h-2.34zM1867.32 552.6h2.34v27.6h-2.34zM1876.68 523.38h2.34v27.6h-2.34zM1876.68 562.48h2.34v6.9h-2.34zM1879.02 549.18h2.34v23h-2.34zM1881.36 549.56h2.34v29.9h-2.34zM1883.7 524.13h2.34v13.8h-2.34zM1883.7 547.13h2.34v27.6h-2.34zM2211.3 513.81h2.34v16.1h-2.34zM2213.64 475.64h2.34v13.8h-2.34zM2215.98 521.57h2.34v23h-2.34zM2225.34 508.16h2.34v20.7h-2.34zM2227.68 501.15h2.34v13.8h-2.34zM2230.02 508.7h2.34v6.9h-2.34zM2232.36 508.73h2.34v16.1h-2.34zM2234.7 509.04h2.34v13.8h-2.34zM2237.04 490.17h2.34v13.8h-2.34zM2239.38 506.49h2.34v6.9h-2.34zM1974.96 516.75h2.34v23h-2.34zM1979.64 530.36h2.34v13.8h-2.34zM1986.66 526.6h2.34v9.2h-2.34zM1991.34 513.21h2.34v16.1h-2.34zM1996.02 523.45h2.34v9.2h-2.34zM2010.06 528.25h2.34v18.4h-2.34zM2017.08 512.64h2.34v18.4h-2.34zM2028.78 515.31h2.34v9.2h-2.34zM2031.12 518.67h2.34v13.8h-2.34z"/>
<rect x="1799" y="480" width="5" height="52" fill="#00ffff"/>
<polygon points="1610,652 1621,652 1619,692 1614,692" fill="#00ffff"/>
<rect x="2252" y="485" width="3" height="53" fill="#00ffff"/>
<path fill="#ffb6c1" d="M1340.82 421.41h2.34v9.2h-2.34zM1343.16 425.85h2.34v36.8h-2.34zM1345.5 467.35h2.34v13.8h-2.34zM1347.84 458.35h2.34v16.1h-2.34zM1347.84 481.35h2.34v32.2h-2.34zM1350.18 440.93h2.34v25.3h-2.34zM1350.18 486.93h2.34v27.6h-2.34zM1359.54 439.19h2.34v36.8h-2.34zM1364.22 420.94h2.34v32.2h-2.34zM1364.22 466.94h2.34v25.3h-2.34zM1364.22 501.44h2.34v20.7h-2.34zM1366.56 513.91h2.34v9.2h-2.34zM1368.9 448.89h2.34v27.6h-2.34zM1368.9 483.39h2.34v36.8h-2.34zM1371.24 488.5h2.34v11.5h-2.34zM1375.92 486.03h2.34v27.6h-2.34zM1380.6 445.87h2.34v29.9h-2.34zM1380.6 480.37h2.34v23h-2.34zM1380.6 505.67h2.34v32.2h-2.34zM1382.94 429.92h2.34v9.2h-2.34zM1382.94 441.42h2.34v20.7h-2.34zM1382.94 526.52h2.34v20.7h-2.34zM1382.94 549.52h2.34v18.4h-2.34zM1387.62 427.74h2.34v32.2h-2.34zM1387.62 496.74h2.34v13.8h-2.34zM1389.96 484.7h2.34v36.8h-2.34zM1389.96 535.3h2.34v32.2h-2.34zM1392.3 487.25h2.34v25.3h-2.34zM1394.64 518.5h2.34v18.4h-2.34zM1399.32 500.31h2.34v20.7h-2.34zM1401.66 426.32h2.34v23h-2.34zM1401.66 451.62h2.34v13.8h-2.34zM1401.66 504.52h2.34v13.8h-2.34zM1401.66 575.82h2.34v13.8h-2.34zM1404 476.42h2.34v13.8h-2.34zM1404 504.02h2.34v11.5h-2.34zM1404 547.72h2.34v23h-2.34zM1404 582.22h2.34v13.8h-2.34zM1406.34 468.3h2.34v18.4h-2.34zM1413.36 442.31h2.34v11.5h-2.34zM1413.36 460.71h2.34v20.7h-2.34zM1413.36 488.31h2.34v9.2h-2.34zM1413.36 502.11h2.34v20.7h-2.34zM1413.36 532.01h2.34v25.3h-2.34zM1413.36 564.21h2.34v16.1h-2.34zM1415.7 438.43h2.34v9.2h-2.34zM1415.7 454.53h2.34v11.5h-2.34zM1415.7 539.63h2.34v20.7h-2.34zM1418.04 516.81h2.34v36.8h-2.34zM1418.04 581.21h2.34v16.1h-2.34zM1422.72 495.85h2.34v32.2h-2.34zM1425.06 459h2.34v13.8h-2.34zM1425.06 541.8h2.34v29.9h-2.34zM1425.06 585.5h2.34v13.8h-2.34zM1427.4 437.88h2.34v11.5h-2.34zM1427.4 476.98h2.34v23h-2.34zM1427.4 502.28h2.34v11.5h-2.34zM1427.4 516.08h2.34v9.2h-2.34zM1427.4 568.98h2.34v36.8h-2.34zM1429.74 450.86h2.34v11.5h-2.34zM1429.74 542.86h2.34v16.1h-2.34zM1429.74 572.76h2.34v18.4h-2.34zM1434.42 530.65h2.34v29.9h-2.34zM1436.76 437.71h2.34v27.6h-2.34zM1436.76 506.71h2.34v36.8h-2.34zM1441.44 526.57h2.34v16.1h-2.34zM1441.44 581.77h2.34v36.8h-2.34zM1443.78 421.95h2.34v34.5h-2.34zM1443.78 458.75h2.34v34.5h-2.34zM1446.12 451.07h2.34v23h-2.34zM1446.12 480.97h2.34v18.4h-2.34zM1446.12 510.87h2.34v23h-2.34zM1446.12 547.67h2.34v25.3h-2.34zM1446.12 584.47h2.34v23h-2.34zM1448.46 427.91h2.34v9.2h-2.34zM1448.46 446.31h2.34v36.8h-2.34zM1448.46 485.41h2.34v27.6h-2.34zM1448.46 524.51h2.34v23h-2.34zM1448.46 556.71h2.34v20.7h-2.34zM1453.14 436.22h2.34v23h-2.34zM1453.14 461.52h2.34v16.1h-2.34zM1453.14 590.32h2.34v16.1h-2.34zM1460.16 422.29h2.34v29.9h-2.34zM1462.5 443.79h2.34v13.8h-2.34zM1462.5 480.59h2.34v36.8h-2.34zM1462.5 549.59h2.34v11.5h-2.34zM1464.84 450.96h2.34v20.7h-2.34zM1467.18 483.5h2.34v27.6h-2.34zM1467.18 547.9h2.34v9.2h-2.34zM1467.18 568.6h2.34v16.1h-2.34zM1469.52 450.56h2.34v20.7h-2.34zM1469.52 485.06h2.34v34.5h-2.34zM1469.52 549.46h2.34v23h-2.34zM1469.52 577.06h2.34v27.6h-2.34zM1471.86 435.78h2.34v29.9h-2.34zM1471.86 474.88h2.34v32.2h-2.34zM1474.2 517.59h2.34v34.5h-2.34zM1474.2 565.89h2.34v36.8h-2.34zM1478.88 499.37h2.34v36.8h-2.34zM1481.22 445.38h2.34v32.2h-2.34zM1481.22 507.48h2.34v23h-2.34zM1481.22 558.08h2.34v13.8h-2.34zM1485.9 509.3h2.34v29.9h-2.34zM1485.9 548.4h2.34v34.5h-2.34zM1488.24 475.65h2.34v36.8h-2.34zM1488.24 517.05h2.34v32.2h-2.34zM1495.26 498.36h2.34v32.2h-2.34zM1495.26 558.16h2.34v29.9h-2.34zM1497.6 465.24h2.34v34.5h-2.34zM1497.6 504.34h2.34v34.5h-2.34zM1497.6 577.94h2.34v20.7h-2.34zM1499.94 437.49h2.34v25.3h-2.34zM1499.94 520.29h2.34v27.6h-2.34zM1502.28 463.73h2.34v16.1h-2.34zM1502.28 489.03h2.34v11.5h-2.34zM1504.62 533.62h2.34v13.8h-2.34zM1504.62 556.62h2.34v27.6h-2.34zM1506.96 532.43h2.34v36.8h-2.34zM1509.3 507.86h2.34v32.2h-2.34zM1511.64 493.09h2.34v27.6h-2.34zM1511.64 550.59h2.34v20.7h-2.34zM1513.98 577.67h2.34v20.7h-2.34zM1516.32 450.98h2.34v9.2h-2.34zM1516.32 467.08h2.34v13.8h-2.34zM1516.32 494.68h2.34v27.6h-2.34zM1518.66 450.06h2.34v36.8h-2.34zM1518.66 528.26h2.34v16.1h-2.34zM1521 498.57h2.34v32.2h-2.34zM1521 569.87h2.34v34.5h-2.34zM1523.34 482.92h2.34v13.8h-2.34zM1523.34 510.52h2.34v27.6h-2.34zM1523.34 584.12h2.34v16.1h-2.34zM1525.68 550.58h2.34v23h-2.34zM1525.68 575.88h2.34v16.1h-2.34zM1532.7 466.64h2.34v11.5h-2.34zM1532.7 535.64h2.34v16.1h-2.34zM1532.7 565.54h2.34v16.1h-2.34zM1532.7 595.44h2.34v18.4h-2.34zM1535.04 481.51h2.34v36.8h-2.34zM1535.04 520.61h2.34v32.2h-2.34zM1535.04 566.61h2.34v27.6h-2.34zM1537.38 463.7h2.34v29.9h-2.34zM1537.38 505.1h2.34v36.8h-2.34zM1539.72 438.12h2.34v20.7h-2.34zM1539.72 502.52h2.34v25.3h-2.34zM1539.72 539.32h2.34v16.1h-2.34zM1544.4 463.35h2.34v36.8h-2.34zM1544.4 509.35h2.34v29.9h-2.34zM1544.4 553.05h2.34v18.4h-2.34zM1544.4 573.75h2.34v9.2h-2.34zM1544.4 587.55h2.34v32.2h-2.34zM1546.74 511.99h2.34v25.3h-2.34zM1549.08 462.12h2.34v9.2h-2.34zM1553.76 480.5h2.34v25.3h-2.34zM1556.1 559.76h2.34v20.7h-2.34zM1556.1 589.66h2.34v23h-2.34zM1556.1 617.26h2.34v9.2h-2.34zM1563.12 606.34h2.34v9.2h-2.34zM1565.46 455.51h2.34v18.4h-2.34zM1565.46 476.21h2.34v36.8h-2.34zM1565.46 517.61h2.34v29.9h-2.34zM1565.46 598.11h2.34v25.3h-2.34zM1567.8 457h2.34v36.8h-2.34zM1567.8 498.4h2.34v23h-2.34zM1567.8 608.8h2.34v23h-2.34zM1570.14 451.55h2.34v32.2h-2.34zM1570.14 541.25h2.34v34.5h-2.34zM1572.48 469.72h2.34v32.2h-2.34zM1574.82 464.42h2.34v9.2h-2.34zM1574.82 485.12h2.34v27.6h-2.34zM1574.82 595.52h2.34v11.5h-2.34zM1577.16 475.54h2.34v18.4h-2.34zM1577.16 503.14h2.34v36.8h-2.34zM1577.16 551.44h2.34v16.1h-2.34zM1577.16 574.44h2.34v23h-2.34zM1579.5 454.42h2.34v36.8h-2.34zM1579.5 493.52h2.34v9.2h-2.34zM1579.5 507.32h2.34v20.7h-2.34zM1579.5 569.42h2.34v32.2h-2.34zM1579.5 615.42h2.34v16.1h-2.34zM1581.84 466.05h2.34v32.2h-2.34zM1581.84 502.85h2.34v16.1h-2.34zM1584.18 466.36h2.34v29.9h-2.34zM1584.18 528.46h2.34v11.5h-2.34zM1584.18 546.86h2.34v36.8h-2.34zM1586.52 474.63h2.34v23h-2.34zM1586.52 502.23h2.34v18.4h-2.34zM1586.52 573.53h2.34v13.8h-2.34zM1586.52 589.63h2.34v36.8h-2.34zM1588.86 509.39h2.34v23h-2.34zM1595.88 525.94h2.34v16.1h-2.34zM1598.22 492.27h2.34v34.5h-2.34zM1600.56 470.72h2.34v16.1h-2.34zM1600.56 489.12h2.34v32.2h-2.34zM1600.56 553.52h2.34v11.5h-2.34zM1602.9 563.59h2.34v23h-2.34zM1605.24 523.33h2.34v11.5h-2.34zM1607.58 484.11h2.34v18.4h-2.34zM1607.58 514.01h2.34v29.9h-2.34zM1609.92 595.1h2.34v36.8h-2.34zM1614.6 473.1h2.34v36.8h-2.34zM1614.6 546.7h2.34v9.2h-2.34zM1616.94 602.51h2.34v34.5h-2.34zM1619.28 483.22h2.34v23h-2.34zM1619.28 520.02h2.34v16.1h-2.34zM1619.28 538.42h2.34v23h-2.34zM1619.28 563.72h2.34v20.7h-2.34zM1619.28 591.32h2.34v29.9h-2.34zM1621.62 480.92h2.34v32.2h-2.34zM1621.62 556.82h2.34v36.8h-2.34zM1623.96 576.57h2.34v27.6h-2.34zM1628.64 485.37h2.34v13.8h-2.34zM1630.98 484.82h2.34v9.2h-2.34zM1630.98 523.92h2.34v27.6h-2.34zM1642.68 471.94h2.34v20.7h-2.34zM1645.02 509.15h2.34v34.5h-2.34zM1652.04 522.59h2.34v16.1h-2.34zM1663.74 497.56h2.34v34.5h-2.34zM1174.68 434.47h2.34v13.8h-2.34zM1177.02 425.18h2.34v23h-2.34zM1179.36 472.28h2.34v13.8h-2.34zM1181.7 447.76h2.34v27.6h-2.34zM1198.08 400.71h2.34v27.6h-2.34zM1198.08 437.51h2.34v18.4h-2.34zM1202.76 398.97h2.34v23h-2.34zM1202.76 428.87h2.34v25.3h-2.34zM1205.1 454.95h2.34v16.1h-2.34zM1207.44 434.55h2.34v27.6h-2.34zM1207.44 464.45h2.34v20.7h-2.34zM1212.12 416.26h2.34v25.3h-2.34zM1214.46 466.98h2.34v18.4h-2.34zM1216.8 413.77h2.34v11.5h-2.34zM1223.82 408.92h2.34v27.6h-2.34zM1228.5 428.69h2.34v18.4h-2.34zM1233.18 433.86h2.34v20.7h-2.34zM1235.52 430.67h2.34v16.1h-2.34zM1235.52 451.37h2.34v23h-2.34zM1244.88 402.42h2.34v23h-2.34zM1244.88 469.12h2.34v11.5h-2.34zM1256.58 391.02h2.34v18.4h-2.34zM1256.58 441.62h2.34v23h-2.34zM1258.92 449.76h2.34v27.6h-2.34zM1263.6 462.36h2.34v25.3h-2.34zM1270.62 443.13h2.34v13.8h-2.34zM1272.96 407.09h2.34v18.4h-2.34zM1272.96 450.79h2.34v18.4h-2.34zM1282.32 432.14h2.34v18.4h-2.34zM1289.34 455.42h2.34v25.3h-2.34zM1296.36 408.03h2.34v13.8h-2.34zM1872 520.18h2.34v16.1h-2.34zM1876.68 501.55h2.34v9.2h-2.34zM1876.68 515.35h2.34v20.7h-2.34zM1879.02 514.3h2.34v20.7h-2.34zM1881.36 505.2h2.34v6.9h-2.34zM1883.7 513.32h2.34v16.1h-2.34zM1883.7 543.22h2.34v20.7h-2.34zM1886.04 502.88h2.34v18.4h-2.34zM1886.04 523.58h2.34v9.2h-2.34zM1886.04 544.28h2.34v11.5h-2.34zM1890.72 508.58h2.34v13.8h-2.34zM1890.72 529.28h2.34v9.2h-2.34zM1890.72 552.28h2.34v6.9h-2.34zM1895.4 492.82h2.34v23h-2.34zM1895.4 543.42h2.34v11.5h-2.34zM1900.08 541.36h2.34v23h-2.34zM1902.42 538.96h2.34v11.5h-2.34zM1909.44 498.77h2.34v9.2h-2.34zM1909.44 537.87h2.34v18.4h-2.34zM1911.78 533.63h2.34v23h-2.34zM1914.12 503.3h2.34v18.4h-2.34zM1914.12 530.9h2.34v11.5h-2.34zM1918.8 496.79h2.34v23h-2.34zM1918.8 522.09h2.34v9.2h-2.34zM1918.8 538.19h2.34v18.4h-2.34zM1921.14 521.17h2.34v18.4h-2.34zM1923.48 519.09h2.34v16.1h-2.34zM1923.48 546.69h2.34v6.9h-2.34zM1925.82 498.66h2.34v18.4h-2.34zM1928.16 517.35h2.34v11.5h-2.34zM1930.5 507.31h2.34v6.9h-2.34zM1930.5 528.01h2.34v16.1h-2.34zM1932.84 518.5h2.34v6.9h-2.34zM1932.84 534.6h2.34v16.1h-2.34zM1939.86 513.43h2.34v16.1h-2.34zM1942.2 532.48h2.34v9.2h-2.34zM1946.88 502.72h2.34v11.5h-2.34zM1946.88 518.82h2.34v23h-2.34zM1949.22 501.47h2.34v20.7h-2.34zM1949.22 524.47h2.34v11.5h-2.34zM1951.56 528.82h2.34v18.4h-2.34zM1953.9 513.36h2.34v18.4h-2.34zM1956.24 516.63h2.34v23h-2.34zM1958.58 508.86h2.34v20.7h-2.34zM1958.58 531.86h2.34v9.2h-2.34zM1960.92 519.06h2.34v23h-2.34zM1965.6 523.78h2.34v13.8h-2.34zM1970.28 509.61h2.34v13.8h-2.34zM1972.62 510.51h2.34v9.2h-2.34zM1974.96 509.32h2.34v16.1h-2.34zM1979.64 504.26h2.34v16.1h-2.34zM1984.32 503.62h2.34v20.7h-2.34zM1989 513.1h2.34v16.1h-2.34zM1991.34 506.83h2.34v18.4h-2.34zM1996.02 508.85h2.34v23h-2.34zM1998.36 507.45h2.34v11.5h-2.34z"/>
<polygon points="1137,420 1143,420 1162,500 1156,500" fill="#fff"/>
<polygon points="1013.7,234.1 1047.7,234.1 1030.7,264.1" fill="#ff0000"/>
<polygon points="1200,242 1234,242 1217,272" fill="#ff0000"/>
<polygon points="1246.5,255 1280.5,255 1263.5,285" fill="#ff0000"/>
<polygon points="1223,267.4 1257,267.4 1240,297.4" fill="#ff0000"/>
<polygon points="1037.8,315.2 1071.8,315.2 1054.8,345.2" fill="#ff0000"/>
<polygon points="1060,307.2 1094,307.2 1077,337.2" fill="#ff0000"/>
<polygon points="1082.3,310.2 1116.3,310.2 1099.3,340.2" fill="#ff0000"/>
<polygon points="1106,340.2 1140,340.2 1123,370.2" fill="#ff0000"/>
<polygon points="1174.7,373.3 1208.7,373.3 1191.7,403.3" fill="#ff0000"/>
<polygon points="1199.7,368.4 1233.7,368.4 1216.7,398.4" fill="#ff0000"/>
<polygon points="1129.5,398.3 1163.5,398.3 1146.5,428.3" fill="#ff0000"/>
<polygon points="1270,398.3 1304,398.3 1287,428.3" fill="#ff0000"/>
<polygon points="1317.1,244.6 1351.1,244.6 1334.1,274.6" fill="#ff0000"/>
<polygon points="1367.8,252 1401.8,252 1384.8,282" fill="#ff0000"/>
<polygon points="1386.9,242.4 1420.9,242.4 1403.9,272.4" fill="#ff0000"/>
<polygon points="1411.3,246.7 1445.3,246.7 1428.3,276.7" fill="#ff0000"/>
<polygon points="1434.3,244.6 1468.3,244.6 1451.3,274.6" fill="#ff0000"/>
<polygon points="1458,246.7 1492,246.7 1475,276.7" fill="#ff0000"/>
<polygon points="1481.5,260.2 1515.5,260.2 1498.5,290.2" fill="#ff0000"/>
<polygon points="1504.7,275.4 1538.7,275.4 1521.7,305.4" fill="#ff0000"/>
<polygon points="1528.2,290.2 1562.2,290.2 1545.2,320.2" fill="#ff0000"/>
<polygon points="1550.8,271.7 1584.8,271.7 1567.8,301.7" fill="#ff0000"/>
<polygon points="1574.3,275.4 1608.3,275.4 1591.3,305.4" fill="#ff0000"/>
<polygon points="1598.2,307.6 1632.2,307.6 1615.2,337.6" fill="#ff0000"/>
<polygon points="1621.5,313 1655.5,313 1638.5,343" fill="#ff0000"/>
<polygon points="1645,330.4 1679,330.4 1662,360.4" fill="#ff0000"/>
<polygon points="1668.9,309.8 1702.9,309.8 1685.9,339.8" fill="#ff0000"/>
<polygon points="1692.1,480.4 1726.1,480.4 1709.1,510.4" fill="#ff0000"/>
<polygon points="1879.2,470 1913.2,470 1896.2,500" fill="#ff0000"/>
<polygon points="1902.8,468.3 1936.8,468.3 1919.8,498.3" fill="#ff0000"/>
<polygon points="1926.2,458.4 1960.2,458.4 1943.2,488.4" fill="#ff0000"/>
<polygon points="1950.9,458.4 1984.9,458.4 1967.9,488.4" fill="#ff0000"/>
<polygon points="1974.9,460.1 2008.9,460.1 1991.9,490.1" fill="#ff0000"/>
<polygon points="1030.4,443 1047.4,473 1013.4,473" fill="#ff0000"/>
<polygon points="1054.1,456 1071.1,486 1037.1,486" fill="#ff0000"/>
<polygon points="1077.6,466.7 1094.6,496.7 1060.6,496.7" fill="#ff0000"/>
<polygon points="1099.3,465.7 1116.3,495.7 1082.3,495.7" fill="#ff0000"/>
<polygon points="1122.8,468.9 1139.8,498.9 1105.8,498.9" fill="#ff0000"/>
<polygon points="1146.5,461.3 1163.5,491.3 1129.5,491.3" fill="#ff0000"/>
<polygon points="1193.3,466.1 1210.3,496.1 1176.3,496.1" fill="#ff0000"/>
<polygon points="1240.2,456.5 1257.2,486.5 1223.2,486.5" fill="#ff0000"/>
<polygon points="1263.5,466.1 1280.5,496.1 1246.5,496.1" fill="#ff0000"/>
<polygon points="1287,471 1304,501 1270,501" fill="#ff0000"/>
<polygon points="1215,256.5 1232,286.5 1198,286.5" fill="#ff0000"/>
<polygon points="1334.1,441 1351.1,471 1317.1,471" fill="#ff0000"/>
<polygon points="1357.6,503.7 1374.6,533.7 1340.6,533.7" fill="#ff0000"/>
<polygon points="1380.9,531.3 1397.9,561.3 1363.9,561.3" fill="#ff0000"/>
<polygon points="1404.3,576.1 1421.3,606.1 1387.3,606.1" fill="#ff0000"/>
<polygon points="1427.6,564.6 1444.6,594.6 1410.6,594.6" fill="#ff0000"/>
<polygon points="1451.1,569.6 1468.1,599.6 1434.1,599.6" fill="#ff0000"/>
<polygon points="1474.6,571.1 1491.6,601.1 1457.6,601.1" fill="#ff0000"/>
<polygon points="1497.8,593.9 1514.8,623.9 1480.8,623.9" fill="#ff0000"/>
<polygon points="1521.7,589.1 1538.7,619.1 1504.7,619.1" fill="#ff0000"/>
<polygon points="1545,608.7 1562,638.7 1528,638.7" fill="#ff0000"/>
<polygon points="1568.5,604.3 1585.5,634.3 1551.5,634.3" fill="#ff0000"/>
<polygon points="1592,602.2 1609,632.2 1575,632.2" fill="#ff0000"/>
<polygon points="1615.2,629.8 1632.2,659.8 1598.2,659.8" fill="#ff0000"/>
<polygon points="1638.7,534.1 1655.7,564.1 1621.7,564.1" fill="#ff0000"/>
<polygon points="1662,526.5 1679,556.5 1645,556.5" fill="#ff0000"/>
<polygon points="1685.4,508 1702.4,538 1668.4,538" fill="#ff0000"/>
<polygon points="1708.7,511.3 1725.7,541.3 1691.7,541.3" fill="#ff0000"/>
<polygon points="1991,488 2008,518 1974,518" fill="#ff0000"/>
<polygon points="1967.1,519.6 1984.1,549.6 1950.1,549.6" fill="#ff0000"/>
<polygon points="1944,531.6 1961,561.6 1927,561.6" fill="#ff0000"/>
<polygon points="1920.1,536.7 1937.1,566.7 1903.1,566.7" fill="#ff0000"/>
<polygon points="1896.7,544.4 1913.7,574.4 1879.7,574.4" fill="#ff0000"/>
<polygon points="1216.7,466.7 1233.7,496.7 1199.7,496.7" fill="#ff0000"/><polygon points="1216.7,478.56 1223.67,490.86 1209.73,490.86" fill="#fff"/>
<circle cx="1030.2" cy="265.9" r="16.8" fill="#0000ff"/>
<circle cx="1193" cy="235.9" r="16.8" fill="#0000ff"/>
<circle cx="1240" cy="264.8" r="16.8" fill="#0000ff"/>
<circle cx="1263.5" cy="237" r="16.8" fill="#0000ff"/>
<circle cx="1287" cy="275" r="16.8" fill="#0000ff"/>
<circle cx="1216.7" cy="369.6" r="16.8" fill="#0000ff"/>
<circle cx="1077" cy="549.8" r="16.8" fill="#0000ff"/>
<circle cx="1053.9" cy="583" r="16.8" fill="#0000ff"/>
<circle cx="1357" cy="256.1" r="16.8" fill="#0000ff"/>
<circle cx="1428.3" cy="291.3" r="16.8" fill="#0000ff"/>
<circle cx="1475" cy="285.9" r="16.8" fill="#0000ff"/>
<circle cx="1451.5" cy="312.6" r="16.8" fill="#0000ff"/>
<circle cx="1497.8" cy="308" r="16.8" fill="#0000ff"/>
<circle cx="1521.7" cy="330.4" r="16.8" fill="#0000ff"/>
<circle cx="1545.2" cy="336.5" r="16.8" fill="#0000ff"/>
<circle cx="1591.3" cy="366.3" r="16.8" fill="#0000ff"/>
<circle cx="1567.8" cy="385.9" r="16.8" fill="#0000ff"/>
<circle cx="1638.7" cy="422" r="16.8" fill="#0000ff"/>
<circle cx="1662" cy="483" r="16.8" fill="#0000ff"/>
<circle cx="1920" cy="332" r="16.8" fill="#0000ff"/>
<circle cx="2270.7" cy="392.9" r="16.8" fill="#0000ff"/>
<circle cx="1334" cy="695.9" r="16.8" fill="#0000ff"/>
<circle cx="1310.3" cy="752.5" r="16.8" fill="#0000ff"/>
<circle cx="1708.6" cy="777" r="16.8" fill="#0000ff"/>
<circle cx="1943.8" cy="786.8" r="16.8" fill="#0000ff"/>
<circle cx="1966.1" cy="760.9" r="16.8" fill="#0000ff"/>
<circle cx="1989.9" cy="770" r="16.8" fill="#0000ff"/>
<circle cx="2014" cy="770" r="16.8" fill="#0000ff"/>
<circle cx="1122.8" cy="250" r="16.8" fill="#32cd32"/>
<circle cx="1099.7" cy="716.2" r="16.8" fill="#32cd32"/>
<circle cx="1146.2" cy="705" r="16.8" fill="#32cd32"/>
<circle cx="1380.4" cy="277.8" r="16.8" fill="#808080"/>
<circle cx="1404.3" cy="281.5" r="16.8" fill="#808080"/>
<circle cx="1615.2" cy="364.1" r="16.8" fill="#808080"/>
<circle cx="1685.9" cy="477.6" r="16.8" fill="#808080"/>
<circle cx="1896.7" cy="435.9" r="16.8" fill="#808080"/>
<circle cx="3020.7" cy="514.6" r="16.8" fill="#808080"/>
<path d="M266 278.3C289.17 279.38 363 283.22 405 284.8C447 286.38 473.83 286.72 518 287.8C562.17 288.88 624.33 290.35 670 291.3C715.67 292.25 737 293.05 792 293.5C847 293.95 915.33 292.92 1000 294C1084.67 295.08 1206 298.28 1300 300C1394 301.72 1520 303.58 1564 304.3" fill="none" stroke="#000" stroke-width="3.7"/>
<path d="M1665.2 302.1C1676.57 302.38 1701.53 303 1733.4 303.8C1765.27 304.6 1828.8 306.25 1856.4 306.9C1884 307.55 1880.22 307.37 1899 307.7C1917.78 308.03 1935.6 307.9 1969.1 308.9C2002.6 309.9 2065.77 312.23 2100 313.7C2134.23 315.17 2143.45 316.32 2174.5 317.7C2205.55 319.08 2246.95 320.5 2286.3 322C2325.65 323.5 2375.92 325.4 2410.6 326.7C2445.28 328 2466.97 329.13 2494.4 329.8C2521.83 330.47 2533.78 330.18 2575.2 330.7C2616.62 331.22 2688.77 332.37 2742.9 332.9C2797.03 333.43 2854.38 333.73 2900 333.9C2945.62 334.07 2979.05 334.17 3016.6 333.9C3054.15 333.63 3091.65 332.83 3125.3 332.3C3158.95 331.77 3173.47 330.85 3218.5 330.7C3263.53 330.55 3349.95 330.98 3395.5 331.4C3441.05 331.82 3463.85 334.35 3491.8 333.2C3519.75 332.05 3539.13 327.75 3563.2 324.5C3587.27 321.25 3624.03 315.5 3636.2 313.7" fill="none" stroke="#000" stroke-width="3.7"/>
<path d="M266 452.3C298.62 452.13 418.22 451.82 461.7 451.3C505.18 450.78 489.23 449.55 526.9 449.2C564.57 448.85 649.3 448.65 687.7 449.2C726.1 449.75 726.13 451.28 757.3 452.5C788.47 453.72 834.25 455.17 874.7 456.5C915.15 457.83 925.78 459.15 1000 460.5C1074.22 461.85 1225.98 463.38 1320 464.6C1414.02 465.82 1523.42 467.27 1564.1 467.8" fill="none" stroke="#000" stroke-width="3.7"/>
<path d="M1665.2 470C1679.33 470.92 1714.92 473.27 1750 475.5C1785.08 477.73 1842.8 481.47 1875.7 483.4C1908.6 485.33 1930.6 486.33 1947.4 487.1C1964.2 487.87 1954.4 487.85 1976.5 488C1998.6 488.15 2051.08 488.05 2080 488C2108.92 487.95 2114.42 487.6 2150 487.7C2185.58 487.8 2250.07 487.85 2293.5 488.6C2336.93 489.35 2365.22 491.08 2410.6 492.2C2455.98 493.32 2514.07 494.17 2565.8 495.3C2617.53 496.43 2665.3 497.7 2721 499C2776.7 500.3 2864.18 502.27 2900 503.1C2935.82 503.93 2903.52 503.85 2935.9 504C2968.28 504.15 3045.13 505.03 3094.3 504C3143.47 502.97 3187.42 499.35 3230.9 497.8C3274.38 496.25 3312.75 495.47 3355.2 494.7C3397.65 493.93 3438.77 492.32 3485.6 493.2C3532.43 494.08 3611.1 498.87 3636.2 500" fill="none" stroke="#000" stroke-width="3.7"/>
<path d="M266 673.2C282.3 673.37 326.53 673.62 363.8 674.2C401.07 674.78 444.75 675.88 489.6 676.7C534.45 677.52 590.38 678.35 632.9 679.1C675.42 679.85 696.95 680.15 744.7 681.2C792.45 682.25 849.18 683.53 919.4 685.4C989.62 687.27 1058.63 689.78 1166 692.4C1273.37 695.02 1497.33 699.65 1563.6 701.1" fill="none" stroke="#000" stroke-width="3.7"/>
<path d="M1665.7 700.4C1732.42 701.28 1974.82 704.3 2066 705.7C2157.18 707.1 2177.87 708.28 2212.8 708.8C2247.73 709.32 2241.83 709.5 2275.6 708.8C2309.37 708.1 2374.63 706.07 2415.4 704.6C2456.17 703.13 2492.83 700.98 2520.2 700C2547.57 699.02 2538.83 699.08 2579.6 698.7C2620.37 698.32 2700.4 697.87 2764.8 697.7C2829.2 697.53 2906.38 698 2966 697.7C3025.62 697.4 3083.6 695.62 3122.5 695.9C3161.4 696.18 3169.12 698.42 3199.4 699.4C3229.68 700.38 3269.27 701.4 3304.2 701.8C3339.13 702.2 3376.97 702.67 3409 701.8C3441.03 700.93 3458.53 698.92 3496.4 696.6C3534.27 694.28 3612.9 689.35 3636.2 687.9" fill="none" stroke="#000" stroke-width="3.7"/>
<path d="M266 737.8C293.95 737.92 372.55 737.92 433.7 738.5C494.85 739.08 578.15 740.53 632.9 741.3C687.65 742.07 712.7 742.22 762.2 743.1C811.7 743.98 862.6 745.15 929.9 746.6C997.2 748.05 1060.38 750.17 1166 751.8C1271.62 753.43 1497.33 755.63 1563.6 756.4" fill="none" stroke="#000" stroke-width="3.7"/>
<path d="M1665.7 754.6C1732.42 755.58 1971.33 758.05 2066 760.5C2160.67 762.95 2182.45 767.25 2233.7 769.3C2284.95 771.35 2303.62 772.35 2373.5 772.8C2443.38 773.25 2587.78 774.05 2653 772C2718.22 769.95 2737.43 762.7 2764.8 760.5C2792.17 758.3 2783.67 758.5 2817.2 758.8C2850.73 759.1 2923.87 760.97 2966 762.3C3008.13 763.63 3043.92 766.92 3070 766.8C3096.08 766.68 3100.93 762.82 3122.5 761.6C3144.07 760.38 3157.48 759.1 3199.4 759.5C3241.32 759.9 3315.77 761.78 3374 764C3432.23 766.22 3505.13 770 3548.8 772.8C3592.47 775.6 3621.47 779.47 3636 780.8" fill="none" stroke="#000" stroke-width="3.7"/>
<path d="M266 870.6C293.95 871.77 387.12 875.73 433.7 877.6C480.28 879.47 503.57 880.35 545.5 881.8C587.43 883.25 642.78 884.97 685.3 886.3C727.82 887.63 720.48 889.03 800.6 889.8C880.72 890.57 1041.1 888.87 1166 890.9C1290.9 892.93 1486 900.15 1550 902" fill="none" stroke="#000" stroke-width="3.7"/>
<path d="M1655 900C1680.67 900.17 1740.5 903 1809 901C1877.5 899 1988.23 891.2 2066 888C2143.77 884.8 2217.37 882.8 2275.6 881.8C2333.83 880.8 2380.45 881.53 2415.4 882C2450.35 882.47 2444.53 883.12 2485.3 884.6C2526.07 886.08 2608.47 888.57 2660 890.9C2711.53 893.23 2743.5 895.58 2794.5 898.6C2845.5 901.62 2919.48 906.97 2966 909C3012.52 911.03 3008.5 908.75 3073.6 910.8C3138.7 912.85 3286.13 917.4 3356.6 921.3C3427.07 925.2 3464.37 928.97 3496.4 934.2C3528.43 939.43 3538.87 948.9 3548.8 952.7C3558.73 956.5 3554.8 956.28 3556 957" fill="none" stroke="#000" stroke-width="3.7"/>
<text x="1566.69" y="323.9" font-size="57.8" fill="#000">230</text>
<text x="1566.69" y="489.1" font-size="57.8" fill="#000">250</text>
<text x="1564.89" y="721" font-size="57.8" fill="#000">273</text>
<text x="1564.89" y="776.3" font-size="57.8" fill="#000">279</text>
<text x="1553.69" y="922.3" font-size="57.8" fill="#000">290</text>
<line x1="266" y1="108" x2="266" y2="959.8" stroke="#000" stroke-width="5.7"/>
<line x1="263.2" y1="957" x2="3639.8" y2="957" stroke="#000" stroke-width="5.7"/>
<line x1="266" y1="111" x2="347" y2="111" stroke="#000" stroke-width="5.7"/>
<line x1="266" y1="216.62" x2="347" y2="216.62" stroke="#000" stroke-width="5.7"/>
<line x1="266" y1="322.25" x2="347" y2="322.25" stroke="#000" stroke-width="5.7"/>
<line x1="266" y1="427.88" x2="347" y2="427.88" stroke="#000" stroke-width="5.7"/>
<line x1="266" y1="533.5" x2="347" y2="533.5" stroke="#000" stroke-width="5.7"/>
<line x1="266" y1="639.12" x2="347" y2="639.12" stroke="#000" stroke-width="5.7"/>
<line x1="266" y1="744.75" x2="347" y2="744.75" stroke="#000" stroke-width="5.7"/>
<line x1="266" y1="850.38" x2="347" y2="850.38" stroke="#000" stroke-width="5.7"/>
<line x1="266" y1="894" x2="266" y2="957" stroke="#000" stroke-width="5.7"/>
<line x1="336.23" y1="924" x2="336.23" y2="957" stroke="#000" stroke-width="5.7"/>
<line x1="406.46" y1="924" x2="406.46" y2="957" stroke="#000" stroke-width="5.7"/>
<line x1="476.69" y1="924" x2="476.69" y2="957" stroke="#000" stroke-width="5.7"/>
<line x1="546.92" y1="894" x2="546.92" y2="957" stroke="#000" stroke-width="5.7"/>
<line x1="617.15" y1="924" x2="617.15" y2="957" stroke="#000" stroke-width="5.7"/>
<line x1="687.38" y1="924" x2="687.38" y2="957" stroke="#000" stroke-width="5.7"/>
<line x1="757.6" y1="924" x2="757.6" y2="957" stroke="#000" stroke-width="5.7"/>
<line x1="827.83" y1="894" x2="827.83" y2="957" stroke="#000" stroke-width="5.7"/>
<line x1="898.06" y1="924" x2="898.06" y2="957" stroke="#000" stroke-width="5.7"/>
<line x1="968.29" y1="924" x2="968.29" y2="957" stroke="#000" stroke-width="5.7"/>
<line x1="1038.52" y1="924" x2="1038.52" y2="957" stroke="#000" stroke-width="5.7"/>
<line x1="1108.75" y1="894" x2="1108.75" y2="957" stroke="#000" stroke-width="5.7"/>
<line x1="1178.98" y1="924" x2="1178.98" y2="957" stroke="#000" stroke-width="5.7"/>
<line x1="1249.21" y1="924" x2="1249.21" y2="957" stroke="#000" stroke-width="5.7"/>
<line x1="1319.44" y1="924" x2="1319.44" y2="957" stroke="#000" stroke-width="5.7"/>
<line x1="1389.67" y1="894" x2="1389.67" y2="957" stroke="#000" stroke-width="5.7"/>
<line x1="1459.9" y1="924" x2="1459.9" y2="957" stroke="#000" stroke-width="5.7"/>
<line x1="1530.12" y1="924" x2="1530.12" y2="957" stroke="#000" stroke-width="5.7"/>
<line x1="1600.35" y1="924" x2="1600.35" y2="957" stroke="#000" stroke-width="5.7"/>
<line x1="1670.58" y1="894" x2="1670.58" y2="957" stroke="#000" stroke-width="5.7"/>
<line x1="1740.81" y1="924" x2="1740.81" y2="957" stroke="#000" stroke-width="5.7"/>
<line x1="1811.04" y1="924" x2="1811.04" y2="957" stroke="#000" stroke-width="5.7"/>
<line x1="1881.27" y1="924" x2="1881.27" y2="957" stroke="#000" stroke-width="5.7"/>
<line x1="1951.5" y1="894" x2="1951.5" y2="957" stroke="#000" stroke-width="5.7"/>
<line x1="2021.73" y1="924" x2="2021.73" y2="957" stroke="#000" stroke-width="5.7"/>
<line x1="2091.96" y1="924" x2="2091.96" y2="957" stroke="#000" stroke-width="5.7"/>
<line x1="2162.19" y1="924" x2="2162.19" y2="957" stroke="#000" stroke-width="5.7"/>
<line x1="2232.42" y1="894" x2="2232.42" y2="957" stroke="#000" stroke-width="5.7"/>
<line x1="2302.65" y1="924" x2="2302.65" y2="957" stroke="#000" stroke-width="5.7"/>
<line x1="2372.88" y1="924" x2="2372.88" y2="957" stroke="#000" stroke-width="5.7"/>
<line x1="2443.1" y1="924" x2="2443.1" y2="957" stroke="#000" stroke-width="5.7"/>
<line x1="2513.33" y1="894" x2="2513.33" y2="957" stroke="#000" stroke-width="5.7"/>
<line x1="2583.56" y1="924" x2="2583.56" y2="957" stroke="#000" stroke-width="5.7"/>
<line x1="2653.79" y1="924" x2="2653.79" y2="957" stroke="#000" stroke-width="5.7"/>
<line x1="2724.02" y1="924" x2="2724.02" y2="957" stroke="#000" stroke-width="5.7"/>
<line x1="2794.25" y1="894" x2="2794.25" y2="957" stroke="#000" stroke-width="5.7"/>
<line x1="2864.48" y1="924" x2="2864.48" y2="957" stroke="#000" stroke-width="5.7"/>
<line x1="2934.71" y1="924" x2="2934.71" y2="957" stroke="#000" stroke-width="5.7"/>
<line x1="3004.94" y1="924" x2="3004.94" y2="957" stroke="#000" stroke-width="5.7"/>
<line x1="3075.17" y1="894" x2="3075.17" y2="957" stroke="#000" stroke-width="5.7"/>
<line x1="3145.4" y1="924" x2="3145.4" y2="957" stroke="#000" stroke-width="5.7"/>
<line x1="3215.62" y1="924" x2="3215.62" y2="957" stroke="#000" stroke-width="5.7"/>
<line x1="3285.85" y1="924" x2="3285.85" y2="957" stroke="#000" stroke-width="5.7"/>
<line x1="3356.08" y1="894" x2="3356.08" y2="957" stroke="#000" stroke-width="5.7"/>
<line x1="3426.31" y1="924" x2="3426.31" y2="957" stroke="#000" stroke-width="5.7"/>
<line x1="3496.54" y1="924" x2="3496.54" y2="957" stroke="#000" stroke-width="5.7"/>
<line x1="3566.77" y1="924" x2="3566.77" y2="957" stroke="#000" stroke-width="5.7"/>
<line x1="3637" y1="894" x2="3637" y2="957" stroke="#000" stroke-width="5.7"/>
<text transform="translate(83.27,135.5) scale(1.0757,1)" font-size="71.22" fill="#000">12.6</text>
<text transform="translate(84.5,241.12) scale(1.1002,1)" font-size="71.22" fill="#000">11.1</text>
<text transform="translate(82.79,346.75) scale(1.0788,1)" font-size="71.22" fill="#000">9.68</text>
<text transform="translate(83.07,452.38) scale(1.0743,1)" font-size="71.22" fill="#000">8.20</text>
<text transform="translate(82.53,558) scale(1.0661,1)" font-size="71.22" fill="#000">6.71</text>
<text transform="translate(83.33,663.62) scale(1.0752,1)" font-size="71.22" fill="#000">5.23</text>
<text transform="translate(83.49,769.25) scale(1.0729,1)" font-size="71.22" fill="#000">3.75</text>
<text transform="translate(82.52,874.88) scale(1.0811,1)" font-size="71.22" fill="#000">2.26</text>
<text transform="translate(83.21,980.5) scale(1.0758,1)" font-size="71.22" fill="#000">0.78</text>
<text transform="translate(242.88,1037) scale(1.0400,1)" font-size="79.94" fill="#000">0</text>
<text transform="translate(525.17,1037) scale(1.0480,1)" font-size="79.94" fill="#000">2</text>
<text transform="translate(806.79,1037) scale(1.0256,1)" font-size="79.94" fill="#000">4</text>
<text transform="translate(1087.26,1037) scale(1.0185,1)" font-size="79.94" fill="#000">6</text>
<text transform="translate(1368.01,1037) scale(1.0420,1)" font-size="79.94" fill="#000">8</text>
<text transform="translate(1624.11,1037) scale(1.0449,1)" font-size="79.94" fill="#000">10</text>
<text transform="translate(1905.8,1037) scale(1.0371,1)" font-size="79.94" fill="#000">12</text>
<text transform="translate(2186.11,1037) scale(1.0308,1)" font-size="79.94" fill="#000">14</text>
<text transform="translate(2466.79,1037) scale(1.0394,1)" font-size="79.94" fill="#000">16</text>
<text transform="translate(2748.06,1037) scale(1.0424,1)" font-size="79.94" fill="#000">18</text>
<text transform="translate(3029.82,1037) scale(1.0436,1)" font-size="79.94" fill="#000">20</text>
<text transform="translate(3311.5,1037) scale(1.0364,1)" font-size="79.94" fill="#000">22</text>
<text transform="translate(3591.81,1037) scale(1.0303,1)" font-size="79.94" fill="#000">24</text>
<text transform="translate(1738.78,1116.7) scale(1.0219,1)" font-size="79.65" fill="#000">Time (UTC)</text>
<g transform="translate(35.5,828) rotate(-90)"><text transform="translate(-6.08,0) scale(1.0402,1)" font-size="71.22" fill="#000">Height AMSL (km)</text></g>
<text x="1475.74" y="76.5" font-size="100.6" fill="#000">Granada: 2025/10/08</text>
<defs><linearGradient id="cb" x1="0" x2="1" y1="0" y2="0"><stop offset="0" stop-color="#ffffff"/><stop offset="0.3333" stop-color="#ffb6c1"/><stop offset="0.6667" stop-color="#00ffff"/><stop offset="1" stop-color="#d3d3d3"/></linearGradient></defs>
<rect x="266" y="1143.7" width="3371" height="56.3" fill="url(#cb)"/>
<line x1="263.2" y1="1200" x2="3639.8" y2="1200" stroke="#000" stroke-width="5.7"/>
<line x1="266" y1="1183" x2="266" y2="1200" stroke="#000" stroke-width="5.7"/>
<line x1="378.37" y1="1190" x2="378.37" y2="1200" stroke="#000" stroke-width="5.7"/>
<line x1="490.73" y1="1190" x2="490.73" y2="1200" stroke="#000" stroke-width="5.7"/>
<line x1="603.1" y1="1190" x2="603.1" y2="1200" stroke="#000" stroke-width="5.7"/>
<line x1="715.47" y1="1190" x2="715.47" y2="1200" stroke="#000" stroke-width="5.7"/>
<line x1="827.83" y1="1190" x2="827.83" y2="1200" stroke="#000" stroke-width="5.7"/>
<line x1="940.2" y1="1190" x2="940.2" y2="1200" stroke="#000" stroke-width="5.7"/>
<line x1="1052.57" y1="1190" x2="1052.57" y2="1200" stroke="#000" stroke-width="5.7"/>
<line x1="1164.93" y1="1190" x2="1164.93" y2="1200" stroke="#000" stroke-width="5.7"/>
<line x1="1277.3" y1="1190" x2="1277.3" y2="1200" stroke="#000" stroke-width="5.7"/>
<line x1="1389.67" y1="1183" x2="1389.67" y2="1200" stroke="#000" stroke-width="5.7"/>
<line x1="1502.03" y1="1190" x2="1502.03" y2="1200" stroke="#000" stroke-width="5.7"/>
<line x1="1614.4" y1="1190" x2="1614.4" y2="1200" stroke="#000" stroke-width="5.7"/>
<line x1="1726.77" y1="1190" x2="1726.77" y2="1200" stroke="#000" stroke-width="5.7"/>
<line x1="1839.13" y1="1190" x2="1839.13" y2="1200" stroke="#000" stroke-width="5.7"/>
<line x1="1951.5" y1="1190" x2="1951.5" y2="1200" stroke="#000" stroke-width="5.7"/>
<line x1="2063.87" y1="1190" x2="2063.87" y2="1200" stroke="#000" stroke-width="5.7"/>
<line x1="2176.23" y1="1190" x2="2176.23" y2="1200" stroke="#000" stroke-width="5.7"/>
<line x1="2288.6" y1="1190" x2="2288.6" y2="1200" stroke="#000" stroke-width="5.7"/>
<line x1="2400.97" y1="1190" x2="2400.97" y2="1200" stroke="#000" stroke-width="5.7"/>
<line x1="2513.33" y1="1183" x2="2513.33" y2="1200" stroke="#000" stroke-width="5.7"/>
<line x1="2625.7" y1="1190" x2="2625.7" y2="1200" stroke="#000" stroke-width="5.7"/>
<line x1="2738.07" y1="1190" x2="2738.07" y2="1200" stroke="#000" stroke-width="5.7"/>
<line x1="2850.43" y1="1190" x2="2850.43" y2="1200" stroke="#000" stroke-width="5.7"/>
<line x1="2962.8" y1="1190" x2="2962.8" y2="1200" stroke="#000" stroke-width="5.7"/>
<line x1="3075.17" y1="1190" x2="3075.17" y2="1200" stroke="#000" stroke-width="5.7"/>
<line x1="3187.53" y1="1190" x2="3187.53" y2="1200" stroke="#000" stroke-width="5.7"/>
<line x1="3299.9" y1="1190" x2="3299.9" y2="1200" stroke="#000" stroke-width="5.7"/>
<line x1="3412.27" y1="1190" x2="3412.27" y2="1200" stroke="#000" stroke-width="5.7"/>
<line x1="3524.63" y1="1190" x2="3524.63" y2="1200" stroke="#000" stroke-width="5.7"/>
<line x1="3637" y1="1183" x2="3637" y2="1200" stroke="#000" stroke-width="5.7"/>
<text transform="translate(178.9,1262.6) scale(1.0594,1)" font-size="61.63" fill="#000">Clear</text>
<text transform="translate(1303.11,1260.7) scale(1.0925,1)" font-size="61.48" fill="#000">Water</text>
<text transform="translate(2471,1260.7) scale(1.0394,1)" font-size="61.48" fill="#000">Ice</text>
<text transform="translate(3554.11,1262.6) scale(1.0920,1)" font-size="61.63" fill="#000">Other</text>
<rect x="281.9" y="1312.9" width="618.2" height="141.7" fill="none" stroke="#000" stroke-width="6"/>
<circle cx="319" cy="1383.8" r="16.6" fill="#32cd32"/>
<text transform="translate(356.63,1405.6) scale(0.9730,1)" font-size="61.63" fill="#000">FCI-CTTH SL Wat</text>
<rect x="320.7" y="1499.7" width="579.4" height="149" fill="none" stroke="#000" stroke-width="6"/>
<circle cx="358" cy="1574.7" r="16.8" fill="#808080"/>
<text transform="translate(395.76,1596.8) scale(0.9954,1)" font-size="61.63" fill="#000">FCI-CTTH Other</text>
<rect x="1027" y="1313.1" width="584.6" height="141.3" fill="none" stroke="#000" stroke-width="6"/>
<circle cx="1064.1" cy="1383.9" r="16.8" fill="#0000ff"/>
<text transform="translate(1102.54,1405.6) scale(0.9656,1)" font-size="61.63" fill="#000">FCI-CTTH SL Ice</text>
<rect x="2328.1" y="1313.5" width="559.2" height="400.5" fill="none" stroke="#000" stroke-width="6"/>
<polygon points="2365.2,1363.9 2382.2,1393.9 2348.2,1393.9" fill="#ff0000"/>
<text transform="translate(2402.99,1405.2) scale(0.9508,1)" font-size="61.34" fill="#000">ACTRIS CBH</text>
<polygon points="2348.2,1459.9 2382.2,1459.9 2365.2,1489.9" fill="#ff0000"/>
<text transform="translate(2402.99,1491.8) scale(0.9463,1)" font-size="61.34" fill="#000">ACTRIS CTH</text>
<polygon points="2365.2,1536.7 2382.2,1566.7 2348.2,1566.7" fill="#ff0000"/><polygon points="2365.2,1548.56 2372.17,1560.86 2358.23,1560.86" fill="#fff"/>
<text transform="translate(2402.98,1578) scale(0.9632,1)" font-size="61.34" fill="#000">ACTRIS CBH BL</text>
<polygon points="2348.2,1632.7 2382.2,1632.7 2365.2,1662.7" fill="#ff0000"/><polygon points="2358.23,1638.54 2372.17,1638.54 2365.2,1650.84" fill="#fff"/>
<text transform="translate(2402.99,1664.5) scale(0.9587,1)" font-size="61.34" fill="#000">ACTRIS CTH BL</text>
</svg></body></html>
